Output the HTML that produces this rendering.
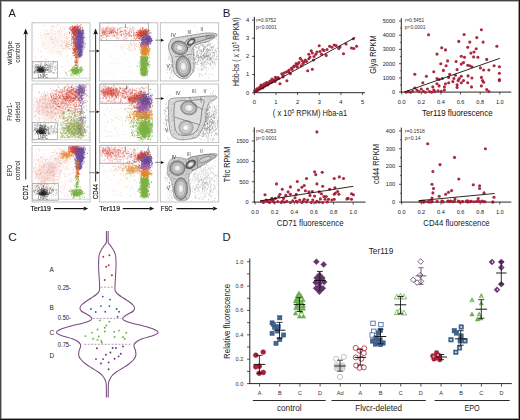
<!DOCTYPE html>
<html><head><meta charset="utf-8"><style>
html,body{margin:0;padding:0;background:#fff;}
svg{display:block;}
text{font-family:"Liberation Sans",sans-serif;}
</style></head><body>
<svg width="520" height="420" viewBox="0 0 520 420" font-family="Liberation Sans, sans-serif">
<rect width="520" height="420" fill="#fff"/>
<text x="222.80" y="16.80" font-size="11.5" text-anchor="start" fill="#1a1a1a" >B</text>
<line x1="254.40" y1="16.90" x2="254.40" y2="93.10" stroke="#111" stroke-width="0.9"/>
<line x1="252.00" y1="92.70" x2="254.40" y2="92.70" stroke="#111" stroke-width="0.7"/>
<text x="249.20" y="94.60" font-size="5.8" text-anchor="end" fill="#222" >0</text>
<line x1="252.00" y1="74.55" x2="254.40" y2="74.55" stroke="#111" stroke-width="0.7"/>
<text x="249.20" y="76.45" font-size="5.8" text-anchor="end" fill="#222" >1</text>
<line x1="252.00" y1="56.40" x2="254.40" y2="56.40" stroke="#111" stroke-width="0.7"/>
<text x="249.20" y="58.30" font-size="5.8" text-anchor="end" fill="#222" >2</text>
<line x1="252.00" y1="38.25" x2="254.40" y2="38.25" stroke="#111" stroke-width="0.7"/>
<text x="249.20" y="40.15" font-size="5.8" text-anchor="end" fill="#222" >3</text>
<line x1="252.00" y1="20.10" x2="254.40" y2="20.10" stroke="#111" stroke-width="0.7"/>
<text x="249.20" y="22.00" font-size="5.8" text-anchor="end" fill="#222" >4</text>
<line x1="254.00" y1="92.70" x2="365.00" y2="92.70" stroke="#111" stroke-width="0.9"/>
<line x1="254.30" y1="92.70" x2="254.30" y2="95.10" stroke="#111" stroke-width="0.7"/>
<text x="254.30" y="103.60" font-size="5.8" text-anchor="middle" fill="#222" >0</text>
<line x1="275.95" y1="92.70" x2="275.95" y2="95.10" stroke="#111" stroke-width="0.7"/>
<text x="275.95" y="103.60" font-size="5.8" text-anchor="middle" fill="#222" >1</text>
<line x1="297.60" y1="92.70" x2="297.60" y2="95.10" stroke="#111" stroke-width="0.7"/>
<text x="297.60" y="103.60" font-size="5.8" text-anchor="middle" fill="#222" >2</text>
<line x1="319.25" y1="92.70" x2="319.25" y2="95.10" stroke="#111" stroke-width="0.7"/>
<text x="319.25" y="103.60" font-size="5.8" text-anchor="middle" fill="#222" >3</text>
<line x1="340.90" y1="92.70" x2="340.90" y2="95.10" stroke="#111" stroke-width="0.7"/>
<text x="340.90" y="103.60" font-size="5.8" text-anchor="middle" fill="#222" >4</text>
<line x1="362.55" y1="92.70" x2="362.55" y2="95.10" stroke="#111" stroke-width="0.7"/>
<text x="362.55" y="103.60" font-size="5.8" text-anchor="middle" fill="#222" >5</text>
<text x="256.10" y="22.30" font-size="5.0" text-anchor="start" fill="#333" textLength="20" lengthAdjust="spacingAndGlyphs">r=0.9752</text>
<text x="256.10" y="29.20" font-size="5.0" text-anchor="start" fill="#333" textLength="20.7" lengthAdjust="spacingAndGlyphs">p&lt;0.0001</text>
<text transform="translate(239.4,51.8) rotate(-90)" font-size="8.6" text-anchor="middle" fill="#222" textLength="68.5" lengthAdjust="spacingAndGlyphs">Hbb-bs ( x 10<tspan font-size="5.5" dy="-3">5</tspan><tspan dy="3"> RPKM)</tspan></text>
<text x="310" y="116.2" font-size="8.6" text-anchor="middle" fill="#222" textLength="74.4" lengthAdjust="spacingAndGlyphs">( x 10<tspan font-size="5.5" dy="-3">5</tspan><tspan dy="3"> RPKM) Hba-a1</tspan></text>
<g fill="#a51d36" fill-opacity="0.95"><circle cx="353.4" cy="38.8" r="1.55"/><circle cx="356.6" cy="46.2" r="1.55"/><circle cx="351.5" cy="48.0" r="1.55"/><circle cx="353.8" cy="48.5" r="1.55"/><circle cx="343.5" cy="53.8" r="1.55"/><circle cx="338.8" cy="48.5" r="1.55"/><circle cx="334.2" cy="45.0" r="1.55"/><circle cx="329.6" cy="46.2" r="1.55"/><circle cx="332.0" cy="47.3" r="1.55"/><circle cx="319.2" cy="45.7" r="1.55"/><circle cx="322.7" cy="49.6" r="1.55"/><circle cx="321.5" cy="54.2" r="1.55"/><circle cx="326.2" cy="55.4" r="1.55"/><circle cx="311.2" cy="50.8" r="1.55"/><circle cx="312.3" cy="53.0" r="1.55"/><circle cx="308.8" cy="54.2" r="1.55"/><circle cx="315.8" cy="54.2" r="1.55"/><circle cx="313.5" cy="60.0" r="1.55"/><circle cx="308.8" cy="58.8" r="1.55"/><circle cx="305.4" cy="60.0" r="1.55"/><circle cx="300.3" cy="58.4" r="1.55"/><circle cx="307.7" cy="70.8" r="1.55"/><circle cx="312.3" cy="69.2" r="1.55"/><circle cx="301.2" cy="65.8" r="1.55"/><circle cx="296.2" cy="63.5" r="1.55"/><circle cx="297.3" cy="67.0" r="1.55"/><circle cx="293.8" cy="67.0" r="1.55"/><circle cx="291.5" cy="68.0" r="1.55"/><circle cx="288.0" cy="71.5" r="1.55"/><circle cx="290.4" cy="73.8" r="1.55"/><circle cx="286.9" cy="80.8" r="1.55"/><circle cx="280.0" cy="83.8" r="1.55"/><circle cx="281.8" cy="73.8" r="1.55"/><circle cx="275.4" cy="77.3" r="1.55"/><circle cx="273.0" cy="80.8" r="1.55"/><circle cx="270.8" cy="82.0" r="1.55"/><circle cx="268.5" cy="83.0" r="1.55"/><circle cx="266.2" cy="84.2" r="1.55"/><circle cx="263.8" cy="85.4" r="1.55"/><circle cx="261.5" cy="86.5" r="1.55"/><circle cx="259.2" cy="87.7" r="1.55"/><circle cx="257.0" cy="88.8" r="1.55"/><circle cx="254.6" cy="90.7" r="1.55"/><circle cx="304.0" cy="62.0" r="1.55"/><circle cx="302.0" cy="60.5" r="1.55"/><circle cx="298.0" cy="64.0" r="1.55"/><circle cx="294.0" cy="66.0" r="1.55"/><circle cx="284.0" cy="73.0" r="1.55"/><circle cx="286.0" cy="72.0" r="1.55"/><circle cx="278.0" cy="77.5" r="1.55"/><circle cx="276.0" cy="79.5" r="1.55"/><circle cx="272.0" cy="79.0" r="1.55"/><circle cx="270.0" cy="81.0" r="1.55"/><circle cx="267.0" cy="82.5" r="1.55"/><circle cx="264.0" cy="84.0" r="1.55"/><circle cx="262.0" cy="86.0" r="1.55"/><circle cx="260.0" cy="87.0" r="1.55"/><circle cx="258.0" cy="89.0" r="1.55"/><circle cx="256.0" cy="90.0" r="1.55"/><circle cx="255.5" cy="91.5" r="1.55"/><circle cx="257.5" cy="90.5" r="1.55"/><circle cx="260.0" cy="89.0" r="1.55"/><circle cx="262.5" cy="88.0" r="1.55"/><circle cx="265.0" cy="86.0" r="1.55"/><circle cx="267.5" cy="85.0" r="1.55"/><circle cx="269.5" cy="83.0" r="1.55"/><circle cx="271.5" cy="82.5" r="1.55"/><circle cx="274.0" cy="80.0" r="1.55"/><circle cx="277.0" cy="79.0" r="1.55"/><circle cx="279.0" cy="78.5" r="1.55"/><circle cx="283.0" cy="75.5" r="1.55"/><circle cx="289.0" cy="70.0" r="1.55"/><circle cx="292.0" cy="69.5" r="1.55"/><circle cx="296.0" cy="65.5" r="1.55"/><circle cx="299.0" cy="62.5" r="1.55"/><circle cx="303.0" cy="63.5" r="1.55"/><circle cx="306.5" cy="61.5" r="1.55"/><circle cx="310.0" cy="57.0" r="1.55"/><circle cx="314.0" cy="56.5" r="1.55"/><circle cx="317.0" cy="52.0" r="1.55"/><circle cx="320.0" cy="51.5" r="1.55"/><circle cx="324.0" cy="50.5" r="1.55"/><circle cx="327.0" cy="49.5" r="1.55"/><circle cx="336.0" cy="45.5" r="1.55"/><circle cx="340.0" cy="47.0" r="1.55"/><circle cx="346.0" cy="44.0" r="1.55"/><circle cx="266.0" cy="83.0" r="1.55"/><circle cx="268.0" cy="84.5" r="1.55"/><circle cx="263.0" cy="87.5" r="1.55"/><circle cx="261.0" cy="85.0" r="1.55"/><circle cx="272.5" cy="81.0" r="1.55"/><circle cx="275.0" cy="81.5" r="1.55"/><circle cx="277.0" cy="78.0" r="1.55"/><circle cx="283.0" cy="77.0" r="1.55"/><circle cx="289.0" cy="72.0" r="1.55"/></g>
<line x1="254.40" y1="92.40" x2="355.30" y2="37.40" stroke="#111" stroke-width="0.9"/>
<line x1="401.30" y1="18.20" x2="401.30" y2="92.50" stroke="#111" stroke-width="0.9"/>
<line x1="398.90" y1="92.10" x2="401.30" y2="92.10" stroke="#111" stroke-width="0.7"/>
<text x="395.20" y="94.00" font-size="5.6" text-anchor="end" fill="#222" >0</text>
<line x1="398.90" y1="77.88" x2="401.30" y2="77.88" stroke="#111" stroke-width="0.7"/>
<text x="395.20" y="79.78" font-size="5.6" text-anchor="end" fill="#222" >1000</text>
<line x1="398.90" y1="63.66" x2="401.30" y2="63.66" stroke="#111" stroke-width="0.7"/>
<text x="395.20" y="65.56" font-size="5.6" text-anchor="end" fill="#222" >2000</text>
<line x1="398.90" y1="49.44" x2="401.30" y2="49.44" stroke="#111" stroke-width="0.7"/>
<text x="395.20" y="51.34" font-size="5.6" text-anchor="end" fill="#222" >3000</text>
<line x1="398.90" y1="35.22" x2="401.30" y2="35.22" stroke="#111" stroke-width="0.7"/>
<text x="395.20" y="37.12" font-size="5.6" text-anchor="end" fill="#222" >4000</text>
<line x1="398.90" y1="21.00" x2="401.30" y2="21.00" stroke="#111" stroke-width="0.7"/>
<text x="395.20" y="22.90" font-size="5.6" text-anchor="end" fill="#222" >5000</text>
<line x1="399.90" y1="84.99" x2="401.30" y2="84.99" stroke="#111" stroke-width="0.6"/>
<line x1="399.90" y1="70.77" x2="401.30" y2="70.77" stroke="#111" stroke-width="0.6"/>
<line x1="399.90" y1="56.55" x2="401.30" y2="56.55" stroke="#111" stroke-width="0.6"/>
<line x1="399.90" y1="42.33" x2="401.30" y2="42.33" stroke="#111" stroke-width="0.6"/>
<line x1="399.90" y1="28.11" x2="401.30" y2="28.11" stroke="#111" stroke-width="0.6"/>
<line x1="400.90" y1="92.10" x2="511.30" y2="92.10" stroke="#111" stroke-width="0.9"/>
<line x1="401.70" y1="92.10" x2="401.70" y2="94.50" stroke="#111" stroke-width="0.7"/>
<text x="401.70" y="103.90" font-size="5.6" text-anchor="middle" fill="#222" >0.0</text>
<line x1="421.32" y1="92.10" x2="421.32" y2="94.50" stroke="#111" stroke-width="0.7"/>
<text x="421.32" y="103.90" font-size="5.6" text-anchor="middle" fill="#222" >0.2</text>
<line x1="440.94" y1="92.10" x2="440.94" y2="94.50" stroke="#111" stroke-width="0.7"/>
<text x="440.94" y="103.90" font-size="5.6" text-anchor="middle" fill="#222" >0.4</text>
<line x1="460.56" y1="92.10" x2="460.56" y2="94.50" stroke="#111" stroke-width="0.7"/>
<text x="460.56" y="103.90" font-size="5.6" text-anchor="middle" fill="#222" >0.6</text>
<line x1="480.18" y1="92.10" x2="480.18" y2="94.50" stroke="#111" stroke-width="0.7"/>
<text x="480.18" y="103.90" font-size="5.6" text-anchor="middle" fill="#222" >0.8</text>
<line x1="499.80" y1="92.10" x2="499.80" y2="94.50" stroke="#111" stroke-width="0.7"/>
<text x="499.80" y="103.90" font-size="5.6" text-anchor="middle" fill="#222" >1.0</text>
<text x="404.80" y="22.30" font-size="5.0" text-anchor="start" fill="#333" textLength="19.5" lengthAdjust="spacingAndGlyphs">r=0.5451</text>
<text x="404.80" y="29.20" font-size="5.0" text-anchor="start" fill="#333" textLength="20.7" lengthAdjust="spacingAndGlyphs">p&lt;0.0001</text>
<text transform="translate(376.4,54.6) rotate(-90)" font-size="8.3" text-anchor="middle" fill="#222" textLength="38.5" lengthAdjust="spacingAndGlyphs">Glya RPKM</text>
<text x="457.30" y="115.90" font-size="8.4" text-anchor="middle" fill="#111" textLength="70.6" lengthAdjust="spacingAndGlyphs">Ter119 fluorescence</text>
<g fill="#a51d36" fill-opacity="0.95"><circle cx="428.6" cy="34.7" r="1.55"/><circle cx="481.4" cy="29.8" r="1.55"/><circle cx="464.1" cy="34.5" r="1.55"/><circle cx="476.8" cy="37.6" r="1.55"/><circle cx="458.8" cy="41.4" r="1.55"/><circle cx="469.8" cy="42.1" r="1.55"/><circle cx="483.1" cy="42.1" r="1.55"/><circle cx="441.7" cy="47.8" r="1.55"/><circle cx="445.5" cy="49.9" r="1.55"/><circle cx="467.7" cy="47.2" r="1.55"/><circle cx="496.9" cy="46.3" r="1.55"/><circle cx="476.2" cy="48.8" r="1.55"/><circle cx="437.0" cy="54.1" r="1.55"/><circle cx="470.9" cy="53.1" r="1.55"/><circle cx="474.0" cy="52.0" r="1.55"/><circle cx="461.3" cy="56.3" r="1.55"/><circle cx="464.5" cy="57.3" r="1.55"/><circle cx="473.6" cy="56.9" r="1.55"/><circle cx="477.9" cy="57.3" r="1.55"/><circle cx="486.7" cy="59.4" r="1.55"/><circle cx="447.6" cy="60.9" r="1.55"/><circle cx="456.1" cy="61.5" r="1.55"/><circle cx="463.5" cy="62.6" r="1.55"/><circle cx="461.3" cy="64.1" r="1.55"/><circle cx="440.8" cy="63.7" r="1.55"/><circle cx="446.1" cy="65.8" r="1.55"/><circle cx="467.7" cy="65.3" r="1.55"/><circle cx="469.8" cy="65.8" r="1.55"/><circle cx="471.9" cy="66.8" r="1.55"/><circle cx="494.1" cy="65.8" r="1.55"/><circle cx="499.4" cy="66.8" r="1.55"/><circle cx="480.4" cy="67.9" r="1.55"/><circle cx="483.6" cy="70.0" r="1.55"/><circle cx="488.9" cy="70.0" r="1.55"/><circle cx="433.8" cy="71.7" r="1.55"/><circle cx="414.8" cy="74.2" r="1.55"/><circle cx="443.4" cy="70.4" r="1.55"/><circle cx="457.1" cy="69.6" r="1.55"/><circle cx="499.4" cy="73.2" r="1.55"/><circle cx="426.4" cy="76.3" r="1.55"/><circle cx="449.7" cy="74.2" r="1.55"/><circle cx="455.4" cy="75.3" r="1.55"/><circle cx="468.1" cy="75.9" r="1.55"/><circle cx="481.4" cy="77.4" r="1.55"/><circle cx="448.7" cy="77.4" r="1.55"/><circle cx="437.0" cy="78.5" r="1.55"/><circle cx="439.1" cy="79.5" r="1.55"/><circle cx="442.3" cy="78.5" r="1.55"/><circle cx="453.9" cy="78.5" r="1.55"/><circle cx="461.3" cy="76.3" r="1.55"/><circle cx="471.9" cy="78.0" r="1.55"/><circle cx="499.4" cy="79.5" r="1.55"/><circle cx="499.4" cy="80.6" r="1.55"/><circle cx="422.8" cy="82.7" r="1.55"/><circle cx="437.0" cy="83.8" r="1.55"/><circle cx="445.5" cy="83.8" r="1.55"/><circle cx="452.9" cy="81.6" r="1.55"/><circle cx="458.2" cy="80.6" r="1.55"/><circle cx="463.5" cy="80.6" r="1.55"/><circle cx="461.3" cy="82.7" r="1.55"/><circle cx="467.7" cy="82.7" r="1.55"/><circle cx="482.5" cy="80.6" r="1.55"/><circle cx="483.6" cy="82.3" r="1.55"/><circle cx="448.7" cy="82.7" r="1.55"/><circle cx="439.1" cy="85.9" r="1.55"/><circle cx="444.4" cy="86.9" r="1.55"/><circle cx="457.1" cy="87.4" r="1.55"/><circle cx="471.5" cy="86.9" r="1.55"/><circle cx="481.4" cy="85.9" r="1.55"/><circle cx="414.8" cy="88.0" r="1.55"/><circle cx="432.8" cy="86.9" r="1.55"/><circle cx="427.5" cy="89.0" r="1.55"/><circle cx="421.2" cy="89.0" r="1.55"/><circle cx="416.9" cy="90.1" r="1.55"/><circle cx="412.7" cy="91.2" r="1.55"/><circle cx="408.5" cy="91.6" r="1.55"/><circle cx="419.0" cy="91.6" r="1.55"/><circle cx="423.3" cy="91.2" r="1.55"/><circle cx="429.6" cy="91.6" r="1.55"/><circle cx="433.8" cy="90.1" r="1.55"/><circle cx="438.1" cy="90.7" r="1.55"/><circle cx="444.4" cy="90.1" r="1.55"/><circle cx="486.7" cy="89.5" r="1.55"/><circle cx="488.9" cy="91.6" r="1.55"/><circle cx="410.6" cy="92.2" r="1.55"/><circle cx="431.7" cy="92.2" r="1.55"/><circle cx="425.4" cy="92.2" r="1.55"/><circle cx="406.3" cy="92.2" r="1.55"/><circle cx="434.9" cy="91.6" r="1.55"/><circle cx="441.3" cy="91.2" r="1.55"/><circle cx="457.1" cy="84.8" r="1.55"/><circle cx="459.2" cy="78.5" r="1.55"/></g>
<line x1="404.00" y1="92.10" x2="499.80" y2="58.30" stroke="#111" stroke-width="0.9"/>
<line x1="254.30" y1="127.40" x2="254.30" y2="202.50" stroke="#111" stroke-width="0.9"/>
<line x1="251.90" y1="202.10" x2="254.30" y2="202.10" stroke="#111" stroke-width="0.7"/>
<text x="248.60" y="204.00" font-size="5.6" text-anchor="end" fill="#222" >0</text>
<line x1="251.90" y1="181.75" x2="254.30" y2="181.75" stroke="#111" stroke-width="0.7"/>
<text x="248.60" y="183.65" font-size="5.6" text-anchor="end" fill="#222" >500</text>
<line x1="251.90" y1="161.40" x2="254.30" y2="161.40" stroke="#111" stroke-width="0.7"/>
<text x="248.60" y="163.30" font-size="5.6" text-anchor="end" fill="#222" >1000</text>
<line x1="251.90" y1="141.05" x2="254.30" y2="141.05" stroke="#111" stroke-width="0.7"/>
<text x="248.60" y="142.95" font-size="5.6" text-anchor="end" fill="#222" >1500</text>
<line x1="252.90" y1="191.92" x2="254.30" y2="191.92" stroke="#111" stroke-width="0.6"/>
<line x1="252.90" y1="171.57" x2="254.30" y2="171.57" stroke="#111" stroke-width="0.6"/>
<line x1="252.90" y1="151.22" x2="254.30" y2="151.22" stroke="#111" stroke-width="0.6"/>
<line x1="252.90" y1="130.88" x2="254.30" y2="130.88" stroke="#111" stroke-width="0.6"/>
<line x1="253.90" y1="202.10" x2="365.60" y2="202.10" stroke="#111" stroke-width="0.9"/>
<line x1="255.10" y1="202.10" x2="255.10" y2="204.50" stroke="#111" stroke-width="0.7"/>
<text x="255.10" y="213.80" font-size="5.6" text-anchor="middle" fill="#222" >0.0</text>
<line x1="274.72" y1="202.10" x2="274.72" y2="204.50" stroke="#111" stroke-width="0.7"/>
<text x="274.72" y="213.80" font-size="5.6" text-anchor="middle" fill="#222" >0.2</text>
<line x1="294.34" y1="202.10" x2="294.34" y2="204.50" stroke="#111" stroke-width="0.7"/>
<text x="294.34" y="213.80" font-size="5.6" text-anchor="middle" fill="#222" >0.4</text>
<line x1="313.96" y1="202.10" x2="313.96" y2="204.50" stroke="#111" stroke-width="0.7"/>
<text x="313.96" y="213.80" font-size="5.6" text-anchor="middle" fill="#222" >0.6</text>
<line x1="333.58" y1="202.10" x2="333.58" y2="204.50" stroke="#111" stroke-width="0.7"/>
<text x="333.58" y="213.80" font-size="5.6" text-anchor="middle" fill="#222" >0.8</text>
<line x1="353.20" y1="202.10" x2="353.20" y2="204.50" stroke="#111" stroke-width="0.7"/>
<text x="353.20" y="213.80" font-size="5.6" text-anchor="middle" fill="#222" >1.0</text>
<text x="256.10" y="133.10" font-size="5.0" text-anchor="start" fill="#333" textLength="20" lengthAdjust="spacingAndGlyphs">r=0.4053</text>
<text x="256.10" y="139.60" font-size="5.0" text-anchor="start" fill="#333" textLength="20.7" lengthAdjust="spacingAndGlyphs">p&lt;0.0001</text>
<text transform="translate(229.8,164.5) rotate(-90)" font-size="8.3" text-anchor="middle" fill="#222" textLength="35.3" lengthAdjust="spacingAndGlyphs">Tfrc RPKM</text>
<text x="310.20" y="226.00" font-size="8.4" text-anchor="middle" fill="#222" textLength="66.7" lengthAdjust="spacingAndGlyphs">CD71 fluorescence</text>
<g fill="#a51d36" fill-opacity="0.95"><circle cx="316.9" cy="131.9" r="1.55"/><circle cx="314.6" cy="171.8" r="1.55"/><circle cx="315.8" cy="174.6" r="1.55"/><circle cx="322.2" cy="172.3" r="1.55"/><circle cx="306.5" cy="178.5" r="1.55"/><circle cx="297.3" cy="181.5" r="1.55"/><circle cx="276.5" cy="183.9" r="1.55"/><circle cx="339.3" cy="176.9" r="1.55"/><circle cx="343.5" cy="178.5" r="1.55"/><circle cx="334.2" cy="178.5" r="1.55"/><circle cx="316.9" cy="183.9" r="1.55"/><circle cx="322.7" cy="186.2" r="1.55"/><circle cx="304.2" cy="185.5" r="1.55"/><circle cx="301.9" cy="187.3" r="1.55"/><circle cx="290.4" cy="186.9" r="1.55"/><circle cx="282.3" cy="189.2" r="1.55"/><circle cx="265.0" cy="194.7" r="1.55"/><circle cx="334.9" cy="187.8" r="1.55"/><circle cx="337.7" cy="191.5" r="1.55"/><circle cx="335.4" cy="193.1" r="1.55"/><circle cx="334.2" cy="194.2" r="1.55"/><circle cx="351.5" cy="193.8" r="1.55"/><circle cx="353.4" cy="194.7" r="1.55"/><circle cx="298.5" cy="190.1" r="1.55"/><circle cx="305.4" cy="190.8" r="1.55"/><circle cx="308.9" cy="191.9" r="1.55"/><circle cx="312.3" cy="191.5" r="1.55"/><circle cx="319.2" cy="191.9" r="1.55"/><circle cx="321.5" cy="193.8" r="1.55"/><circle cx="323.9" cy="196.5" r="1.55"/><circle cx="326.2" cy="196.5" r="1.55"/><circle cx="320.4" cy="198.9" r="1.55"/><circle cx="288.1" cy="191.9" r="1.55"/><circle cx="290.4" cy="194.2" r="1.55"/><circle cx="285.8" cy="195.4" r="1.55"/><circle cx="280.0" cy="194.2" r="1.55"/><circle cx="278.8" cy="196.5" r="1.55"/><circle cx="283.5" cy="198.4" r="1.55"/><circle cx="275.4" cy="198.4" r="1.55"/><circle cx="273.1" cy="200.0" r="1.55"/><circle cx="270.8" cy="200.0" r="1.55"/><circle cx="267.3" cy="201.2" r="1.55"/><circle cx="263.8" cy="201.6" r="1.55"/><circle cx="261.5" cy="201.2" r="1.55"/><circle cx="268.5" cy="201.6" r="1.55"/><circle cx="277.7" cy="201.6" r="1.55"/><circle cx="286.9" cy="201.2" r="1.55"/><circle cx="292.7" cy="200.7" r="1.55"/><circle cx="299.6" cy="200.0" r="1.55"/><circle cx="304.2" cy="199.3" r="1.55"/><circle cx="307.7" cy="200.0" r="1.55"/><circle cx="312.8" cy="200.0" r="1.55"/><circle cx="316.9" cy="201.2" r="1.55"/><circle cx="325.0" cy="199.3" r="1.55"/><circle cx="331.9" cy="200.0" r="1.55"/><circle cx="334.2" cy="199.3" r="1.55"/><circle cx="348.1" cy="198.4" r="1.55"/><circle cx="351.5" cy="199.3" r="1.55"/><circle cx="295.0" cy="197.7" r="1.55"/><circle cx="314.6" cy="196.1" r="1.55"/><circle cx="329.6" cy="189.2" r="1.55"/><circle cx="310.0" cy="195.4" r="1.55"/><circle cx="273.1" cy="201.6" r="1.55"/><circle cx="282.3" cy="201.2" r="1.55"/><circle cx="296.2" cy="201.2" r="1.55"/><circle cx="303.1" cy="201.2" r="1.55"/><circle cx="328.5" cy="199.3" r="1.55"/><circle cx="338.9" cy="194.2" r="1.55"/><circle cx="346.9" cy="198.9" r="1.55"/><circle cx="271.9" cy="198.4" r="1.55"/><circle cx="266.2" cy="200.0" r="1.55"/><circle cx="296.2" cy="194.2" r="1.55"/><circle cx="274.2" cy="202.3" r="1.55"/><circle cx="281.2" cy="202.5" r="1.55"/><circle cx="284.6" cy="202.1" r="1.55"/><circle cx="290.4" cy="202.5" r="1.55"/><circle cx="297.3" cy="202.1" r="1.55"/><circle cx="301.9" cy="202.5" r="1.55"/><circle cx="306.5" cy="201.9" r="1.55"/><circle cx="311.2" cy="202.5" r="1.55"/><circle cx="315.8" cy="202.3" r="1.55"/><circle cx="319.2" cy="202.1" r="1.55"/><circle cx="322.7" cy="202.5" r="1.55"/><circle cx="327.3" cy="201.9" r="1.55"/><circle cx="263.4" cy="202.5" r="1.55"/><circle cx="269.6" cy="202.5" r="1.55"/></g>
<line x1="260.40" y1="200.80" x2="353.30" y2="186.30" stroke="#111" stroke-width="0.9"/>
<line x1="401.30" y1="127.60" x2="401.30" y2="202.50" stroke="#111" stroke-width="0.9"/>
<line x1="398.90" y1="202.10" x2="401.30" y2="202.10" stroke="#111" stroke-width="0.7"/>
<text x="395.20" y="204.00" font-size="5.6" text-anchor="end" fill="#222" >0</text>
<line x1="398.90" y1="184.30" x2="401.30" y2="184.30" stroke="#111" stroke-width="0.7"/>
<text x="395.20" y="186.20" font-size="5.6" text-anchor="end" fill="#222" >100</text>
<line x1="398.90" y1="166.50" x2="401.30" y2="166.50" stroke="#111" stroke-width="0.7"/>
<text x="395.20" y="168.40" font-size="5.6" text-anchor="end" fill="#222" >200</text>
<line x1="398.90" y1="148.70" x2="401.30" y2="148.70" stroke="#111" stroke-width="0.7"/>
<text x="395.20" y="150.60" font-size="5.6" text-anchor="end" fill="#222" >300</text>
<line x1="398.90" y1="130.90" x2="401.30" y2="130.90" stroke="#111" stroke-width="0.7"/>
<text x="395.20" y="132.80" font-size="5.6" text-anchor="end" fill="#222" >400</text>
<line x1="399.90" y1="193.20" x2="401.30" y2="193.20" stroke="#111" stroke-width="0.6"/>
<line x1="399.90" y1="175.40" x2="401.30" y2="175.40" stroke="#111" stroke-width="0.6"/>
<line x1="399.90" y1="157.60" x2="401.30" y2="157.60" stroke="#111" stroke-width="0.6"/>
<line x1="399.90" y1="139.80" x2="401.30" y2="139.80" stroke="#111" stroke-width="0.6"/>
<line x1="400.90" y1="202.10" x2="511.30" y2="202.10" stroke="#111" stroke-width="0.9"/>
<line x1="401.70" y1="202.10" x2="401.70" y2="204.50" stroke="#111" stroke-width="0.7"/>
<text x="401.70" y="213.80" font-size="5.6" text-anchor="middle" fill="#222" >0.0</text>
<line x1="421.32" y1="202.10" x2="421.32" y2="204.50" stroke="#111" stroke-width="0.7"/>
<text x="421.32" y="213.80" font-size="5.6" text-anchor="middle" fill="#222" >0.2</text>
<line x1="440.94" y1="202.10" x2="440.94" y2="204.50" stroke="#111" stroke-width="0.7"/>
<text x="440.94" y="213.80" font-size="5.6" text-anchor="middle" fill="#222" >0.4</text>
<line x1="460.56" y1="202.10" x2="460.56" y2="204.50" stroke="#111" stroke-width="0.7"/>
<text x="460.56" y="213.80" font-size="5.6" text-anchor="middle" fill="#222" >0.6</text>
<line x1="480.18" y1="202.10" x2="480.18" y2="204.50" stroke="#111" stroke-width="0.7"/>
<text x="480.18" y="213.80" font-size="5.6" text-anchor="middle" fill="#222" >0.8</text>
<line x1="499.80" y1="202.10" x2="499.80" y2="204.50" stroke="#111" stroke-width="0.7"/>
<text x="499.80" y="213.80" font-size="5.6" text-anchor="middle" fill="#222" >1.0</text>
<text x="404.80" y="133.10" font-size="5.0" text-anchor="start" fill="#333" textLength="20" lengthAdjust="spacingAndGlyphs">r=0.1518</text>
<text x="404.80" y="139.60" font-size="5.0" text-anchor="start" fill="#333" textLength="15.8" lengthAdjust="spacingAndGlyphs">p&lt;0.14</text>
<text transform="translate(378.6,164) rotate(-90)" font-size="8.3" text-anchor="middle" fill="#222" textLength="40" lengthAdjust="spacingAndGlyphs">cd44 RPKM</text>
<text x="456.50" y="226.00" font-size="8.4" text-anchor="middle" fill="#222" textLength="66.3" lengthAdjust="spacingAndGlyphs">CD44 fluorescence</text>
<g fill="#a51d36" fill-opacity="0.95"><circle cx="427.7" cy="143.8" r="1.55"/><circle cx="485.4" cy="148.7" r="1.55"/><circle cx="454.5" cy="157.4" r="1.55"/><circle cx="440.0" cy="164.6" r="1.55"/><circle cx="432.9" cy="171.5" r="1.55"/><circle cx="458.8" cy="179.0" r="1.55"/><circle cx="432.0" cy="184.2" r="1.55"/><circle cx="473.3" cy="184.8" r="1.55"/><circle cx="479.6" cy="185.7" r="1.55"/><circle cx="479.6" cy="188.5" r="1.55"/><circle cx="433.5" cy="188.5" r="1.55"/><circle cx="432.9" cy="192.9" r="1.55"/><circle cx="439.2" cy="196.3" r="1.55"/><circle cx="445.6" cy="194.3" r="1.55"/><circle cx="448.5" cy="192.3" r="1.55"/><circle cx="451.6" cy="190.6" r="1.55"/><circle cx="484.0" cy="192.9" r="1.55"/><circle cx="478.2" cy="198.6" r="1.55"/><circle cx="494.0" cy="197.2" r="1.55"/><circle cx="432.0" cy="198.0" r="1.55"/><circle cx="455.0" cy="199.0" r="1.55"/><circle cx="443.1" cy="201.9" r="1.55"/><circle cx="468.0" cy="202.0" r="1.55"/><circle cx="459.2" cy="201.7" r="1.55"/><circle cx="422.9" cy="201.5" r="1.55"/><circle cx="421.3" cy="201.6" r="1.55"/><circle cx="423.8" cy="202.0" r="1.55"/><circle cx="450.8" cy="201.1" r="1.55"/><circle cx="427.9" cy="201.8" r="1.55"/><circle cx="466.2" cy="201.0" r="1.55"/><circle cx="462.4" cy="201.6" r="1.55"/><circle cx="492.7" cy="202.0" r="1.55"/><circle cx="483.7" cy="201.8" r="1.55"/><circle cx="429.5" cy="202.0" r="1.55"/><circle cx="441.9" cy="201.1" r="1.55"/><circle cx="432.2" cy="201.4" r="1.55"/><circle cx="467.1" cy="201.7" r="1.55"/><circle cx="460.1" cy="202.0" r="1.55"/><circle cx="423.0" cy="201.9" r="1.55"/><circle cx="470.2" cy="201.6" r="1.55"/><circle cx="442.4" cy="201.4" r="1.55"/><circle cx="452.9" cy="201.7" r="1.55"/><circle cx="478.9" cy="201.3" r="1.55"/><circle cx="437.1" cy="201.4" r="1.55"/><circle cx="458.4" cy="201.0" r="1.55"/><circle cx="473.9" cy="201.8" r="1.55"/><circle cx="493.0" cy="202.0" r="1.55"/><circle cx="450.3" cy="201.2" r="1.55"/><circle cx="430.1" cy="201.5" r="1.55"/><circle cx="421.5" cy="201.3" r="1.55"/><circle cx="476.6" cy="201.4" r="1.55"/><circle cx="485.0" cy="201.7" r="1.55"/><circle cx="471.3" cy="201.4" r="1.55"/><circle cx="462.6" cy="201.6" r="1.55"/><circle cx="482.3" cy="201.0" r="1.55"/><circle cx="454.5" cy="201.3" r="1.55"/><circle cx="423.1" cy="201.3" r="1.55"/><circle cx="467.7" cy="200.9" r="1.55"/><circle cx="481.0" cy="201.8" r="1.55"/><circle cx="447.8" cy="201.3" r="1.55"/><circle cx="420.2" cy="201.5" r="1.55"/><circle cx="431.3" cy="202.0" r="1.55"/><circle cx="423.0" cy="201.2" r="1.55"/><circle cx="428.3" cy="201.8" r="1.55"/><circle cx="448.2" cy="201.1" r="1.55"/><circle cx="424.6" cy="201.6" r="1.55"/></g>
<line x1="418.50" y1="200.70" x2="494.60" y2="193.50" stroke="#111" stroke-width="0.9"/>
<text x="8.20" y="240.80" font-size="11.8" text-anchor="start" fill="#1a1a1a" >C</text>
<path d="M106.40,231.00 C106.40,231.83 106.42,234.08 106.40,236.00 C106.38,237.92 106.73,240.83 106.30,242.50 C105.87,244.17 104.73,244.58 103.80,246.00 C102.87,247.42 101.50,249.33 100.70,251.00 C99.90,252.67 99.35,254.17 99.00,256.00 C98.65,257.83 98.65,259.67 98.60,262.00 C98.55,264.33 98.58,267.00 98.70,270.00 C98.82,273.00 99.15,277.17 99.30,280.00 C99.45,282.83 99.60,285.17 99.60,287.00 C99.60,288.83 99.85,289.75 99.30,291.00 C98.75,292.25 97.63,293.33 96.30,294.50 C94.97,295.67 93.05,296.83 91.30,298.00 C89.55,299.17 87.42,300.33 85.80,301.50 C84.18,302.67 82.57,303.92 81.60,305.00 C80.63,306.08 80.05,307.00 80.00,308.00 C79.95,309.00 80.25,310.00 81.30,311.00 C82.35,312.00 84.80,313.08 86.30,314.00 C87.80,314.92 89.35,315.75 90.30,316.50 C91.25,317.25 92.00,317.83 92.00,318.50 C92.00,319.17 91.75,319.75 90.30,320.50 C88.85,321.25 86.47,322.08 83.30,323.00 C80.13,323.92 74.97,325.00 71.30,326.00 C67.63,327.00 63.77,327.93 61.30,329.00 C58.83,330.07 56.50,331.32 56.50,332.40 C56.50,333.48 58.67,334.45 61.30,335.50 C63.93,336.55 69.55,337.70 72.30,338.70 C75.05,339.70 76.43,340.53 77.80,341.50 C79.17,342.47 80.08,343.50 80.50,344.50 C80.92,345.50 80.55,346.42 80.30,347.50 C80.05,348.58 79.23,349.58 79.00,351.00 C78.77,352.42 78.52,354.50 78.90,356.00 C79.28,357.50 80.15,358.67 81.30,360.00 C82.45,361.33 84.05,362.67 85.80,364.00 C87.55,365.33 89.72,366.67 91.80,368.00 C93.88,369.33 96.47,370.67 98.30,372.00 C100.13,373.33 101.67,374.67 102.80,376.00 C103.93,377.33 104.53,378.67 105.10,380.00 C105.67,381.33 105.98,381.08 106.20,384.00 C106.42,386.92 106.37,395.25 106.40,397.50" fill="none" stroke="#7b4a82" stroke-width="1.05"/>
<path d="M108.20,231.00 C108.20,231.83 108.18,234.08 108.20,236.00 C108.22,237.92 107.87,240.83 108.30,242.50 C108.73,244.17 109.87,244.58 110.80,246.00 C111.73,247.42 113.10,249.33 113.90,251.00 C114.70,252.67 115.25,254.17 115.60,256.00 C115.95,257.83 115.95,259.67 116.00,262.00 C116.05,264.33 116.02,267.00 115.90,270.00 C115.78,273.00 115.45,277.17 115.30,280.00 C115.15,282.83 115.00,285.17 115.00,287.00 C115.00,288.83 114.75,289.75 115.30,291.00 C115.85,292.25 116.97,293.33 118.30,294.50 C119.63,295.67 121.55,296.83 123.30,298.00 C125.05,299.17 127.18,300.33 128.80,301.50 C130.42,302.67 132.03,303.92 133.00,305.00 C133.97,306.08 134.55,307.00 134.60,308.00 C134.65,309.00 134.35,310.00 133.30,311.00 C132.25,312.00 129.80,313.08 128.30,314.00 C126.80,314.92 125.25,315.75 124.30,316.50 C123.35,317.25 122.60,317.83 122.60,318.50 C122.60,319.17 122.85,319.75 124.30,320.50 C125.75,321.25 128.13,322.08 131.30,323.00 C134.47,323.92 139.63,325.00 143.30,326.00 C146.97,327.00 150.83,327.93 153.30,329.00 C155.77,330.07 158.10,331.32 158.10,332.40 C158.10,333.48 155.93,334.45 153.30,335.50 C150.67,336.55 145.05,337.70 142.30,338.70 C139.55,339.70 138.17,340.53 136.80,341.50 C135.43,342.47 134.52,343.50 134.10,344.50 C133.68,345.50 134.05,346.42 134.30,347.50 C134.55,348.58 135.37,349.58 135.60,351.00 C135.83,352.42 136.08,354.50 135.70,356.00 C135.32,357.50 134.45,358.67 133.30,360.00 C132.15,361.33 130.55,362.67 128.80,364.00 C127.05,365.33 124.88,366.67 122.80,368.00 C120.72,369.33 118.13,370.67 116.30,372.00 C114.47,373.33 112.93,374.67 111.80,376.00 C110.67,377.33 110.07,378.67 109.50,380.00 C108.93,381.33 108.62,381.08 108.40,384.00 C108.18,386.92 108.23,395.25 108.20,397.50" fill="none" stroke="#7b4a82" stroke-width="1.05"/>
<line x1="100.6" y1="287.2" x2="114" y2="287.2" stroke="#9b7fa0" stroke-width="0.75" stroke-dasharray="2,1.4"/>
<line x1="93" y1="318.4" x2="121.2" y2="318.4" stroke="#9b7fa0" stroke-width="0.75" stroke-dasharray="2,1.4"/>
<line x1="84.3" y1="344.3" x2="130.7" y2="344.3" stroke="#9b7fa0" stroke-width="0.75" stroke-dasharray="2,1.4"/>
<text x="51.70" y="271.60" font-size="6.4" text-anchor="middle" fill="#222" >A</text>
<text x="51.70" y="309.60" font-size="6.4" text-anchor="middle" fill="#222" >B</text>
<text x="51.70" y="335.30" font-size="6.4" text-anchor="middle" fill="#222" >C</text>
<text x="51.70" y="358.10" font-size="6.4" text-anchor="middle" fill="#222" >D</text>
<text x="57.80" y="289.70" font-size="6.6" text-anchor="start" fill="#222" textLength="13.2" lengthAdjust="spacingAndGlyphs">0.25-</text>
<text x="57.80" y="320.10" font-size="6.6" text-anchor="start" fill="#222" textLength="13.2" lengthAdjust="spacingAndGlyphs">0.50-</text>
<text x="57.80" y="346.70" font-size="6.6" text-anchor="start" fill="#222" textLength="13.2" lengthAdjust="spacingAndGlyphs">0.75-</text>
<g fill="#c0283a"><circle cx="103.3" cy="256.8" r="0.95"/><circle cx="109.4" cy="255.2" r="0.95"/><circle cx="106.2" cy="266.7" r="0.95"/><circle cx="108.7" cy="265.3" r="0.95"/><circle cx="111.9" cy="275.2" r="0.95"/><circle cx="104.7" cy="280.0" r="0.95"/></g>
<g fill="#3a5fa0"><circle cx="102.8" cy="296.6" r="0.95"/><circle cx="110.0" cy="299.6" r="0.95"/><circle cx="100.9" cy="306.1" r="0.95"/><circle cx="109.4" cy="306.1" r="0.95"/><circle cx="91.0" cy="309.0" r="0.95"/><circle cx="95.7" cy="312.0" r="0.95"/><circle cx="105.2" cy="311.8" r="0.95"/><circle cx="116.7" cy="309.0" r="0.95"/><circle cx="119.1" cy="311.8" r="0.95"/><circle cx="117.6" cy="316.8" r="0.95"/></g>
<g fill="#6cb33e"><circle cx="99.8" cy="320.4" r="0.95"/><circle cx="109.3" cy="321.7" r="0.95"/><circle cx="106.4" cy="325.5" r="0.95"/><circle cx="97.5" cy="329.5" r="0.95"/><circle cx="104.8" cy="327.7" r="0.95"/><circle cx="104.8" cy="331.5" r="0.95"/><circle cx="92.0" cy="332.6" r="0.95"/><circle cx="114.1" cy="331.7" r="0.95"/><circle cx="119.0" cy="330.6" r="0.95"/><circle cx="126.3" cy="332.8" r="0.95"/><circle cx="85.4" cy="336.1" r="0.95"/><circle cx="98.7" cy="336.5" r="0.95"/><circle cx="114.6" cy="337.0" r="0.95"/><circle cx="123.0" cy="337.0" r="0.95"/><circle cx="124.7" cy="338.7" r="0.95"/><circle cx="93.1" cy="338.7" r="0.95"/><circle cx="97.5" cy="339.9" r="0.95"/><circle cx="101.3" cy="341.0" r="0.95"/><circle cx="102.0" cy="342.7" r="0.95"/></g>
<g fill="#6a3378"><circle cx="96.9" cy="348.3" r="0.95"/><circle cx="112.6" cy="348.0" r="0.95"/><circle cx="115.9" cy="348.0" r="0.95"/><circle cx="123.0" cy="346.5" r="0.95"/><circle cx="110.4" cy="352.5" r="0.95"/><circle cx="106.0" cy="354.7" r="0.95"/><circle cx="120.8" cy="353.8" r="0.95"/><circle cx="118.6" cy="356.4" r="0.95"/><circle cx="114.6" cy="358.7" r="0.95"/><circle cx="96.0" cy="359.1" r="0.95"/><circle cx="103.1" cy="359.1" r="0.95"/><circle cx="108.6" cy="362.4" r="0.95"/><circle cx="100.9" cy="363.5" r="0.95"/><circle cx="108.6" cy="369.3" r="0.95"/></g>
<text x="222.60" y="240.80" font-size="11.2" text-anchor="start" fill="#1a1a1a" >D</text>
<line x1="249.80" y1="258.50" x2="249.80" y2="384.00" stroke="#111" stroke-width="0.9"/>
<line x1="247.00" y1="383.60" x2="249.80" y2="383.60" stroke="#111" stroke-width="0.7"/>
<text x="243.30" y="385.50" font-size="5.6" text-anchor="end" fill="#333" >0.0</text>
<line x1="247.00" y1="371.41" x2="249.80" y2="371.41" stroke="#111" stroke-width="0.7"/>
<line x1="247.00" y1="359.22" x2="249.80" y2="359.22" stroke="#111" stroke-width="0.7"/>
<text x="243.30" y="361.12" font-size="5.6" text-anchor="end" fill="#333" >0.2</text>
<line x1="247.00" y1="347.03" x2="249.80" y2="347.03" stroke="#111" stroke-width="0.7"/>
<line x1="247.00" y1="334.84" x2="249.80" y2="334.84" stroke="#111" stroke-width="0.7"/>
<text x="243.30" y="336.74" font-size="5.6" text-anchor="end" fill="#333" >0.4</text>
<line x1="247.00" y1="322.65" x2="249.80" y2="322.65" stroke="#111" stroke-width="0.7"/>
<line x1="247.00" y1="310.46" x2="249.80" y2="310.46" stroke="#111" stroke-width="0.7"/>
<text x="243.30" y="312.36" font-size="5.6" text-anchor="end" fill="#333" >0.6</text>
<line x1="247.00" y1="298.27" x2="249.80" y2="298.27" stroke="#111" stroke-width="0.7"/>
<line x1="247.00" y1="286.08" x2="249.80" y2="286.08" stroke="#111" stroke-width="0.7"/>
<text x="243.30" y="287.98" font-size="5.6" text-anchor="end" fill="#333" >0.8</text>
<line x1="247.00" y1="273.89" x2="249.80" y2="273.89" stroke="#111" stroke-width="0.7"/>
<line x1="247.00" y1="261.70" x2="249.80" y2="261.70" stroke="#111" stroke-width="0.7"/>
<text x="243.30" y="263.60" font-size="5.6" text-anchor="end" fill="#333" >1.0</text>
<line x1="249.40" y1="383.60" x2="511.80" y2="383.60" stroke="#111" stroke-width="0.9"/>
<line x1="259.60" y1="383.60" x2="259.60" y2="386.60" stroke="#111" stroke-width="0.7"/>
<text x="259.60" y="395.30" font-size="5.6" text-anchor="middle" fill="#333" >A</text>
<line x1="279.76" y1="383.60" x2="279.76" y2="386.60" stroke="#111" stroke-width="0.7"/>
<text x="279.76" y="395.30" font-size="5.6" text-anchor="middle" fill="#333" >B</text>
<line x1="299.92" y1="383.60" x2="299.92" y2="386.60" stroke="#111" stroke-width="0.7"/>
<text x="299.92" y="395.30" font-size="5.6" text-anchor="middle" fill="#333" >C</text>
<line x1="320.08" y1="383.60" x2="320.08" y2="386.60" stroke="#111" stroke-width="0.7"/>
<text x="320.08" y="395.30" font-size="5.6" text-anchor="middle" fill="#333" >D</text>
<line x1="340.24" y1="383.60" x2="340.24" y2="386.60" stroke="#111" stroke-width="0.7"/>
<text x="340.24" y="395.30" font-size="5.6" text-anchor="middle" fill="#333" >Ad</text>
<line x1="360.40" y1="383.60" x2="360.40" y2="386.60" stroke="#111" stroke-width="0.7"/>
<text x="360.40" y="395.30" font-size="5.6" text-anchor="middle" fill="#333" >A</text>
<line x1="380.56" y1="383.60" x2="380.56" y2="386.60" stroke="#111" stroke-width="0.7"/>
<text x="380.56" y="395.30" font-size="5.6" text-anchor="middle" fill="#333" >B</text>
<line x1="400.72" y1="383.60" x2="400.72" y2="386.60" stroke="#111" stroke-width="0.7"/>
<text x="400.72" y="395.30" font-size="5.6" text-anchor="middle" fill="#333" >C</text>
<line x1="420.88" y1="383.60" x2="420.88" y2="386.60" stroke="#111" stroke-width="0.7"/>
<text x="420.88" y="395.30" font-size="5.6" text-anchor="middle" fill="#333" >D</text>
<line x1="441.04" y1="383.60" x2="441.04" y2="386.60" stroke="#111" stroke-width="0.7"/>
<text x="441.04" y="395.30" font-size="5.6" text-anchor="middle" fill="#333" >A</text>
<line x1="461.20" y1="383.60" x2="461.20" y2="386.60" stroke="#111" stroke-width="0.7"/>
<text x="461.20" y="395.30" font-size="5.6" text-anchor="middle" fill="#333" >B</text>
<line x1="481.36" y1="383.60" x2="481.36" y2="386.60" stroke="#111" stroke-width="0.7"/>
<text x="481.36" y="395.30" font-size="5.6" text-anchor="middle" fill="#333" >C</text>
<line x1="501.52" y1="383.60" x2="501.52" y2="386.60" stroke="#111" stroke-width="0.7"/>
<text x="501.52" y="395.30" font-size="5.6" text-anchor="middle" fill="#333" >D</text>
<line x1="252.90" y1="400.50" x2="325.70" y2="400.50" stroke="#111" stroke-width="0.9"/>
<text x="289.30" y="410.90" font-size="8.3" text-anchor="middle" fill="#222" textLength="24.8" lengthAdjust="spacingAndGlyphs">control</text>
<line x1="331.50" y1="400.50" x2="425.80" y2="400.50" stroke="#111" stroke-width="0.9"/>
<text x="378.65" y="410.90" font-size="8.3" text-anchor="middle" fill="#222" textLength="46.6" lengthAdjust="spacingAndGlyphs">Flvcr-deleted</text>
<line x1="434.60" y1="400.50" x2="509.60" y2="400.50" stroke="#111" stroke-width="0.9"/>
<text x="472.10" y="410.90" font-size="8.3" text-anchor="middle" fill="#222" textLength="15.4" lengthAdjust="spacingAndGlyphs">EPO</text>
<text x="381.00" y="253.60" font-size="8.3" text-anchor="middle" fill="#222" textLength="24.5" lengthAdjust="spacingAndGlyphs">Ter119</text>
<text transform="translate(229.6,321.4) rotate(-90)" font-size="8.2" text-anchor="middle" fill="#222" textLength="75" lengthAdjust="spacingAndGlyphs">Relative fluorescence</text>
<g fill="#b01f3a" stroke="#8d1a2e" stroke-width="0.5"><circle cx="255.8" cy="355.2" r="2.4"/><circle cx="263.2" cy="352.1" r="2.4"/><circle cx="255.7" cy="366.8" r="2.4"/><circle cx="259.3" cy="366.3" r="2.4"/><circle cx="259.2" cy="373.3" r="2.4"/><circle cx="263.3" cy="372.5" r="2.4"/></g>
<line x1="259.40" y1="355.40" x2="259.40" y2="373.20" stroke="#111" stroke-width="0.85"/>
<line x1="256.40" y1="355.40" x2="262.40" y2="355.40" stroke="#111" stroke-width="0.85"/>
<line x1="256.40" y1="373.20" x2="262.40" y2="373.20" stroke="#111" stroke-width="0.85"/>
<line x1="253.60" y1="364.40" x2="265.20" y2="364.40" stroke="#111" stroke-width="0.95"/>
<g fill="#3f6592" stroke="#2f4f78" stroke-width="0.5"><rect x="277.7" y="315.7" width="4.2" height="4.2"/><rect x="270.0" y="320.8" width="4.2" height="4.2"/><rect x="272.4" y="325.0" width="4.2" height="4.2"/><rect x="276.2" y="324.6" width="4.2" height="4.2"/><rect x="270.0" y="331.2" width="4.2" height="4.2"/><rect x="281.5" y="332.9" width="4.2" height="4.2"/><rect x="277.7" y="337.4" width="4.2" height="4.2"/><rect x="273.9" y="341.2" width="4.2" height="4.2"/><rect x="271.4" y="322.4" width="4.2" height="4.2"/><rect x="275.4" y="328.9" width="4.2" height="4.2"/></g>
<line x1="279.50" y1="322.40" x2="279.50" y2="338.30" stroke="#111" stroke-width="0.85"/>
<line x1="276.50" y1="322.40" x2="282.50" y2="322.40" stroke="#111" stroke-width="0.85"/>
<line x1="276.50" y1="338.30" x2="282.50" y2="338.30" stroke="#111" stroke-width="0.85"/>
<line x1="273.70" y1="330.20" x2="285.30" y2="330.20" stroke="#111" stroke-width="0.95"/>
<g fill="#6db24a" stroke="#5a9a3c" stroke-width="0.4" stroke-linejoin="round"><path d="M299.0,291.1L301.2,295.2L296.8,295.2Z"/><path d="M297.3,293.7L299.5,297.8L295.1,297.8Z"/><path d="M300.8,293.3L303.0,297.4L298.6,297.4Z"/><path d="M296.4,296.8L298.6,300.9L294.2,300.9Z"/><path d="M299.0,297.2L301.2,301.3L296.8,301.3Z"/><path d="M303.0,297.7L305.2,301.8L300.8,301.8Z"/><path d="M295.5,299.0L297.7,303.1L293.3,303.1Z"/><path d="M298.2,300.3L300.4,304.4L296.0,304.4Z"/><path d="M301.7,300.3L303.9,304.4L299.5,304.4Z"/><path d="M296.8,303.4L299.0,307.5L294.6,307.5Z"/><path d="M299.9,303.9L302.1,308.0L297.7,308.0Z"/><path d="M303.4,303.4L305.6,307.5L301.2,307.5Z"/><path d="M295.9,305.7L298.1,309.8L293.7,309.8Z"/><path d="M299.5,306.1L301.7,310.2L297.3,310.2Z"/><path d="M303.4,306.1L305.6,310.2L301.2,310.2Z"/><path d="M295.5,310.9L297.7,315.0L293.3,315.0Z"/><path d="M299.5,314.0L301.7,318.1L297.3,318.1Z"/><path d="M303.4,314.0L305.6,318.1L301.2,318.1Z"/><path d="M301.2,309.2L303.4,313.3L299.0,313.3Z"/></g>
<line x1="299.50" y1="297.80" x2="299.50" y2="311.50" stroke="#111" stroke-width="0.85"/>
<line x1="296.50" y1="297.80" x2="302.50" y2="297.80" stroke="#111" stroke-width="0.85"/>
<line x1="296.50" y1="311.50" x2="302.50" y2="311.50" stroke="#111" stroke-width="0.85"/>
<line x1="293.70" y1="304.60" x2="305.30" y2="304.60" stroke="#111" stroke-width="0.95"/>
<g fill="#66356f" stroke="#5a2d63" stroke-width="0.4" stroke-linejoin="round"><path d="M316.4,258.7L319.4,261.7L316.4,264.7L313.4,261.7Z"/><path d="M323.7,261.5L326.7,264.5L323.7,267.5L320.7,264.5Z"/><path d="M319.4,272.0L322.4,275.0L319.4,278.0L316.4,275.0Z"/><path d="M316.6,274.9L319.6,277.9L316.6,280.9L313.6,277.9Z"/><path d="M322.3,274.9L325.3,277.9L322.3,280.9L319.3,277.9Z"/><path d="M315.6,279.6L318.6,282.6L315.6,285.6L312.6,282.6Z"/><path d="M324.2,279.1L327.2,282.1L324.2,285.1L321.2,282.1Z"/><path d="M319.4,280.6L322.4,283.6L319.4,286.6L316.4,283.6Z"/><path d="M316.1,285.3L319.1,288.3L316.1,291.3L313.1,288.3Z"/><path d="M322.8,285.3L325.8,288.3L322.8,291.3L319.8,288.3Z"/><path d="M319.4,288.7L322.4,291.7L319.4,294.7L316.4,291.7Z"/><path d="M319.4,283.4L322.4,286.4L319.4,289.4L316.4,286.4Z"/><path d="M319.6,277.0L322.6,280.0L319.6,283.0L316.6,280.0Z"/></g>
<line x1="319.90" y1="271.40" x2="319.90" y2="290.20" stroke="#111" stroke-width="0.85"/>
<line x1="316.90" y1="271.40" x2="322.90" y2="271.40" stroke="#111" stroke-width="0.85"/>
<line x1="316.90" y1="290.20" x2="322.90" y2="290.20" stroke="#111" stroke-width="0.85"/>
<line x1="314.10" y1="280.50" x2="325.70" y2="280.50" stroke="#111" stroke-width="0.95"/>
<g fill="#ffffff" stroke="#a8a8a8" stroke-width="0.7"><circle cx="336.2" cy="358.8" r="2.6"/><circle cx="343.8" cy="356.9" r="2.6"/><circle cx="336.7" cy="365.5" r="2.6"/><circle cx="342.4" cy="365.5" r="2.6"/><circle cx="336.7" cy="368.3" r="2.6"/><circle cx="342.4" cy="368.3" r="2.6"/><circle cx="339.5" cy="366.9" r="2.6"/><circle cx="340.0" cy="376.9" r="2.6"/></g>
<rect x="335" y="363.5" width="10" height="6" fill="#c8c8c8" opacity="0.8"/>
<line x1="340.00" y1="360.20" x2="340.00" y2="371.20" stroke="#222" stroke-width="0.85"/>
<line x1="337.10" y1="360.20" x2="342.90" y2="360.20" stroke="#222" stroke-width="0.85"/>
<line x1="337.10" y1="371.20" x2="342.90" y2="371.20" stroke="#222" stroke-width="0.85"/>
<line x1="334.30" y1="366.00" x2="345.70" y2="366.00" stroke="#222" stroke-width="0.95"/>
<g fill="none" stroke="#b01f3a" stroke-width="0.8"><circle cx="355.7" cy="347.9" r="2.5"/><circle cx="364.3" cy="348.3" r="2.5"/><circle cx="359.5" cy="350.7" r="2.5"/><circle cx="363.8" cy="353.1" r="2.5"/><circle cx="355.7" cy="357.4" r="2.5"/><circle cx="361.4" cy="358.8" r="2.5"/><circle cx="356.2" cy="365.5" r="2.5"/><circle cx="359.5" cy="367.9" r="2.5"/><circle cx="363.8" cy="367.4" r="2.5"/></g>
<line x1="360.30" y1="349.30" x2="360.30" y2="365.00" stroke="#111" stroke-width="0.85"/>
<line x1="357.30" y1="349.30" x2="363.30" y2="349.30" stroke="#111" stroke-width="0.85"/>
<line x1="357.30" y1="365.00" x2="363.30" y2="365.00" stroke="#111" stroke-width="0.85"/>
<line x1="354.50" y1="357.40" x2="366.10" y2="357.40" stroke="#111" stroke-width="0.95"/>
<g fill="#ffffff" stroke="#3f6592" stroke-width="0.8"><rect x="370.8" y="321.1" width="4.4" height="4.4"/><rect x="378.7" y="322.4" width="4.4" height="4.4"/><rect x="371.6" y="329.1" width="4.4" height="4.4"/><rect x="370.0" y="332.8" width="4.4" height="4.4"/></g>
<g fill="#3f6592" stroke="#2f4f78" stroke-width="0.5"><rect x="378.3" y="328.2" width="4.4" height="4.4"/><rect x="376.3" y="330.8" width="4.4" height="4.4"/><rect x="373.8" y="335.8" width="4.4" height="4.4"/><rect x="377.8" y="337.8" width="4.4" height="4.4"/><rect x="370.3" y="338.8" width="4.4" height="4.4"/><rect x="373.3" y="341.8" width="4.4" height="4.4"/><rect x="378.3" y="342.3" width="4.4" height="4.4"/><rect x="375.8" y="339.8" width="4.4" height="4.4"/><rect x="380.8" y="340.8" width="4.4" height="4.4"/></g>
<line x1="380.50" y1="329.20" x2="380.50" y2="343.80" stroke="#111" stroke-width="0.85"/>
<line x1="377.50" y1="329.20" x2="383.50" y2="329.20" stroke="#111" stroke-width="0.85"/>
<line x1="377.50" y1="343.80" x2="383.50" y2="343.80" stroke="#111" stroke-width="0.85"/>
<line x1="374.70" y1="336.50" x2="386.30" y2="336.50" stroke="#111" stroke-width="0.95"/>
<g fill="#ffffff" stroke="#6db24a" stroke-width="0.8" stroke-linejoin="round"><path d="M397.0,294.0L399.7,299.0L394.3,299.0Z"/><path d="M403.9,294.0L406.6,299.0L401.2,299.0Z"/><path d="M400.5,293.4L403.2,298.4L397.8,298.4Z"/><path d="M397.0,309.6L399.7,314.6L394.3,314.6Z"/><path d="M400.0,308.1L402.7,313.1L397.3,313.1Z"/><path d="M403.9,310.0L406.6,315.0L401.2,315.0Z"/></g>
<line x1="400.50" y1="296.50" x2="400.50" y2="313.80" stroke="#111" stroke-width="0.85"/>
<line x1="397.50" y1="296.50" x2="403.50" y2="296.50" stroke="#111" stroke-width="0.85"/>
<line x1="397.50" y1="313.80" x2="403.50" y2="313.80" stroke="#111" stroke-width="0.85"/>
<line x1="394.70" y1="304.80" x2="406.30" y2="304.80" stroke="#111" stroke-width="0.95"/>
<g fill="#ffffff" stroke="#66356f" stroke-width="0.8" stroke-linejoin="round"><path d="M420.7,258.7L423.5,261.5L420.7,264.3L417.9,261.5Z"/><path d="M413.2,277.0L416.0,279.8L413.2,282.6L410.4,279.8Z"/><path d="M417.1,279.8L419.9,282.6L417.1,285.4L414.3,282.6Z"/><path d="M421.0,278.5L423.8,281.3L421.0,284.1L418.2,281.3Z"/><path d="M420.2,272.3L423.0,275.1L420.2,277.9L417.4,275.1Z"/></g>
<line x1="421.00" y1="267.70" x2="421.00" y2="284.40" stroke="#555" stroke-width="0.85"/>
<line x1="418.40" y1="267.70" x2="423.60" y2="267.70" stroke="#555" stroke-width="0.85"/>
<line x1="418.40" y1="284.40" x2="423.60" y2="284.40" stroke="#555" stroke-width="0.85"/>
<line x1="415.60" y1="275.90" x2="426.40" y2="275.90" stroke="#555" stroke-width="0.95"/>
<g fill="#b01f3a" stroke="#8d1a2e" stroke-width="0.5"><circle cx="432.8" cy="355.9" r="2.3"/><circle cx="436.6" cy="352.7" r="2.3"/><circle cx="438.7" cy="355.4" r="2.3"/><circle cx="436.0" cy="358.0" r="2.3"/><circle cx="439.8" cy="359.7" r="2.3"/><circle cx="434.0" cy="359.0" r="2.3"/><circle cx="437.0" cy="356.0" r="2.3"/></g>
<g fill="#e8b0b8" stroke="none" stroke-width="0"><circle cx="433.5" cy="356.5" r="1.0"/><circle cx="438.0" cy="355.0" r="1.0"/></g>
<line x1="441.50" y1="354.50" x2="441.50" y2="359.70" stroke="#111" stroke-width="0.85"/>
<line x1="438.90" y1="354.50" x2="444.10" y2="354.50" stroke="#111" stroke-width="0.85"/>
<line x1="438.90" y1="359.70" x2="444.10" y2="359.70" stroke="#111" stroke-width="0.85"/>
<line x1="436.00" y1="357.00" x2="447.00" y2="357.00" stroke="#111" stroke-width="0.95"/>
<g fill="#3f6592" stroke="#2f4f78" stroke-width="0.5"><rect x="459.0" y="324.8" width="4.4" height="4.4"/><rect x="452.1" y="328.5" width="4.4" height="4.4"/><rect x="454.3" y="330.8" width="4.4" height="4.4"/><rect x="448.8" y="337.6" width="4.4" height="4.4"/><rect x="458.0" y="338.7" width="4.4" height="4.4"/><rect x="462.8" y="338.7" width="4.4" height="4.4"/><rect x="457.4" y="345.7" width="4.4" height="4.4"/><rect x="453.7" y="350.0" width="4.4" height="4.4"/><rect x="458.8" y="333.8" width="4.4" height="4.4"/></g>
<g fill="#e9eef5" stroke="none" stroke-width="0"><rect x="460.4" y="326.2" width="1.6" height="1.6"/><rect x="450.2" y="339.0" width="1.6" height="1.6"/><rect x="464.2" y="340.1" width="1.6" height="1.6"/><rect x="455.1" y="351.4" width="1.6" height="1.6"/><rect x="458.8" y="347.1" width="1.6" height="1.6"/></g>
<line x1="460.70" y1="330.70" x2="460.70" y2="345.20" stroke="#111" stroke-width="0.85"/>
<line x1="457.70" y1="330.70" x2="463.70" y2="330.70" stroke="#111" stroke-width="0.85"/>
<line x1="457.70" y1="345.20" x2="463.70" y2="345.20" stroke="#111" stroke-width="0.85"/>
<line x1="454.90" y1="338.80" x2="466.50" y2="338.80" stroke="#111" stroke-width="0.95"/>
<g fill="#6db24a" stroke="#5a9a3c" stroke-width="0.4" stroke-linejoin="round"><path d="M481.3,293.5L483.5,297.6L479.1,297.6Z"/><path d="M472.0,297.7L474.2,301.8L469.8,301.8Z"/><path d="M481.3,301.0L483.5,305.1L479.1,305.1Z"/><path d="M472.0,311.9L474.2,316.0L469.8,316.0Z"/><path d="M479.2,311.9L481.4,316.0L477.0,316.0Z"/><path d="M477.5,316.9L479.7,321.0L475.3,321.0Z"/><path d="M480.8,316.0L483.0,320.1L478.6,320.1Z"/></g>
<g fill="#ffffff" stroke="none" stroke-width="0" stroke-linejoin="round"><path d="M481.3,295.8L482.1,297.2L480.5,297.2Z"/><path d="M472.0,300.0L472.8,301.4L471.2,301.4Z"/><path d="M481.3,303.3L482.1,304.7L480.5,304.7Z"/><path d="M479.2,314.2L480.0,315.6L478.4,315.6Z"/></g>
<line x1="481.30" y1="299.70" x2="481.30" y2="318.30" stroke="#111" stroke-width="0.85"/>
<line x1="478.30" y1="299.70" x2="484.30" y2="299.70" stroke="#111" stroke-width="0.85"/>
<line x1="478.30" y1="318.30" x2="484.30" y2="318.30" stroke="#111" stroke-width="0.85"/>
<line x1="475.50" y1="309.20" x2="487.10" y2="309.20" stroke="#111" stroke-width="0.95"/>
<g fill="#66356f" stroke="#5a2d63" stroke-width="0.4" stroke-linejoin="round"><path d="M492.0,259.0L495.0,262.0L492.0,265.0L489.0,262.0Z"/><path d="M501.3,259.0L504.3,262.0L501.3,265.0L498.3,262.0Z"/><path d="M501.3,264.5L504.3,267.5L501.3,270.5L498.3,267.5Z"/><path d="M501.3,281.2L504.3,284.2L501.3,287.2L498.3,284.2Z"/><path d="M497.0,286.7L500.0,289.7L497.0,292.7L494.0,289.7Z"/></g>
<g fill="#ffffff" stroke="none" stroke-width="0" stroke-linejoin="round"><path d="M492.4,261.1L493.3,262.0L492.4,262.9L491.5,262.0Z"/><path d="M501.7,261.1L502.6,262.0L501.7,262.9L500.8,262.0Z"/><path d="M501.7,266.6L502.6,267.5L501.7,268.4L500.8,267.5Z"/><path d="M501.7,283.3L502.6,284.2L501.7,285.1L500.8,284.2Z"/><path d="M497.4,288.8L498.3,289.7L497.4,290.6L496.5,289.7Z"/></g>
<line x1="501.30" y1="261.70" x2="501.30" y2="284.20" stroke="#111" stroke-width="0.85"/>
<line x1="498.70" y1="261.70" x2="503.90" y2="261.70" stroke="#111" stroke-width="0.85"/>
<line x1="498.70" y1="284.20" x2="503.90" y2="284.20" stroke="#111" stroke-width="0.85"/>
<line x1="496.10" y1="273.00" x2="506.50" y2="273.00" stroke="#111" stroke-width="0.95"/>
<filter id="fb" x="-5%" y="-5%" width="110%" height="110%"><feGaussianBlur stdDeviation="0.28"/></filter>
<filter id="fu" x="-30%" y="-30%" width="160%" height="160%"><feGaussianBlur stdDeviation="1.1"/></filter>
<g filter="url(#fu)"><ellipse cx="55" cy="42" rx="14" ry="12" transform="rotate(0,55,42)" fill="#e07a68" fill-opacity="0.07"/><ellipse cx="75.0" cy="30.5" rx="3.6" ry="3.8" transform="rotate(0,75.0,30.5)" fill="#d4473a" fill-opacity="0.85"/><path d="M75.5,31 L79,29 L83.5,33 L83.6,45 L81.5,55 L77.5,57 L75,48Z" fill="#6a4c9e" fill-opacity="0.8"/><ellipse cx="75.6" cy="70.6" rx="3.0" ry="2.4" transform="rotate(0,75.6,70.6)" fill="#7cb146" fill-opacity="0.9"/><ellipse cx="40.8" cy="70.0" rx="3.2" ry="2.0" transform="rotate(0,40.8,70.0)" fill="#2a2a2a" fill-opacity="0.75"/><ellipse cx="50" cy="106" rx="15" ry="11" transform="rotate(0,50,106)" fill="#e07a68" fill-opacity="0.16"/><ellipse cx="71" cy="95" rx="9" ry="6" transform="rotate(-15,71,95)" fill="#d4473a" fill-opacity="0.3"/><ellipse cx="80" cy="90.5" rx="2.8" ry="4" transform="rotate(0,80,90.5)" fill="#6a4c9e" fill-opacity="0.4"/><ellipse cx="74" cy="128" rx="8" ry="7" transform="rotate(0,74,128)" fill="#9aa860" fill-opacity="0.35"/><ellipse cx="41.5" cy="131.6" rx="3.2" ry="2.0" transform="rotate(0,41.5,131.6)" fill="#2a2a2a" fill-opacity="0.75"/><ellipse cx="47" cy="172" rx="12" ry="9" transform="rotate(-30,47,172)" fill="#e07a68" fill-opacity="0.16"/><ellipse cx="58" cy="162" rx="14" ry="7" transform="rotate(-40,58,162)" fill="#e07a68" fill-opacity="0.1"/><ellipse cx="65.6" cy="154.6" rx="3.4" ry="2.2" transform="rotate(0,65.6,154.6)" fill="#e0892e" fill-opacity="0.45"/><ellipse cx="74.6" cy="150" rx="3.6" ry="3" transform="rotate(0,74.6,150)" fill="#d4473a" fill-opacity="0.9"/><path d="M74.5,147 L84.5,147 L83.5,156 L80.5,166 L78.5,170 L76.5,160Z" fill="#6a4c9e" fill-opacity="0.85"/><ellipse cx="76.4" cy="193" rx="3.4" ry="2.6" transform="rotate(0,76.4,193)" fill="#7cb146" fill-opacity="0.95"/><ellipse cx="43" cy="193.39999999999998" rx="3.2" ry="2.0" transform="rotate(0,43,193.39999999999998)" fill="#2a2a2a" fill-opacity="0.75"/><ellipse cx="142.5" cy="33.8" rx="4.2" ry="2.6" transform="rotate(-20,142.5,33.8)" fill="#d4473a" fill-opacity="0.95"/><ellipse cx="146.2" cy="40.3" rx="3.4" ry="3.0" transform="rotate(0,146.2,40.3)" fill="#6a4c9e" fill-opacity="0.95"/><ellipse cx="144" cy="44.8" rx="2.6" ry="2.0" transform="rotate(0,144,44.8)" fill="#a05aa6" fill-opacity="0.9"/><ellipse cx="144.5" cy="51" rx="2.6" ry="3.6" transform="rotate(0,144.5,51)" fill="#e0892e" fill-opacity="0.95"/><path d="M141.2,56 L147.0,56 L146.8,68 L146.0,75.5 L141.5,76 L140.8,68Z" fill="#7cb146" fill-opacity="0.95"/><ellipse cx="110" cy="92.5" rx="8" ry="3.2" transform="rotate(0,110,92.5)" fill="#d4473a" fill-opacity="0.45"/><ellipse cx="136" cy="98.5" rx="8" ry="2.8" transform="rotate(-15,136,98.5)" fill="#d4473a" fill-opacity="0.55"/><ellipse cx="145.0" cy="102" rx="4.4" ry="5.0" transform="rotate(0,145.0,102)" fill="#6a4c9e" fill-opacity="0.85"/><ellipse cx="141.5" cy="108.5" rx="4" ry="3" transform="rotate(0,141.5,108.5)" fill="#a05aa6" fill-opacity="0.6"/><ellipse cx="141" cy="114.5" rx="7" ry="4" transform="rotate(0,141,114.5)" fill="#e0892e" fill-opacity="0.6"/><ellipse cx="144.2" cy="129" rx="5.0" ry="7.5" transform="rotate(0,144.2,129)" fill="#7cb146" fill-opacity="0.85"/><ellipse cx="142" cy="156" rx="4.6" ry="2.8" transform="rotate(-20,142,156)" fill="#d4473a" fill-opacity="0.9"/><ellipse cx="133" cy="170" rx="5" ry="3.2" transform="rotate(0,133,170)" fill="#e0892e" fill-opacity="0.35"/><ellipse cx="146.2" cy="161.2" rx="4.0" ry="4.0" transform="rotate(0,146.2,161.2)" fill="#6a4c9e" fill-opacity="0.95"/><ellipse cx="144.5" cy="167.5" rx="3" ry="2.2" transform="rotate(0,144.5,167.5)" fill="#a05aa6" fill-opacity="0.9"/><ellipse cx="144.5" cy="173.5" rx="3" ry="2.6" transform="rotate(0,144.5,173.5)" fill="#e0892e" fill-opacity="0.95"/><path d="M141.2,178 L147.4,178 L147.4,190 L146.6,197.5 L141.8,198 L141,190Z" fill="#7cb146" fill-opacity="0.95"/></g>
<g filter="url(#fb)">
<path transform="scale(.1)" d="M506 535h7M402 511h7M365 663h7M600 271h7M713 742h7M536 280h7M502 680h7M508 392h7M719 758h7M658 611h7M453 367h7M704 682h7M330 357h7M685 490h7M712 453h7M376 376h7M641 341h7M404 623h7M709 660h7M449 701h7M663 577h7M369 755h7M413 382h7M425 557h7M704 497h7M401 329h7M427 347h7M674 558h7M345 741h7M423 609h7M430 670h7M563 400h7M398 617h7M548 685h7M688 354h7M336 387h7M504 281h7M712 585h7M600 548h7M337 714h7M338 574h7M518 623h7M617 709h7M639 717h7M467 599h7M493 653h7M667 542h7M574 445h7M361 576h7M717 699h7M617 546h7M518 367h7M570 719h7M430 256h7M447 596h7M502 705h7M458 590h7M673 446h7M557 411h7M383 503h7M656 683h7M607 735h7M438 336h7M413 461h7M670 271h7M606 541h7M451 654h7M337 319h7M507 263h7M597 352h7M515 341h7M334 491h7M436 426h7M602 515h7M381 481h7M698 486h7M612 667h7M664 428h7M520 264h7M646 283h7M642 338h7M531 619h7M699 501h7M700 294h7M416 519h7M579 517h7M708 517h7M486 659h7M599 284h7M703 721h7M648 709h7M405 565h7M691 316h7M634 262h7M371 623h7M537 473h7M410 572h7M579 520h7M662 562h7M664 369h7M619 663h7M453 721h7M676 318h7M431 299h7M638 314h7M337 352h7M527 637h7M526 600h7M402 354h7M510 640h7M457 488h7M618 457h7M530 258h7M678 659h7M575 256h7M727 285h7M528 264h7M589 299h7M525 417h7M664 364h7M539 313h7M517 294h7M492 348h7M709 360h7M534 263h7M551 379h7M478 338h7M456 302h7M635 417h7M669 339h7M460 346h7M531 397h7M515 296h7M550 453h7M664 444h7M432 442h7M796 350h7M755 418h7M646 352h7M370 339h7M545 342h7M509 313h7M588 379h7M513 373h7M599 287h7M802 358h7M573 316h7M535 397h7M473 314h7M582 528h7M740 298h7M568 423h7M459 333h7M574 245h7M621 374h7M626 282h7M587 319h7M612 306h7M528 427h7M502 385h7M485 333h7M647 385h7M558 269h7M550 382h7M766 290h7M605 312h7M581 417h7M509 396h7M619 433h7M640 294h7M648 451h7M687 370h7M468 339h7M591 339h7M690 403h7M672 438h7M608 460h7M516 394h7M712 342h7M660 329h7M607 421h7M652 379h7M589 323h7M672 385h7M593 455h7M527 336h7M609 405h7M537 430h7M622 297h7" stroke="#e07a68" stroke-width="7" stroke-opacity="0.5" fill="none"/>
<path transform="scale(.1)" d="M638 408h8M676 458h8M699 445h8M666 502h8M719 474h8M642 422h8M675 415h8M683 464h8M691 448h8M691 485h8M659 458h8M688 446h8M654 458h8M661 446h8M751 465h8M673 383h8M672 467h8M652 432h8M614 459h8M655 464h8M704 434h8M695 449h8M665 430h8M649 485h8M691 414h8M632 482h8M638 481h8M675 472h8M683 480h8M681 422h8M663 449h8M661 409h8M669 447h8M678 465h8M626 489h8M666 413h8M692 427h8M674 384h8M674 436h8M659 471h8M715 476h8M655 456h8M665 435h8M660 474h8M664 389h8" stroke="#e8a070" stroke-width="8" stroke-opacity="0.6" fill="none"/>
<path transform="scale(.1)" d="M792 290h10M725 281h10M742 350h10M769 289h10M756 301h10M765 303h10M742 289h10M712 306h10M715 295h10M773 301h10M734 340h10M737 271h10M797 295h10M743 318h10M759 309h10M783 327h10M772 322h10M754 278h10M756 299h10M749 334h10M757 282h10M777 267h10M725 295h10M740 273h10M773 267h10M768 322h10M741 290h10M697 276h10M764 303h10M732 287h10M821 276h10M741 343h10M763 305h10M747 310h10M734 320h10M765 261h10M745 328h10M739 277h10M768 298h10M737 306h10M737 300h10M737 319h10M759 308h10M767 292h10M759 282h10M781 316h10M805 247h10M758 311h10M775 298h10M745 287h10M733 297h10M724 268h10M737 320h10M769 293h10M749 288h10M749 275h10M734 326h10M781 307h10M688 291h10M731 341h10M690 331h10M755 329h10M746 291h10M744 341h10M772 298h10M760 326h10M739 292h10M773 278h10M716 304h10M736 317h10M723 286h10M743 304h10M730 286h10M764 299h10M748 284h10M731 306h10M795 288h10M759 278h10M760 305h10M778 277h10M780 319h10M757 278h10M752 348h10M777 272h10M783 271h10M762 315h10M708 270h10M819 336h10M760 338h10M780 278h10M763 339h10M738 323h10M756 316h10M740 280h10M726 319h10M753 336h10M739 353h10M738 351h10M737 281h10M732 314h10M690 327h10M729 315h10M772 263h10M771 317h10M738 286h10M801 270h10M786 310h10M726 309h10M733 276h10M820 293h10M776 304h10M776 316h10M719 325h10M766 376h10M749 295h10M769 335h10M719 277h10M745 264h10M771 323h10M802 288h10M774 308h10M719 298h10M774 327h10M728 303h10M753 287h10M756 331h10M757 296h10M759 294h10M720 323h10M794 258h10M777 341h10M762 307h10M729 364h10M776 312h10M768 314h10M736 329h10M782 295h10M731 324h10M779 316h10M752 316h10M777 306h10M695 271h10M727 329h10M738 331h10M707 301h10M758 281h10M767 286h10M741 340h10M814 340h10M730 345h10M791 319h10M785 315h10M694 287h10M748 304h10M749 296h10M734 279h10M760 313h10M726 360h10M757 329h10M702 295h10M710 306h10M784 329h10M767 333h10M757 326h10M724 325h10M763 286h10M724 291h10M773 302h10M732 297h10M795 323h10M717 319h10M774 291h10M731 306h10M750 294h10M732 349h10M789 313h10M720 292h10M792 293h10M760 333h10M740 297h10M753 273h10M798 273h10M737 351h10M747 286h10M731 301h10M745 323h10M770 325h10M747 324h10M761 295h10M719 260h10M808 324h10M753 331h10M721 333h10M779 295h10M728 296h10M756 299h10M789 301h10M740 304h10M783 300h10M765 320h10M729 337h10M816 280h10M788 261h10M780 309h10M717 285h10M760 301h10M762 307h10M769 273h10M752 261h10M769 242h10M763 284h10M727 301h10M755 354h10M757 317h10M749 332h10M753 340h10M748 334h10M748 354h10M744 269h10M756 373h10M729 419h10M746 353h10M732 499h10M741 434h10M744 440h10M713 410h10M768 542h10M736 402h10M749 491h10M749 547h10M734 409h10M746 546h10M739 337h10M731 331h10M740 394h10M752 446h10M739 338h10M741 394h10M774 438h10M755 359h10M726 390h10M736 511h10M747 465h10M736 556h10M739 416h10M740 332h10M741 497h10M733 370h10M760 364h10M748 324h10M740 382h10M754 468h10M763 397h10M748 400h10M748 540h10M725 527h10M732 389h10M721 376h10M726 462h10M712 387h10M755 453h10M741 440h10M776 388h10M729 376h10M746 519h10M757 536h10M754 438h10M739 521h10M776 538h10M740 485h10M765 513h10M744 443h10M738 402h10M753 544h10M749 480h10M711 345h10M747 395h10M754 365h10M730 471h10M747 528h10M767 528h10M749 438h10M745 412h10M742 359h10M746 511h10M731 507h10M756 486h10M745 386h10M760 366h10M762 545h10M713 398h10M759 390h10M767 504h10M747 400h10M731 328h10M756 434h10M747 378h10M740 332h10M755 545h10M749 493h10M714 433h10M756 334h10M749 337h10M765 351h10M756 417h10M748 331h10M737 434h10M714 432h10M733 526h10M742 528h10M754 441h10M764 428h10M754 469h10M742 506h10M771 430h10M737 429h10M754 417h10M766 392h10M730 495h10M748 425h10M754 504h10M730 451h10M748 491h10M772 325h10M743 518h10M755 461h10M745 491h10M760 449h10M723 397h10M738 495h10M747 456h10M751 446h10M756 513h10M730 421h10M727 430h10M743 405h10M750 392h10M729 325h10M750 363h10M768 384h10M744 517h10M759 487h10M716 372h10M744 519h10M729 531h10M752 375h10M748 331h10M750 331h10M744 488h10M728 488h10M735 390h10M730 382h10M743 462h10M753 442h10M725 503h10M755 469h10M760 439h10M756 420h10M731 432h10M766 445h10M754 511h10M739 453h10M727 533h10M750 520h10M707 454h10M751 462h10M747 432h10M741 324h10M721 371h10M753 369h10M742 551h10M745 397h10M714 363h10M767 471h10M762 454h10M724 380h10M741 553h10M751 378h10M719 484h10M740 336h10M758 522h10M760 470h10M763 335h10" stroke="#d4473a" stroke-width="10" stroke-opacity="0.8" fill="none"/>
<path transform="scale(.1)" d="M778 361h10M785 542h10M777 443h10M787 534h10M800 335h10M763 500h10M819 343h10M788 565h10M801 324h10M771 555h10M791 540h10M803 522h10M794 308h10M781 550h10M770 482h10M775 539h10M791 394h10M812 351h10M763 300h10M789 565h10M782 458h10M828 380h10M792 363h10M779 556h10M783 385h10M815 328h10M787 489h10M765 524h10M789 496h10M771 546h10M788 396h10M773 477h10M781 315h10M798 523h10M790 556h10M788 487h10M781 429h10M776 529h10M793 566h10M788 301h10M800 464h10M789 473h10M783 484h10M800 547h10M775 525h10M812 551h10M792 558h10M792 413h10M832 426h10M784 337h10M809 525h10M758 456h10M799 354h10M827 462h10M770 370h10M787 411h10M783 551h10M786 546h10M805 465h10M797 535h10M766 384h10M787 365h10M792 327h10M824 374h10M762 522h10M812 441h10M801 451h10M791 449h10M784 419h10M797 456h10M785 513h10M792 323h10M778 355h10M783 346h10M810 475h10M797 466h10M772 485h10M797 358h10M819 468h10M823 401h10M741 350h10M793 569h10M819 305h10M811 513h10M815 473h10M800 452h10M822 416h10M792 562h10M791 438h10M773 397h10M780 492h10M771 568h10M793 324h10M785 564h10M804 547h10M797 450h10M798 515h10M794 462h10M769 533h10M807 313h10M812 378h10M792 343h10M794 463h10M793 564h10M799 448h10M779 492h10M814 458h10M795 452h10M790 567h10M782 374h10M772 527h10M792 305h10M788 475h10M810 365h10M792 433h10M772 485h10M808 504h10M804 570h10M736 419h10M784 474h10M791 446h10M821 340h10M842 471h10M824 422h10M792 527h10M788 512h10M774 377h10M793 521h10M783 432h10M772 548h10M794 406h10M774 437h10M769 369h10M794 409h10M767 416h10M809 328h10M806 557h10M790 342h10M822 399h10M786 507h10M796 318h10M820 351h10M798 425h10M813 473h10M789 567h10M771 367h10M777 367h10M802 386h10M798 421h10M796 303h10M842 375h10M800 376h10M799 381h10M811 527h10M794 402h10M803 481h10M798 554h10M790 558h10M752 481h10M780 425h10M792 356h10M806 532h10M793 449h10M771 425h10M804 395h10M771 332h10M772 409h10M803 479h10M795 529h10M803 348h10M778 402h10M802 390h10M804 493h10M795 491h10M818 412h10M792 320h10M802 467h10M776 384h10M799 366h10M780 331h10M826 307h10M799 343h10M785 522h10M790 405h10M788 446h10M789 498h10M802 463h10M799 379h10M816 377h10M789 301h10M783 560h10M818 539h10M804 411h10M815 356h10M767 427h10M790 498h10M798 407h10M771 503h10M796 451h10M830 440h10M776 550h10M793 411h10M821 310h10M782 349h10M796 438h10M781 350h10M784 480h10M803 503h10M783 497h10M795 502h10M793 501h10M786 347h10M773 469h10M774 527h10M763 303h10M751 310h10M797 343h10M827 372h10M763 321h10M814 547h10M766 451h10M776 474h10M786 524h10M820 427h10M778 458h10M788 537h10M788 462h10M794 496h10M777 504h10M768 419h10M783 512h10M823 317h10M784 522h10M773 355h10M814 308h10M808 448h10M803 382h10M798 459h10M803 461h10M801 547h10M785 326h10M766 516h10M783 330h10M781 474h10M779 307h10M785 513h10M771 553h10M814 512h10M787 453h10M785 322h10M783 505h10M781 549h10M815 359h10M805 353h10M770 422h10M818 337h10M802 458h10M790 379h10M759 468h10M770 360h10M779 559h10M771 472h10M789 339h10M807 307h10M815 520h10M784 531h10M812 363h10M788 364h10M788 457h10M787 366h10M787 363h10M799 517h10M793 396h10M794 500h10M797 331h10M814 520h10M809 497h10M791 487h10M806 549h10M781 435h10M800 384h10M820 301h10M808 356h10M801 484h10M772 562h10M807 467h10M850 440h10M788 536h10M783 418h10M788 363h10M800 432h10M789 540h10M776 544h10M796 454h10M786 485h10M794 565h10M824 322h10M784 452h10M779 478h10M784 320h10M767 473h10M791 549h10M808 334h10M796 529h10M821 464h10M803 559h10M802 337h10M789 451h10M778 539h10M782 440h10M790 315h10M824 332h10M776 467h10M801 521h10M807 428h10M802 411h10M801 379h10M793 311h10M799 526h10M831 336h10M803 351h10M793 395h10M785 335h10M804 386h10M789 347h10M802 419h10M792 360h10M737 489h10M758 559h10M790 472h10M748 428h10M767 365h10M797 310h10M751 476h10M798 443h10M777 379h10M781 456h10M775 500h10M779 410h10M773 321h10M806 347h10M791 539h10M767 493h10M779 520h10M783 541h10M811 418h10M768 518h10M767 423h10M792 539h10M808 353h10M754 501h10M788 530h10M825 325h10M785 543h10M794 401h10M785 445h10M803 416h10M766 343h10M783 465h10M790 315h10M759 385h10M809 390h10M805 393h10M802 498h10M819 386h10M831 310h10M804 373h10M804 356h10M810 510h10M767 458h10M747 403h10M795 470h10M809 471h10M775 400h10M815 349h10M775 397h10M796 375h10M801 469h10M802 332h10M792 481h10M784 500h10M772 305h10M783 440h10M792 333h10M808 393h10M741 333h10M782 337h10M812 552h10M763 541h10M793 513h10M772 453h10M827 494h10M806 361h10M831 302h10M779 303h10M822 378h10M803 501h10M785 525h10M786 491h10M777 520h10M783 343h10M792 525h10M771 554h10M772 447h10M798 548h10M787 363h10M756 309h10M764 539h10M782 556h10M805 318h10M777 528h10M761 397h10M791 507h10M800 427h10" stroke="#6a4c9e" stroke-width="10" stroke-opacity="0.75" fill="none"/>
<path transform="scale(.1)" d="M767 611h10M771 537h10M776 518h10M775 526h10M759 507h10M757 590h10M762 553h10M765 556h10M759 626h10M741 654h10M769 503h10M748 576h10M748 610h10M762 503h10M754 626h10M767 587h10M765 615h10M725 558h10M762 510h10M788 507h10M781 571h10M764 558h10M767 556h10M752 526h10M773 574h10M762 625h10M760 535h10M779 602h10M748 653h10M773 538h10M764 522h10M764 531h10M747 611h10M752 642h10M768 535h10M774 657h10M777 579h10M751 543h10M769 563h10M760 600h10M764 553h10M765 622h10M777 557h10M763 516h10M764 590h10M781 573h10M768 634h10M767 575h10M758 518h10M770 572h10M764 521h10M767 507h10M763 517h10M751 603h10M768 532h10M771 598h10M762 629h10M766 542h10M762 539h10M777 649h10M756 549h10M784 577h10M769 643h10M757 619h10M746 576h10M772 559h10M782 587h10" stroke="#e0892e" stroke-width="10" stroke-opacity="0.7" fill="none"/>
<path transform="scale(.1)" d="M771 627h10M759 559h10M759 596h10M760 607h10M750 650h10M753 627h10M750 647h10M760 612h10M753 581h10M755 631h10M750 572h10M755 566h10M739 610h10M760 656h10M757 618h10M758 647h10M759 655h10M744 624h10M753 618h10M761 578h10M750 561h10M774 608h10M753 574h10M756 563h10M755 624h10M753 581h10M759 575h10" stroke="#d4473a" stroke-width="10" stroke-opacity="0.6" fill="none"/>
<path transform="scale(.1)" d="M776 673h10M785 738h10M797 688h10M804 686h10M762 695h10M729 733h10M722 721h10M793 705h10M745 718h10M755 680h10M809 673h10M720 707h10M754 692h10M817 701h10M786 686h10M728 694h10M759 702h10M802 703h10M760 690h10M735 688h10M759 679h10M815 699h10M770 666h10M805 668h10M737 728h10M737 718h10M776 695h10M787 704h10M816 681h10M721 692h10M773 672h10M757 687h10M734 702h10M778 715h10M769 693h10M761 704h10M773 723h10M788 760h10M784 712h10M747 710h10M774 700h10M750 711h10M762 695h10M778 714h10M806 684h10M722 711h10M757 692h10M769 707h10M755 718h10M720 723h10M753 685h10M740 697h10M720 692h10M713 700h10M750 739h10M772 721h10M768 728h10M734 682h10M736 702h10M787 707h10M794 704h10M739 745h10M727 667h10M741 723h10M764 699h10M769 729h10M760 693h10M745 709h10M768 698h10M773 698h10M767 707h10M778 706h10M726 711h10M763 728h10M760 733h10M799 725h10M798 724h10M757 720h10M800 714h10M767 673h10M712 709h10M719 676h10M810 704h10M754 726h10M779 698h10M796 678h10M698 702h10M760 706h10M747 723h10M787 738h10M724 696h10M734 712h10M793 701h10M745 706h10M742 714h10M760 726h10M754 697h10M772 706h10M761 720h10M723 704h10M728 701h10M760 692h10M771 697h10M738 723h10M753 729h10M780 722h10M770 691h10M755 742h10M774 726h10M759 683h10M747 731h10M769 673h10M751 734h10M747 708h10M734 702h10M811 716h10M778 713h10M769 754h10M765 704h10M755 716h10M775 697h10M757 686h10M814 704h10M723 690h10M754 720h10M740 677h10M754 716h10M726 725h10M770 717h10M758 694h10M806 704h10M757 707h10M741 686h10M727 719h10M799 709h10M746 742h10M761 716h10M773 705h10M773 717h10M798 698h10M825 698h10M729 710h10M709 694h10M776 702h10M729 761h10M778 717h10M746 695h10M740 733h10M751 673h10M731 696h10M723 710h10M757 695h10M759 716h10M738 705h10M772 701h10M719 743h10M768 719h10M753 715h10M713 705h10M705 746h10M753 718h10M755 706h10M806 688h10M781 708h10M735 732h10M743 711h10M771 699h10M739 664h10M777 734h10M768 701h10M704 700h10M715 709h10M752 676h10M757 693h10M793 701h10M757 732h10M768 669h10M794 703h10M726 701h10M760 710h10M810 673h10M764 695h10M744 697h10M760 705h10M764 677h10M731 731h10M740 708h10M736 715h10M766 715h10M754 711h10M761 717h10M764 701h10M760 674h10M770 689h10M735 715h10M762 748h10M724 717h10M787 723h10M765 706h10M787 695h10M729 700h10M684 713h10M654 731h10M704 758h10M713 732h10M656 729h10M666 752h10" stroke="#7cb146" stroke-width="10" stroke-opacity="0.85" fill="none"/>
<path transform="scale(.1)" d="M416 725h8M348 694h8M396 701h8M403 695h8M385 652h8M424 731h8M426 696h8M377 703h8M442 730h8M383 694h8M407 705h8M400 662h8M413 713h8M408 723h8M374 706h8M376 673h8M437 682h8M457 708h8M389 704h8M471 675h8M412 705h8M396 689h8M403 700h8M445 721h8M345 688h8M379 701h8M385 672h8M383 697h8M412 703h8M426 730h8M485 701h8M377 707h8M383 692h8M429 707h8M418 722h8M417 717h8M383 705h8M417 669h8M342 727h8M455 695h8M439 678h8M384 689h8M403 660h8M402 665h8M357 678h8M422 681h8M431 703h8M415 713h8M359 691h8M470 699h8M420 696h8M415 687h8M373 670h8M409 680h8M403 722h8M368 710h8M470 697h8M430 705h8M342 718h8M435 715h8M416 673h8M367 666h8M450 658h8M335 729h8M367 677h8M412 705h8M386 696h8M368 696h8M414 695h8M381 678h8M386 662h8M395 675h8M391 667h8M406 688h8M504 667h8M403 694h8M359 706h8M420 677h8M433 696h8M382 683h8M459 684h8M433 674h8M364 676h8M435 696h8M388 693h8M392 681h8M344 717h8M385 729h8M370 726h8M499 719h8M391 689h8M448 702h8M406 684h8M408 689h8M402 709h8M389 703h8M406 679h8M409 700h8M373 675h8M381 679h8M424 674h8M430 715h8M431 728h8M406 665h8M440 650h8M427 702h8M425 684h8M404 691h8M415 681h8M336 663h8M482 691h8M450 640h8M355 663h8M412 633h8M420 714h8M405 692h8M392 691h8M423 666h8M359 709h8M422 713h8M409 701h8M404 700h8M413 702h8M382 680h8M414 699h8M424 701h8M406 696h8M395 704h8M401 705h8M397 711h8M400 703h8M412 697h8M406 707h8M391 708h8M443 703h8M402 708h8M423 710h8M407 692h8M420 677h8M386 682h8M398 701h8M398 696h8M374 708h8M416 710h8M407 694h8M413 688h8M404 725h8M423 711h8M425 709h8M400 718h8M427 689h8M384 705h8M399 679h8M387 694h8M440 699h8M371 708h8M424 695h8M393 720h8M424 689h8M401 688h8M420 706h8M396 715h8M403 699h8M402 695h8M422 705h8M391 720h8M416 707h8M404 701h8M389 698h8M395 715h8M386 722h8M427 696h8M390 683h8M422 713h8M438 707h8M380 712h8M398 703h8M371 689h8M427 711h8M386 707h8M427 716h8M385 710h8M417 708h8M398 704h8M407 693h8M393 696h8M418 720h8M428 708h8M378 703h8M406 693h8M405 713h8M382 701h8" stroke="#1e1e1e" stroke-width="8" stroke-opacity="0.65" fill="none"/>
<path transform="scale(.1)" d="M338 706h7M364 723h7M448 679h7M460 724h7M493 673h7M538 621h7M379 661h7M526 674h7M518 727h7M369 645h7M353 647h7M486 701h7M433 660h7M451 710h7M507 693h7M445 624h7M345 728h7M531 729h7M536 731h7M403 695h7M477 726h7M352 729h7M419 714h7M528 654h7M436 712h7M354 713h7M464 700h7M548 693h7M399 632h7M471 662h7M489 650h7M480 622h7M352 643h7M377 662h7M410 654h7M520 663h7M551 703h7M410 688h7M496 718h7M464 630h7M556 674h7M400 654h7M470 697h7M518 691h7M443 634h7M543 672h7M335 628h7M445 688h7M361 646h7M357 708h7M462 646h7M515 663h7M380 648h7M431 708h7M387 678h7M511 649h7M553 630h7M429 683h7M364 726h7M385 624h7M353 679h7M485 634h7M563 686h7M404 683h7M491 724h7M493 697h7M559 654h7M558 731h7M369 726h7M504 636h7M362 692h7M504 717h7M410 680h7M501 648h7M449 677h7M484 723h7M460 643h7M503 638h7M372 694h7M378 695h7M379 724h7M480 676h7M474 656h7M353 670h7M349 676h7M385 683h7M413 709h7M425 700h7M472 705h7M464 696h7M453 703h7M437 691h7M427 662h7M510 714h7M468 648h7M363 665h7M436 725h7M497 691h7M428 700h7M499 671h7M430 709h7M533 726h7M374 713h7M522 637h7M546 698h7M451 660h7M544 726h7M517 686h7M531 620h7M440 678h7M495 658h7M477 700h7M521 670h7M351 706h7M505 703h7M443 674h7M401 712h7M440 662h7M510 710h7M459 684h7M449 696h7M397 700h7M404 646h7M443 721h7M468 646h7M391 705h7M392 686h7M454 683h7M457 696h7M484 715h7M376 667h7M406 678h7M502 686h7M535 623h7M462 676h7M365 654h7M436 701h7M406 646h7M397 697h7M524 638h7M444 720h7M483 659h7M436 679h7M395 718h7M432 679h7M476 679h7M497 665h7M424 700h7M379 688h7M446 715h7M410 683h7M336 670h7M459 710h7M401 714h7M451 724h7M460 658h7M455 625h7M487 645h7M417 650h7M501 677h7M511 710h7M478 706h7M480 681h7M394 719h7M498 655h7M475 651h7M391 695h7M370 706h7M545 672h7M373 682h7M454 698h7M553 663h7M454 649h7M484 657h7M426 672h7M358 650h7M356 711h7M484 670h7M435 682h7M412 679h7M407 713h7M443 651h7M492 673h7M521 730h7" stroke="#333" stroke-width="7" stroke-opacity="0.5" fill="none"/>
<path transform="scale(.1)" d="M711 1084h7M468 956h7M693 1036h7M771 861h7M463 1040h7M784 900h7M527 1182h7M616 946h7M573 1052h7M764 1081h7M372 1016h7M341 1022h7M766 942h7M602 1125h7M802 1168h7M388 1209h7M768 996h7M332 1041h7M529 900h7M533 1211h7M417 1041h7M724 1298h7M575 1037h7M602 1336h7M536 963h7M391 1051h7M457 982h7M527 956h7M702 1106h7M438 928h7M410 1059h7M616 1165h7M538 1151h7M611 1345h7M761 1129h7M450 947h7M805 910h7M466 1151h7M659 970h7M666 929h7M725 1009h7M347 1068h7M426 982h7M368 1109h7M584 976h7M409 992h7M580 1137h7M579 989h7M520 1026h7M552 1040h7M454 1147h7M648 1058h7M668 1055h7M394 1198h7M729 1136h7M825 1290h7M640 969h7M787 874h7M804 1151h7M765 1332h7M590 1155h7M731 1261h7M798 939h7M602 904h7M604 917h7M805 1304h7M449 1198h7M636 1263h7M671 1068h7M801 1263h7M590 1165h7M609 1272h7M719 909h7M828 1352h7M538 969h7M733 1185h7M489 1036h7M499 1148h7M702 1042h7M678 1013h7M383 1140h7M443 1200h7M602 1312h7M769 1282h7M489 1032h7M762 1211h7M771 1095h7M765 1148h7M699 1019h7M534 1059h7M808 1314h7M662 1032h7M796 962h7M400 1007h7M770 1302h7M803 1207h7M623 1152h7M595 1103h7M766 924h7M741 1104h7M650 1278h7M597 1252h7M807 1094h7M748 959h7M681 1164h7M331 1000h7M461 1059h7M488 1185h7M372 1168h7M656 875h7M707 932h7M389 1185h7M518 1165h7M787 1331h7M816 1362h7M654 1354h7M671 886h7M726 1039h7M803 1312h7M703 995h7M638 1281h7M469 1068h7M746 1171h7M553 1142h7M676 996h7M476 1187h7M453 969h7M651 1145h7M386 1174h7M662 985h7M599 1344h7M453 1060h7M768 1047h7M634 1319h7M803 1119h7M354 1140h7M673 1218h7M498 1051h7M735 1165h7M473 1067h7M552 1206h7M370 1093h7M818 988h7M376 1132h7M622 1127h7M654 1181h7M779 1165h7M420 1142h7M655 921h7M711 1322h7M346 1163h7M428 1105h7M813 1240h7M766 1161h7M358 1114h7M816 1296h7M800 859h7M702 1010h7M423 1110h7M758 1231h7M783 1065h7M505 941h7M513 906h7M590 1138h7M687 888h7M723 1189h7M509 1131h7M803 1349h7M533 1019h7M803 980h7M632 1166h7M779 1200h7M693 1326h7M694 968h7M746 1006h7M708 1335h7M727 1275h7M730 1103h7M810 1054h7M712 1261h7M577 1218h7M748 911h7M494 1155h7M658 965h7M428 1027h7M798 860h7M586 1221h7M396 1183h7M809 1064h7M517 1118h7M731 984h7M628 990h7M498 1045h7M596 1168h7M560 1051h7M576 1132h7M479 1141h7M715 1260h7M534 1163h7M714 1034h7M465 1195h7M771 1206h7M745 1358h7M631 1050h7M671 1219h7M586 901h7M701 892h7M627 1351h7M500 935h7M771 866h7M681 1026h7M392 1085h7M806 1299h7M381 1038h7M710 1195h7M617 1328h7M602 1023h7M608 1166h7M587 1152h7M696 1034h7M527 1135h7M561 1206h7M533 1127h7M415 1064h7M680 866h7M736 991h7M763 1358h7M764 1102h7M628 1251h7M625 911h7M825 1282h7M735 1235h7M687 865h7M565 1023h7M359 1012h7M704 952h7M534 1164h7M475 956h7M572 1060h7M816 878h7M710 979h7M807 1261h7M779 1069h7M628 1029h7M477 987h7M814 930h7M450 983h7M617 1133h7M468 1062h7M663 1321h7M406 1098h7M647 1250h7M437 1053h7M726 895h7M630 1325h7M717 1074h7M554 945h7M520 1179h7M747 1100h7M426 1162h7M566 1017h7M574 933h7M492 1187h7M813 863h7M455 936h7M702 963h7M707 1090h7M818 1212h7M775 1196h7M420 1080h7M373 1172h7M513 925h7M668 972h7M746 889h7M693 1128h7M794 1299h7M581 1123h7M738 950h7M545 1083h7M641 1074h7M628 1319h7M456 1020h7M733 1074h7M777 1077h7M392 1136h7M387 1051h7M528 1033h7M582 1181h7M416 970h7M622 1063h7M688 927h7M512 1213h7M350 1160h7M612 1086h7M645 979h7M630 1274h7M468 1119h7M776 1182h7M754 1049h7M686 1360h7M727 935h7M519 973h7M755 1225h7M695 1246h7M759 1294h7M765 1152h7M666 1178h7M420 1002h7M729 1034h7M474 1034h7M741 1047h7M668 1248h7M385 1112h7M616 969h7M709 1199h7M711 1009h7M511 1184h7M482 1207h7M825 1154h7M569 1205h7M559 1089h7M507 1127h7M479 938h7M758 1342h7M764 983h7M513 991h7M495 977h7M555 1152h7M757 1160h7M680 906h7M636 1120h7M600 1190h7M361 996h7M379 1132h7M386 1158h7M518 909h7M626 915h7M783 1177h7M671 1352h7M408 958h7M440 1131h7M461 1084h7M475 1147h7M719 1177h7M782 1261h7M799 1199h7M774 1164h7M623 1295h7M814 1289h7M454 954h7M720 1203h7M732 1005h7M741 1026h7M741 1350h7M620 1261h7M707 1236h7M452 1174h7M432 994h7M707 1287h7M754 1166h7M676 1065h7M802 1234h7M694 902h7M491 1031h7M356 1117h7M624 940h7M637 946h7M594 977h7M763 1268h7M744 1260h7M543 1181h7M806 878h7M640 1133h7M580 1200h7M699 1350h7M561 931h7M436 1130h7M792 953h7M577 1048h7M744 1077h7M748 1366h7M780 1069h7M367 1020h7M612 909h7M548 1203h7M552 1142h7M822 1132h7M765 1127h7M683 1260h7M346 1118h7M680 970h7M594 1288h7M387 1190h7M468 1144h7M622 1082h7M667 1057h7M610 1239h7M561 1162h7M607 1288h7M673 1299h7M403 966h7M811 1025h7M412 1063h7M445 1095h7M653 1086h7M612 1049h7M680 1067h7M607 946h7M717 1262h7M575 981h7M749 1137h7M648 1208h7M390 1079h7M750 1086h7M674 1373h7M378 1024h7M618 997h7M766 993h7M525 1096h7M580 917h7M588 1061h7M651 967h7M489 1001h7M690 1144h7M516 1029h7M801 1057h7M482 974h7M631 966h7M805 1197h7M364 1019h7M615 886h7M678 987h7M733 1288h7M702 1053h7M775 975h7M626 1294h7M676 919h7M780 995h7M350 1182h7M821 984h7M716 1280h7M664 1277h7M749 980h7M615 977h7M385 1066h7M345 1175h7M620 1042h7M468 1204h7M761 1064h7M811 1046h7M675 1169h7M696 1003h7M785 1182h7M584 990h7M674 1173h7M798 1303h7M802 1188h7M685 1187h7M535 904h7M732 1243h7M684 1225h7M627 1342h7M735 1270h7M584 1204h7M516 1060h7M692 1378h7M434 1216h7M606 934h7M794 1376h7M661 1328h7M810 1005h7M345 973h7M826 909h7M618 1376h7M749 1052h7M551 1194h7M718 1351h7M726 1263h7M360 1194h7M620 1034h7M365 1088h7M585 1111h7M830 1174h7M796 1354h7M362 989h7M451 1070h7M799 1227h7M672 1035h7M701 923h7M775 1120h7M819 944h7M419 994h7M715 1328h7M812 943h7M698 1310h7M600 956h7M331 1061h7M715 1023h7M762 1240h7M427 1074h7M595 1082h7M701 890h7M570 1094h7M411 1183h7M448 1198h7M697 1023h7M737 873h7M653 1236h7M801 1316h7M705 973h7M685 1167h7M528 1065h7M527 1085h7M674 1241h7M658 970h7M639 1234h7M533 976h7M664 1219h7M428 1120h7M658 1209h7M466 1160h7M693 1066h7M798 915h7M428 971h7M338 1123h7M818 884h7M441 1216h7M456 1125h7M802 1135h7M701 900h7M508 1207h7M622 1114h7M588 1066h7M496 1182h7M393 1115h7M397 1190h7M774 871h7M670 884h7M717 1011h7M510 984h7M398 998h7M666 947h7M345 984h7M660 1061h7M817 876h7M698 1225h7M730 1212h7M649 1337h7M530 948h7M690 1133h7M406 1010h7M728 1211h7M711 987h7M750 1111h7M603 1130h7M597 975h7M622 1277h7M443 947h7M431 950h7M820 1300h7M567 1135h7M467 1023h7M631 990h7M454 1153h7M481 1169h7M617 1168h7M558 930h7M381 1214h7M629 1354h7M719 870h7M714 1173h7M638 1117h7M804 1187h7M626 1077h7M450 964h7M669 884h7M351 1153h7M823 1174h7M580 1036h7M826 973h7M373 1127h7M777 1044h7M682 983h7M767 1011h7M536 928h7M678 1245h7M503 1199h7M649 1127h7M437 1065h7M509 1005h7M337 1117h7M825 1182h7M527 1193h7M389 1118h7M608 1215h7M436 1183h7M713 876h7M778 1249h7M471 1044h7M506 1082h7M606 1071h7M750 1145h7M749 1105h7M332 1161h7M335 1045h7M590 1154h7M638 1299h7M798 1101h7M532 979h7M826 1180h7M436 946h7M582 1072h7M635 1074h7M796 1034h7M822 869h7M715 1336h7M509 1184h7M756 1112h7M489 1082h7M391 997h7M715 959h7M508 1198h7M587 1095h7M813 1223h7M777 887h7M735 883h7M778 1118h7M674 1100h7M479 1042h7M445 1029h7M557 1013h7M777 1048h7M392 1004h7M697 1001h7M529 1019h7M732 914h7M737 1221h7M706 1190h7M430 1182h7M530 1044h7M812 911h7M401 1154h7M396 1020h7M716 937h7M727 1332h7M649 1264h7M666 930h7M656 1072h7M417 968h7M566 928h7M392 1136h7M472 1078h7M700 908h7M609 1026h7M614 1094h7M539 1022h7M743 1288h7M486 1017h7M741 985h7M706 999h7M800 1098h7M602 1159h7M709 1330h7M714 1344h7M722 1366h7" stroke="#e07a68" stroke-width="7" stroke-opacity="0.5" fill="none"/>
<path transform="scale(.1)" d="M535 1120h7M430 1129h7M690 900h7M400 1065h7M410 1070h7M558 1052h7M558 1149h7M425 1096h7M449 1002h7M412 943h7M352 1151h7M508 1006h7M597 1045h7M524 1079h7M477 1100h7M431 1092h7M431 1033h7M468 925h7M386 1148h7M625 1090h7M601 1177h7M480 1007h7M491 1127h7M377 1082h7M532 1008h7M492 1081h7M516 1039h7M655 990h7M475 1047h7M449 1030h7M424 1023h7M452 1114h7M433 1029h7M599 1105h7M575 1166h7M381 929h7M555 1077h7M445 1030h7M519 1183h7M493 994h7M488 1049h7M439 1032h7M526 1032h7M374 988h7M418 1074h7M391 1009h7M580 1096h7M580 1025h7M504 1026h7M437 1087h7M635 1130h7M595 1133h7M586 1063h7M833 1104h7M510 1114h7M468 930h7M420 969h7M536 1106h7M512 1125h7M525 1108h7M444 964h7M446 1075h7M410 1131h7M461 995h7M382 1110h7M340 1158h7M477 1016h7M532 1033h7M451 955h7M516 1011h7M639 888h7M489 1069h7M489 979h7M651 1096h7M420 1091h7M454 1075h7M479 1072h7M602 1157h7M571 1044h7M508 1031h7M677 1110h7M511 1123h7M549 1260h7M564 1068h7M535 930h7M394 1033h7M673 1140h7M444 1091h7M614 1061h7M539 1109h7M621 1123h7M472 1138h7M403 1010h7M439 1052h7M672 1061h7M665 1065h7M403 1279h7M424 1071h7M446 1042h7M438 929h7M477 1078h7M600 1021h7M495 1049h7M567 1045h7M553 1127h7M459 1203h7M344 1015h7M497 1130h7M657 963h7M502 1094h7M583 1185h7M499 1078h7M393 988h7M508 961h7M430 1002h7M414 936h7M688 1087h7M442 1076h7M567 1183h7M574 1017h7M527 1056h7M526 1173h7M600 1221h7M524 1074h7M375 1065h7M440 1000h7M551 992h7M538 1080h7M586 1092h7M723 1022h7M330 1226h7M562 1047h7M536 1010h7M503 1130h7M574 1020h7M545 965h7M642 1095h7M486 981h7M513 1134h7M545 1095h7M429 1114h7M479 1185h7M479 1004h7M692 1096h7M736 932h7M674 1147h7M652 1088h7M423 1035h7M669 978h7M391 1066h7M595 1176h7M514 1027h7M416 1179h7M596 1165h7M533 977h7M503 936h7M521 1035h7M576 1000h7M613 1113h7M440 915h7M545 1009h7M627 1118h7M504 1002h7M385 930h7M625 1111h7M660 1113h7M502 1101h7M525 1057h7M631 962h7M448 1112h7M527 992h7M467 1015h7M517 924h7M442 977h7M556 951h7M453 1058h7M636 1107h7M484 1131h7M487 1016h7M549 1092h7M614 1122h7M607 1067h7M613 1005h7M471 943h7M571 969h7M600 1035h7M574 1009h7M503 1070h7M589 1097h7M502 1096h7M641 1174h7M471 1157h7M513 997h7M462 1108h7M609 1180h7M577 1134h7M534 1145h7M388 1109h7M451 1072h7M596 1007h7M531 1080h7M559 1179h7M467 1040h7M467 1166h7M540 963h7M560 964h7M520 1139h7M376 1040h7M469 1036h7M667 1130h7M724 1041h7M534 1198h7M563 1083h7M519 1104h7M529 985h7M542 1127h7M345 1092h7M374 1207h7M719 1003h7M659 1093h7M358 1103h7M605 893h7M478 993h7M576 1116h7M434 979h7M522 1032h7M411 1103h7M541 953h7" stroke="#e07a68" stroke-width="7" stroke-opacity="0.5" fill="none"/>
<path transform="scale(.1)" d="M868 1012h10M681 1047h10M761 970h10M498 942h10M655 937h10M695 929h10M668 1051h10M758 1065h10M756 913h10M777 1062h10M740 989h10M686 987h10M721 1012h10M642 997h10M618 926h10M677 945h10M765 940h10M695 920h10M665 954h10M801 872h10M629 1032h10M743 997h10M653 997h10M609 924h10M755 966h10M809 970h10M673 930h10M737 1043h10M727 976h10M780 1029h10M840 878h10M770 962h10M678 1027h10M738 1029h10M815 885h10M756 928h10M807 965h10M791 943h10M688 1037h10M744 961h10M696 976h10M799 962h10M786 998h10M758 971h10M719 894h10M600 986h10M740 981h10M730 896h10M725 905h10M673 846h10M746 956h10M662 949h10M755 1029h10M523 988h10M753 924h10M804 954h10M650 983h10M763 879h10M670 922h10M711 907h10M739 1003h10M689 974h10M868 955h10M661 960h10M593 969h10M711 930h10M580 955h10M846 1029h10M702 1022h10M657 938h10M705 963h10M524 946h10M730 902h10M690 906h10M617 950h10M746 922h10M819 848h10M706 868h10M556 944h10M716 987h10M616 897h10M635 982h10M711 900h10M739 916h10M631 968h10M737 945h10M691 919h10M695 920h10M732 949h10M848 1001h10M788 931h10M521 1007h10M824 849h10M861 962h10M717 1018h10M726 878h10M687 961h10M703 876h10M721 942h10M678 910h10M741 1067h10M731 976h10M782 981h10M715 876h10M850 870h10M626 1013h10M565 909h10M820 989h10M762 920h10M783 977h10M687 1052h10M719 853h10M749 912h10M855 937h10M709 984h10M630 962h10M559 990h10M584 1037h10M771 915h10M815 888h10M568 909h10M644 968h10M831 898h10M691 1008h10M756 968h10M817 995h10M731 887h10M582 944h10M835 918h10M673 970h10M839 874h10M796 872h10M529 985h10M686 879h10M660 967h10M756 959h10M619 1008h10M548 992h10M684 941h10M716 993h10M642 873h10M717 982h10M595 926h10M710 866h10M773 970h10M709 875h10M604 1019h10M514 964h10M770 969h10M688 1019h10M679 972h10M745 885h10M630 989h10M635 906h10M618 960h10M840 883h10M636 871h10M689 919h10M633 968h10M792 1014h10M638 899h10M732 1015h10M593 1078h10M511 960h10M585 926h10M795 977h10M813 886h10M784 980h10M713 905h10M783 931h10M646 995h10M809 861h10M604 985h10M647 947h10M625 982h10M653 974h10M754 892h10M667 902h10M522 995h10M729 991h10M753 1031h10M675 971h10M677 958h10M742 957h10M761 895h10M644 893h10M616 935h10M676 920h10M635 1004h10M727 1086h10M794 947h10M664 860h10M809 901h10M667 969h10M695 970h10M634 989h10M763 1030h10M808 962h10M664 939h10M719 938h10M727 1050h10M656 1018h10M682 1011h10M729 1006h10M671 886h10M755 1009h10M716 985h10M746 924h10M744 925h10M775 947h10M732 1004h10M543 1031h10M759 907h10M714 920h10M629 978h10M610 1033h10M737 920h10M747 979h10M708 933h10M762 924h10M809 923h10M704 977h10M817 952h10M599 956h10M721 928h10M700 1078h10M695 959h10M836 904h10M600 978h10M709 895h10M731 894h10M647 989h10M655 1000h10M757 894h10M557 920h10M562 983h10M765 1003h10M686 1001h10M789 976h10M863 846h10M777 942h10M495 1060h10M628 1120h10M672 905h10M646 1006h10M666 968h10M679 974h10M743 927h10M684 949h10M754 973h10M669 1005h10M637 886h10M713 941h10M755 964h10M778 926h10M784 984h10M693 1004h10M651 871h10M708 860h10M619 903h10M565 1046h10M572 859h10M790 851h10M719 939h10M792 1007h10M748 868h10M660 906h10M699 917h10M752 971h10M767 935h10M817 1003h10M588 927h10M596 915h10M710 1026h10M725 945h10M606 1029h10M701 923h10M671 980h10M584 919h10M689 960h10M682 875h10M811 922h10M667 897h10M751 982h10M718 1008h10M671 985h10M887 961h10M664 979h10M581 946h10M734 982h10M658 937h10M638 915h10M618 949h10M838 909h10M593 927h10M701 1052h10M697 967h10M575 1006h10M704 911h10M594 972h10M751 947h10M772 1092h10M593 959h10M676 944h10M711 936h10M790 951h10M791 1052h10M686 1171h10M704 989h10M541 1013h10M626 915h10M661 982h10M752 983h10M658 1082h10M624 1086h10M686 1092h10M614 998h10M626 964h10M549 1040h10M553 1131h10M731 982h10M503 957h10M580 1036h10M554 949h10M532 1059h10M536 1008h10M565 1093h10M632 1063h10M569 995h10M679 971h10M504 882h10M576 1066h10M392 922h10M668 1039h10M748 993h10M739 950h10M663 1014h10M502 1005h10M810 950h10M507 1114h10M591 1070h10M671 1000h10M560 899h10M448 997h10M632 1022h10M747 1065h10M538 984h10M688 925h10M587 1064h10M614 960h10M512 967h10M588 984h10M507 1168h10M510 975h10M641 987h10M506 1010h10M727 1014h10M649 1091h10M555 1015h10M547 969h10M472 1112h10M693 1016h10M546 945h10M530 956h10M694 1006h10M516 934h10M839 911h10M668 1050h10M797 968h10M670 1071h10M546 934h10M645 983h10M688 1077h10M652 1036h10M700 992h10M536 907h10M680 1098h10M661 987h10M622 1035h10M676 986h10M640 1049h10M627 1121h10M592 1062h10M657 1040h10M634 1133h10M588 969h10M549 983h10M606 1107h10M549 911h10M623 1072h10M614 1021h10M547 1017h10M745 941h10M642 1019h10M477 1121h10M621 1028h10M465 1082h10M532 1030h10M459 1063h10M656 1028h10M583 1068h10M586 1008h10M553 1080h10M676 1096h10M647 1050h10M767 1009h10M620 999h10M599 899h10M705 1005h10M641 1034h10M605 1043h10M652 1000h10M523 1060h10M651 1007h10M781 1001h10M666 989h10M450 954h10M562 948h10M575 982h10M665 969h10M583 876h10M558 977h10M536 1012h10M705 1046h10M600 1063h10M572 1064h10M761 1046h10M727 889h10M653 984h10M547 1027h10M812 1027h10M589 972h10M565 1033h10M564 965h10M538 995h10M596 966h10M572 1061h10M569 962h10M675 961h10M509 1075h10M547 1083h10M611 919h10M646 1032h10M713 973h10M746 1099h10M553 1038h10M549 986h10M495 1038h10" stroke="#d4473a" stroke-width="10" stroke-opacity="0.55" fill="none"/>
<path transform="scale(.1)" d="M803 899h10M844 890h10M794 876h10M828 868h10M852 937h10M808 922h10M781 916h10M820 910h10M812 922h10M803 970h10M836 912h10M787 925h10M797 965h10M838 921h10M825 935h10M821 901h10M815 943h10M757 864h10M826 875h10M793 876h10M818 882h10M785 940h10M788 871h10M817 928h10M815 958h10M774 898h10M761 911h10M815 863h10M813 975h10M778 868h10M834 852h10M817 932h10M756 918h10M830 918h10M801 921h10M776 940h10M851 942h10M763 915h10M757 932h10M798 920h10M775 904h10M793 858h10M802 910h10M828 907h10M788 878h10M805 1007h10M793 918h10M771 871h10M809 930h10M790 929h10M820 896h10M826 922h10M802 863h10M824 877h10M818 908h10M799 902h10M830 920h10M833 872h10M798 856h10M786 926h10M783 867h10M785 942h10M779 930h10M816 902h10M830 882h10M815 935h10M809 889h10M781 896h10M835 884h10M783 876h10M831 889h10M809 886h10M788 897h10M797 872h10M781 886h10M819 908h10M794 890h10M802 901h10M822 882h10M794 852h10M839 856h10M806 873h10M801 893h10M786 888h10M791 856h10M780 904h10M776 952h10M807 875h10M790 933h10M831 950h10M788 871h10M780 927h10M809 914h10M797 852h10M804 863h10M792 902h10M817 927h10M860 869h10M806 925h10M835 851h10M826 894h10M840 936h10M791 847h10M760 960h10M823 897h10M784 898h10M839 892h10M814 916h10M754 914h10M801 887h10M810 947h10M791 921h10M822 861h10M757 909h10M781 921h10M781 858h10M800 957h10M812 909h10M798 913h10M824 931h10M789 888h10M823 911h10M838 949h10M797 888h10M785 914h10M797 962h10M821 845h10M808 847h10M823 862h10M770 895h10M802 892h10M791 945h10M849 870h10M821 895h10M797 925h10M783 933h10M819 957h10M800 891h10M810 885h10M785 930h10M798 901h10M799 936h10M791 907h10M777 901h10M790 851h10M840 904h10M817 990h10M821 922h10M849 900h10M835 924h10M823 881h10M829 933h10M827 928h10M783 920h10M849 854h10M834 928h10M814 957h10M794 909h10M773 927h10M784 899h10M836 914h10M785 898h10M797 878h10M789 942h10M862 904h10M787 952h10M813 1303h10M778 1010h10M812 1110h10M844 1213h10M810 1162h10M799 1130h10M810 1119h10M802 1126h10M789 1311h10M814 1001h10M826 1021h10M797 1319h10M795 1115h10M813 1227h10M809 1181h10M808 1220h10M815 1230h10M822 1203h10M845 1173h10M824 1188h10M806 1012h10M832 1021h10M841 1181h10M799 1307h10M820 1041h10M787 1293h10M820 1228h10M778 957h10M838 1289h10M826 979h10M854 1026h10M801 1006h10M802 1349h10M790 983h10M824 1014h10M816 1186h10M780 997h10M772 1263h10M806 975h10M798 1055h10M767 1337h10M799 1012h10M772 1247h10M812 994h10M806 1032h10M817 992h10M816 1207h10M786 1328h10M768 1345h10M814 1055h10M796 1313h10M816 1258h10M809 1185h10M830 1066h10M842 1308h10M769 988h10M815 962h10M805 1203h10M779 992h10M792 1285h10M823 1044h10M790 1116h10M845 977h10M800 1182h10M797 1213h10M779 956h10M767 1269h10M795 1331h10M808 954h10M829 1132h10M758 1165h10M805 1336h10M820 1243h10M837 1307h10M795 1088h10M782 1269h10M806 985h10M823 1300h10M814 1136h10M807 1293h10M842 1242h10M833 1322h10M783 990h10M832 1353h10M866 1306h10M848 1158h10M771 1120h10M800 1131h10M792 1302h10M805 1323h10M782 1264h10M853 1176h10M851 1320h10M801 1235h10M773 1348h10M812 1171h10M839 1009h10M784 1282h10M799 1024h10M791 1043h10M802 1349h10M781 1316h10M825 985h10M822 1248h10M790 1288h10M798 1035h10M811 973h10M797 1272h10M836 1079h10M806 1259h10M797 1121h10M809 1076h10M791 1057h10M808 982h10M839 1314h10M816 1077h10M820 1359h10M778 1342h10M861 1101h10M782 1290h10M773 1225h10M807 1284h10M757 970h10M789 1285h10M786 1002h10M805 1288h10M796 987h10M832 1234h10M798 1332h10M797 1197h10M827 1033h10M828 1175h10M793 1263h10M803 1331h10M828 1228h10M803 982h10M819 1102h10M813 1340h10M809 974h10M813 1132h10M811 996h10M848 1187h10M822 1222h10M817 1314h10M827 1176h10M815 951h10M840 1123h10M834 1029h10M823 1348h10M789 1135h10M826 1274h10M763 1185h10M804 1248h10M771 1120h10M798 1205h10M822 1202h10M815 956h10M808 1058h10M812 1292h10M792 1007h10M808 1194h10M801 1288h10M797 1256h10M818 1261h10M789 1205h10M837 1290h10M796 991h10M829 1165h10M795 1024h10M793 1181h10M837 1299h10M801 1141h10M815 1275h10M803 1341h10M811 1089h10M785 1330h10M789 1088h10M824 1112h10M846 1318h10M811 1117h10M833 953h10M780 1289h10M841 1175h10M807 1065h10M857 1057h10M791 1295h10M824 1033h10M783 1252h10M807 1110h10M809 1116h10M815 1280h10M793 987h10M800 1175h10M777 1228h10M822 1216h10M792 1294h10" stroke="#6a4c9e" stroke-width="10" stroke-opacity="0.5" fill="none"/>
<path transform="scale(.1)" d="M762 1330h10M715 1249h10M812 1229h10M795 1303h10M805 1260h10M716 1332h10M792 1327h10M761 1311h10M823 1337h10M670 1268h10M781 1292h10M733 1308h10M810 1293h10M654 1306h10M644 1336h10M840 1361h10M678 1268h10M829 1281h10M738 1285h10M850 1219h10M771 1331h10M763 1236h10M725 1274h10M744 1288h10M760 1302h10M750 1294h10M726 1325h10M783 1218h10M709 1205h10M741 1227h10M785 1354h10M737 1332h10M772 1287h10M701 1345h10M652 1323h10M752 1332h10M665 1208h10M726 1210h10M768 1283h10M816 1231h10M765 1286h10M766 1294h10M707 1188h10M844 1290h10M771 1204h10M760 1256h10M795 1199h10M789 1318h10M702 1361h10M689 1334h10M679 1233h10M782 1295h10M789 1353h10M652 1287h10M739 1234h10M822 1301h10M863 1271h10M748 1265h10M772 1269h10M782 1232h10M704 1361h10M742 1380h10M774 1258h10M776 1344h10M738 1282h10M597 1302h10M855 1204h10M716 1250h10M840 1299h10M794 1240h10M739 1208h10M678 1306h10M786 1256h10M841 1259h10M772 1198h10M742 1358h10M811 1339h10M799 1288h10M841 1294h10M746 1341h10M811 1263h10M727 1273h10M797 1240h10M611 1339h10M741 1328h10M812 1319h10M709 1282h10M783 1325h10M726 1241h10M703 1290h10M777 1262h10M689 1292h10M747 1258h10M652 1280h10M802 1386h10M661 1258h10M793 1254h10M641 1298h10M845 1324h10M677 1312h10M850 1320h10M675 1380h10M849 1334h10M550 1191h10M808 1300h10M777 1298h10M718 1370h10M681 1196h10M730 1309h10M798 1272h10M666 1312h10M768 1310h10M662 1357h10M737 1269h10M833 1283h10M801 1298h10M642 1311h10M686 1330h10M847 1228h10M681 1275h10M608 1332h10M713 1233h10M662 1254h10M848 1331h10M698 1300h10M804 1345h10M781 1215h10M740 1324h10M837 1211h10M764 1244h10M762 1317h10M833 1252h10M718 1260h10M613 1182h10M713 1288h10M711 1279h10M743 1268h10M884 1374h10M756 1315h10M685 1297h10M703 1244h10M810 1290h10M849 1295h10M713 1266h10M705 1315h10M740 1208h10M766 1282h10M744 1243h10M783 1211h10M643 1322h10M657 1141h10M809 1347h10M618 1361h10M693 1262h10M835 1360h10M773 1309h10M711 1325h10M812 1198h10M648 1286h10M671 1318h10M844 1298h10M717 1372h10M756 1288h10M795 1269h10M822 1251h10M782 1256h10M826 1343h10M815 1352h10M819 1310h10M683 1296h10M875 1271h10M709 1312h10M824 1323h10M771 1325h10M757 1226h10M654 1288h10M736 1349h10M726 1336h10M829 1334h10M694 1296h10M729 1290h10M626 1239h10M633 1220h10M696 1320h10M795 1281h10M645 1206h10M693 1232h10M801 1321h10M815 1360h10M752 1323h10M715 1243h10M750 1291h10M766 1278h10M760 1259h10M749 1258h10M695 1370h10M795 1332h10M783 1230h10M781 1335h10M655 1259h10M638 1334h10M727 1313h10M792 1232h10M742 1241h10M670 1301h10M676 1314h10M713 1307h10M799 1328h10M800 1256h10M847 1228h10M664 1319h10M789 1306h10M685 1262h10M795 1305h10M696 1333h10M800 1295h10M764 1332h10M738 1338h10M829 1322h10M680 1303h10M791 1256h10M689 1260h10M886 1336h10M788 1182h10M681 1271h10M748 1304h10M817 1363h10M718 1266h10M802 1353h10M742 1315h10M733 1324h10M682 1284h10M751 1331h10M747 1207h10M787 1318h10M732 1193h10M794 1302h10M858 1324h10M710 1312h10M611 1251h10M873 1265h10M702 1288h10M739 1283h10M695 1297h10M785 1203h10M803 1273h10M757 1219h10M790 1242h10M685 1332h10M794 1245h10M689 1250h10M752 1269h10M837 1304h10M654 1377h10M743 1297h10M696 1278h10M813 1219h10M679 1286h10M785 1242h10M773 1257h10M835 1316h10M778 1290h10M846 1302h10M633 1303h10M713 1345h10M762 1316h10M678 1305h10M802 1306h10M807 1317h10M710 1309h10M805 1274h10M593 1170h10M737 1290h10M783 1275h10M694 1376h10M651 1283h10M750 1312h10M676 1315h10M784 1205h10M776 1325h10M754 1287h10M641 1275h10M859 1356h10M719 1341h10M794 1367h10M726 1341h10M577 1318h10M744 1253h10M582 1249h10M764 1231h10M761 1370h10M789 1241h10M726 1283h10M611 1285h10M723 1266h10M749 1301h10M718 1308h10M806 1245h10M777 1366h10M751 1154h10M736 1198h10M775 1379h10M678 1222h10M826 1296h10M810 1337h10M731 1242h10M799 1324h10M734 1260h10M686 1298h10M767 1303h10M767 1221h10M732 1358h10M647 1305h10M844 1262h10M811 1112h10M655 1256h10M683 1374h10M728 1243h10M719 1310h10M807 1304h10M778 1340h10M744 1128h10M734 1172h10M801 1333h10M747 1211h10M754 1374h10M753 1298h10M683 1264h10M673 1279h10M695 1207h10M787 1304h10M790 1354h10M792 1331h10M681 1344h10M755 1306h10M685 1263h10M775 1282h10M726 1304h10M717 1210h10M716 1292h10M770 1293h10M818 1351h10M731 1295h10M827 1273h10M805 1358h10M813 1245h10M701 1106h10M825 1129h10M823 1207h10M810 1374h10M744 1314h10M769 1376h10M702 1228h10M691 1281h10M770 1225h10M641 1113h10M615 1142h10M716 1227h10M751 1362h10M737 1190h10M742 1162h10M739 1325h10M808 1088h10M647 1176h10M649 1235h10M772 1141h10M633 1194h10M722 1340h10M718 1143h10M783 1321h10M770 1333h10M756 1190h10M727 1348h10M688 1129h10M746 1235h10M665 1287h10M809 1180h10M603 1240h10M732 1271h10M714 1270h10M727 1245h10M813 1129h10M802 1175h10M717 1326h10M753 1266h10M684 1372h10M643 1247h10M693 1109h10M667 1326h10M619 1342h10M745 1176h10M719 1140h10M773 1365h10M681 1276h10M742 1150h10M604 1377h10M732 1339h10M618 1374h10M752 1094h10M753 1305h10M814 1124h10M620 1228h10M699 1298h10M730 1132h10M643 1285h10M802 1127h10M668 1192h10M622 1354h10M717 1156h10M814 1166h10M640 1129h10M664 1375h10M692 1323h10M701 1226h10M679 1108h10M763 1277h10M800 1151h10M701 1239h10M760 1228h10M707 1176h10M667 1291h10M707 1218h10M807 1331h10M760 1201h10M780 1124h10M629 1288h10M803 1240h10M808 1226h10M722 1322h10M620 1132h10M716 1332h10M639 1286h10M630 1358h10M602 1233h10M805 1257h10M814 1342h10M693 1288h10M726 1178h10M645 1120h10M696 1177h10M775 1160h10M711 1196h10M801 1272h10M601 1321h10M731 1268h10M704 1356h10M653 1215h10M638 1369h10M632 1273h10M676 1110h10M655 1181h10M744 1131h10M647 1186h10M787 1178h10M798 1281h10M692 1278h10M797 1181h10M600 1373h10M625 1221h10M647 1233h10M707 1104h10M614 1142h10M807 1331h10M740 1125h10M706 1106h10M724 1360h10M741 1294h10M660 1335h10M738 1253h10M697 1325h10M616 1371h10M692 1287h10M826 1145h10M601 1363h10M619 1258h10M663 1299h10M682 1307h10M806 1343h10M780 1181h10M641 1164h10M697 1181h10M699 1133h10M796 1114h10M742 1121h10M821 1253h10M633 1172h10M777 1279h10M635 1149h10M720 1265h10M794 1147h10M822 1377h10M644 1335h10M662 1237h10M800 1250h10M660 1272h10M614 1276h10M830 1120h10M815 1300h10M704 1345h10M600 1324h10M680 1111h10M630 1324h10M723 1122h10M620 1147h10M767 1236h10M641 1188h10M709 1117h10M620 1335h10M625 1151h10M715 1128h10M604 1252h10M626 1180h10M734 1251h10M799 1109h10M677 1276h10M648 1335h10M685 1166h10M691 1301h10M732 1342h10M741 1292h10M692 1305h10M710 1237h10M705 1170h10M606 1357h10M689 1234h10M780 1373h10M752 1345h10M816 1315h10M782 1372h10M622 1189h10M791 1248h10M640 1377h10M678 1191h10M762 1192h10M601 1326h10M630 1129h10M770 1245h10M829 1324h10M753 1097h10M615 1295h10M629 1170h10M776 1095h10M619 1369h10M670 1352h10M804 1175h10M743 1134h10M805 1355h10M664 1177h10M641 1214h10M690 1158h10M736 1209h10M742 1159h10M829 1356h10M739 1244h10M745 1159h10M786 1276h10M789 1377h10M625 1280h10M746 1113h10M797 1195h10M826 1237h10M750 1149h10M680 1342h10M650 1331h10M663 1205h10M709 1325h10M638 1371h10M646 1336h10M660 1243h10M717 1260h10M781 1244h10M684 1371h10M662 1275h10M796 1236h10M706 1246h10M744 1144h10M634 1363h10M760 1269h10M708 1170h10M795 1155h10M705 1368h10M674 1204h10M776 1283h10M715 1320h10M789 1188h10M700 1249h10M760 1254h10M736 1283h10M669 1108h10M727 1234h10M699 1110h10M787 1297h10M759 1352h10M786 1261h10M658 1119h10" stroke="#7cb146" stroke-width="10" stroke-opacity="0.55" fill="none"/>
<path transform="scale(.1)" d="M779 1216h10M796 1335h10M773 1119h10M632 1282h10M760 1057h10M714 1129h10M626 1306h10M791 1285h10M715 1086h10M676 1303h10M685 1110h10M684 1322h10M795 1028h10M678 1105h10M784 1116h10M649 1286h10M794 1153h10M828 1194h10M786 1182h10M740 1088h10M750 1102h10M753 1063h10M821 1326h10M733 1360h10M768 1186h10M633 1187h10M763 1268h10M680 1162h10M683 1102h10M803 1269h10M743 1091h10M732 1344h10M822 1260h10M798 1380h10M674 1261h10M650 1077h10M712 1197h10M756 1330h10M824 1213h10M747 1072h10M807 1058h10M796 1378h10M667 1357h10M801 1209h10M673 1282h10M717 1143h10M827 1263h10M793 1144h10M675 1280h10M694 1231h10M689 1268h10M677 1210h10M669 1195h10M807 1195h10M757 1234h10M790 1251h10M785 1059h10M809 1095h10M627 1320h10M671 1366h10M740 1153h10M779 1309h10M776 1147h10M657 1341h10M721 1114h10M660 1205h10M757 1062h10M754 1226h10M821 1200h10M731 1343h10M816 1085h10M792 1355h10M741 1057h10M742 1378h10M688 1142h10M767 1253h10M737 1121h10M744 1357h10M667 1236h10M670 1098h10M829 1199h10M630 1183h10M807 1329h10M758 1215h10M727 1059h10M788 1292h10M626 1171h10M674 1312h10M705 1162h10M771 1280h10M674 1190h10M625 1300h10M673 1259h10M784 1367h10M755 1081h10M737 1125h10M701 1261h10M633 1130h10M769 1102h10M745 1199h10M726 1105h10M824 1337h10M753 1106h10M814 1058h10M759 1083h10M807 1093h10M783 1319h10M735 1189h10M689 1107h10M739 1333h10M671 1232h10M732 1211h10M708 1165h10M621 1147h10M701 1207h10M633 1225h10M742 1264h10M706 1075h10M681 1366h10M634 1139h10M730 1052h10M677 1261h10" stroke="#d4473a" stroke-width="10" stroke-opacity="0.4" fill="none"/>
<path transform="scale(.1)" d="M373 1306h8M393 1311h8M414 1321h8M392 1291h8M443 1324h8M475 1277h8M402 1258h8M423 1279h8M430 1320h8M349 1337h8M407 1338h8M435 1335h8M391 1306h8M415 1306h8M409 1278h8M367 1322h8M371 1309h8M445 1248h8M385 1307h8M467 1301h8M397 1333h8M371 1264h8M416 1328h8M484 1323h8M364 1311h8M415 1324h8M411 1311h8M456 1296h8M343 1295h8M391 1312h8M388 1285h8M405 1292h8M412 1303h8M413 1315h8M436 1343h8M425 1320h8M378 1320h8M441 1291h8M453 1320h8M443 1331h8M458 1311h8M430 1269h8M411 1251h8M391 1321h8M469 1329h8M423 1285h8M398 1316h8M423 1306h8M441 1276h8M438 1306h8M479 1315h8M415 1291h8M403 1272h8M402 1312h8M430 1343h8M406 1310h8M365 1289h8M421 1316h8M431 1297h8M405 1338h8M367 1314h8M374 1306h8M434 1291h8M450 1339h8M446 1287h8M423 1291h8M361 1315h8M389 1337h8M403 1278h8M351 1304h8M415 1314h8M410 1301h8M413 1282h8M347 1283h8M397 1273h8M388 1288h8M419 1281h8M395 1283h8M388 1327h8M402 1294h8M410 1294h8M372 1307h8M401 1258h8M429 1312h8M397 1278h8M484 1338h8M408 1288h8M413 1262h8M394 1260h8M376 1310h8M417 1315h8M422 1328h8M362 1319h8M447 1257h8M389 1317h8M378 1299h8M373 1343h8M400 1297h8M426 1302h8M452 1330h8M443 1318h8M457 1320h8M403 1342h8M398 1319h8M443 1308h8M359 1324h8M388 1334h8M422 1264h8M432 1291h8M420 1309h8M452 1292h8M452 1273h8M386 1318h8M416 1255h8M436 1326h8M411 1318h8M354 1284h8M414 1337h8M484 1333h8M377 1322h8M411 1333h8M365 1293h8M449 1314h8M405 1331h8M428 1334h8M427 1327h8M382 1314h8M410 1314h8M389 1305h8M449 1297h8M414 1337h8M449 1336h8M423 1328h8M412 1311h8M373 1322h8M408 1320h8M402 1287h8M415 1330h8M397 1333h8M413 1317h8M387 1324h8M402 1311h8M429 1329h8M423 1323h8M410 1313h8M423 1329h8M439 1312h8M451 1336h8M411 1322h8M399 1328h8M393 1315h8M398 1309h8M411 1329h8M437 1327h8M405 1316h8M402 1291h8M420 1320h8M430 1325h8M390 1319h8M420 1332h8M408 1318h8M413 1333h8M368 1321h8M406 1332h8M428 1327h8M404 1322h8M434 1298h8M436 1314h8M389 1298h8M431 1319h8M398 1316h8M421 1312h8M429 1305h8M450 1334h8M372 1335h8M440 1303h8M421 1339h8M423 1327h8M387 1301h8M408 1307h8M398 1305h8M385 1328h8M460 1302h8M421 1329h8M394 1326h8M421 1324h8M435 1328h8M398 1305h8M363 1322h8M412 1306h8M373 1333h8M398 1317h8M446 1337h8M401 1336h8M427 1327h8M399 1303h8M380 1314h8M408 1306h8M433 1308h8M405 1330h8M401 1332h8M425 1338h8M417 1332h8M404 1329h8M408 1318h8M425 1337h8M396 1297h8M439 1282h8" stroke="#1e1e1e" stroke-width="8" stroke-opacity="0.65" fill="none"/>
<path transform="scale(.1)" d="M447 1257h7M337 1272h7M455 1293h7M473 1293h7M519 1340h7M440 1315h7M499 1289h7M406 1273h7M545 1323h7M541 1315h7M358 1270h7M536 1322h7M399 1314h7M515 1291h7M554 1233h7M482 1343h7M338 1258h7M338 1292h7M393 1301h7M417 1294h7M400 1253h7M357 1270h7M526 1306h7M488 1338h7M449 1268h7M488 1335h7M388 1278h7M388 1326h7M373 1320h7M462 1341h7M405 1252h7M494 1280h7M445 1290h7M558 1292h7M514 1255h7M394 1275h7M403 1229h7M357 1344h7M551 1312h7M508 1266h7M393 1258h7M435 1264h7M497 1255h7M375 1248h7M388 1340h7M445 1269h7M418 1275h7M527 1317h7M407 1317h7M490 1289h7M407 1282h7M538 1298h7M558 1328h7M441 1251h7M367 1288h7M331 1309h7M404 1230h7M357 1243h7M418 1330h7M523 1284h7M544 1274h7M449 1296h7M457 1242h7M380 1340h7M551 1337h7M547 1282h7M426 1313h7M545 1267h7M348 1249h7M479 1308h7M387 1254h7M466 1341h7M510 1267h7M479 1266h7M437 1307h7M391 1300h7M484 1327h7M529 1322h7M542 1251h7M467 1259h7M498 1344h7M435 1319h7M442 1271h7M389 1305h7M452 1294h7M377 1249h7M429 1251h7M562 1324h7M401 1296h7M565 1315h7M432 1285h7M379 1294h7M369 1317h7M443 1273h7M339 1237h7M358 1256h7M506 1320h7M399 1242h7M367 1298h7M406 1273h7M477 1288h7M565 1314h7M369 1236h7M477 1281h7M430 1245h7M427 1276h7M543 1303h7M479 1306h7M423 1326h7M447 1274h7M332 1319h7M528 1341h7M470 1276h7M463 1287h7M438 1268h7M341 1248h7M498 1303h7M353 1305h7M509 1264h7M387 1306h7M404 1288h7M408 1295h7M427 1257h7M508 1266h7M424 1298h7M419 1294h7M366 1280h7M386 1309h7M446 1284h7M417 1278h7M438 1320h7M444 1292h7M488 1277h7M356 1301h7M378 1235h7M506 1326h7M465 1295h7M408 1287h7M447 1285h7M450 1263h7M376 1243h7M456 1295h7M435 1337h7M561 1294h7M428 1294h7M483 1291h7M452 1234h7M504 1280h7M346 1293h7M526 1321h7M430 1303h7M541 1286h7M422 1259h7M409 1252h7M367 1307h7M386 1248h7M478 1297h7M411 1290h7M341 1302h7M431 1283h7M425 1315h7M531 1287h7M400 1310h7M425 1255h7M406 1262h7M425 1281h7M495 1333h7M459 1297h7M397 1305h7M557 1246h7M473 1306h7M426 1301h7M378 1297h7M439 1300h7M414 1318h7M455 1261h7M451 1260h7M456 1291h7M404 1323h7M446 1292h7M445 1251h7M528 1297h7M448 1332h7M482 1303h7M425 1268h7M540 1263h7M386 1296h7M441 1323h7M360 1312h7M351 1329h7M423 1284h7M507 1301h7M393 1280h7M537 1319h7M464 1264h7M479 1280h7M463 1290h7M458 1330h7M372 1260h7M388 1274h7M408 1264h7M435 1265h7M507 1319h7M413 1298h7M483 1292h7M428 1300h7M481 1234h7M487 1326h7M465 1306h7M449 1288h7M464 1301h7M356 1254h7M515 1274h7" stroke="#333" stroke-width="7" stroke-opacity="0.5" fill="none"/>
<path transform="scale(.1)" d="M737 1516h7M483 1902h7M580 1563h7M518 1908h7M561 1527h7M707 1786h7M555 1676h7M418 1813h7M704 1882h7M467 1941h7M530 1950h7M459 1926h7M467 1657h7M637 1517h7M714 1814h7M694 1749h7M349 1727h7M534 1675h7M715 1952h7M394 1702h7M450 1601h7M380 1712h7M639 1508h7M716 1513h7M506 1570h7M461 1632h7M535 1800h7M524 1900h7M538 1888h7M624 1880h7M673 1668h7M363 1491h7M587 1659h7M496 1498h7M383 1601h7M572 1806h7M379 1906h7M597 1484h7M527 1522h7M432 1965h7M527 1525h7M365 1594h7M574 1483h7M419 1960h7M461 1499h7M536 1851h7M402 1601h7M622 1580h7M609 1581h7M367 1822h7M474 1844h7M372 1734h7M398 1486h7M350 1637h7M477 1771h7M641 1759h7M656 1768h7M604 1918h7M718 1930h7M555 1950h7M626 1520h7M594 1706h7M445 1661h7M406 1569h7M727 1705h7M656 1744h7M353 1714h7M490 1617h7M544 1806h7M704 1819h7M536 1556h7M390 1898h7M389 1651h7M457 1806h7M654 1604h7M544 1651h7M433 1639h7M688 1896h7M719 1488h7M652 1766h7M588 1628h7M626 1533h7M542 1585h7M502 1566h7M708 1793h7M436 1831h7M610 1921h7M580 1762h7M508 1639h7M695 1698h7M669 1521h7M673 1614h7M501 1898h7M545 1501h7M475 1618h7M495 1667h7M614 1513h7M644 1891h7M445 1703h7M599 1492h7M523 1947h7M704 1817h7M481 1937h7M578 1582h7M704 1496h7M605 1488h7M697 1677h7M651 1575h7M481 1702h7M606 1704h7M606 1867h7M632 1495h7M403 1611h7M452 1745h7M714 1892h7M406 1693h7M727 1693h7M590 1519h7M401 1577h7M504 1863h7M599 1733h7M738 1549h7M647 1966h7M672 1888h7M387 1772h7M394 1871h7M736 1694h7M704 1514h7M497 1698h7M474 1586h7M584 1791h7M425 1844h7M568 1954h7M733 1611h7M382 1836h7M624 1575h7M613 1610h7M625 1841h7M630 1738h7M505 1812h7M537 1827h7M697 1518h7M363 1572h7M533 1636h7M447 1500h7M526 1966h7M613 1707h7M666 1808h7M506 1576h7M384 1601h7M568 1897h7M695 1914h7M598 1502h7M638 1689h7M423 1602h7M596 1739h7M352 1519h7M433 1641h7M677 1962h7M685 1688h7M575 1767h7M714 1896h7M530 1819h7M634 1899h7M341 1715h7M556 1541h7M360 1548h7M623 1534h7M666 1500h7M726 1851h7M619 1868h7M685 1814h7M729 1730h7M491 1928h7M645 1873h7M598 1581h7M729 1799h7M545 1840h7M641 1868h7M433 1593h7M624 1504h7M426 1672h7M515 1712h7M451 1867h7M718 1731h7M368 1876h7M442 1810h7M696 1897h7M553 1609h7M529 1554h7M469 1780h7M732 1626h7M590 1823h7M513 1719h7M439 1782h7M376 1887h7M388 1497h7M407 1578h7M364 1740h7M703 1864h7M445 1878h7M685 1964h7M675 1960h7M682 1646h7M410 1822h7M350 1779h7M637 1931h7M569 1564h7M554 1530h7M463 1952h7M460 1731h7M548 1508h7M650 1499h7M409 1876h7M700 1739h7M671 1583h7M655 1521h7M674 1945h7M394 1789h7M433 1506h7M385 1605h7M638 1627h7M439 1919h7M461 1906h7M668 1567h7M456 1562h7M580 1866h7M392 1685h7M658 1930h7M570 1620h7M448 1589h7M618 1937h7M420 1573h7M603 1778h7M714 1564h7M642 1621h7M385 1491h7M602 1913h7M730 1905h7M652 1760h7M484 1604h7M690 1913h7M467 1878h7M469 1964h7M565 1634h7M391 1511h7M516 1748h7M372 1988h7M600 1580h7M490 1626h7M655 1842h7M486 1803h7M348 1899h7M429 1767h7M600 1635h7M453 1792h7M538 1684h7M466 1868h7M580 1761h7M491 1817h7M413 1827h7M454 1632h7M373 1751h7M448 1805h7M514 1792h7M381 1676h7M413 1564h7M591 1733h7M470 1722h7M548 1842h7M476 1798h7M529 1525h7M417 1899h7M403 1722h7M489 1675h7M414 1699h7M406 1844h7M641 1611h7M459 1597h7M338 1669h7M356 1750h7M419 1574h7M399 1846h7M422 1818h7M392 1854h7M407 1864h7M432 1780h7M355 1688h7M435 1814h7M524 1697h7M544 1826h7M542 1766h7M436 1727h7M410 1618h7M445 1925h7M458 1588h7M513 1841h7M423 1609h7M472 1723h7M384 1593h7M437 1735h7M507 1807h7M412 1812h7M434 1535h7M519 1671h7M589 1764h7M344 1597h7M540 1666h7M537 1786h7M488 1680h7M397 1787h7M545 1646h7M557 1856h7M482 1696h7M427 1675h7M328 1726h7M430 1800h7M550 1811h7M399 1736h7M504 1530h7M340 1833h7M471 1845h7M538 1746h7M574 1727h7M447 1823h7M403 1746h7M372 1747h7M559 1594h7M519 1778h7M454 1891h7M425 1917h7M361 1648h7M359 1746h7M389 1748h7M344 1642h7M468 1722h7M420 1617h7M368 1768h7M504 1758h7M425 1587h7M496 1718h7M474 1869h7M338 1879h7M458 1804h7M447 1871h7M395 1886h7M444 1595h7M441 1823h7M446 1648h7M475 1730h7M549 1584h7M494 1924h7M440 1705h7M407 1731h7M502 1659h7M392 1663h7M369 1619h7M509 1754h7M363 1747h7M351 1792h7M578 1789h7M527 1735h7M541 1749h7M478 1709h7M584 1744h7M338 1691h7M437 1845h7M595 1723h7M648 1820h7M427 1676h7M603 1713h7M522 1898h7M701 1800h7M494 1628h7M495 1744h7M407 1842h7M396 1626h7M444 1826h7M479 1862h7M387 1736h7M341 1920h7M534 1674h7M392 1619h7M534 1836h7M538 1742h7M394 1885h7M480 1945h7M439 1647h7M378 1887h7M363 1770h7M329 1810h7M428 1849h7M529 1767h7M366 1925h7M455 1851h7M463 1779h7M413 1781h7M333 1697h7M705 1731h7M561 1793h7M339 1675h7M361 1723h7M581 1806h7M510 1664h7M462 1743h7M459 1718h7M490 1786h7M380 1785h7M419 1712h7M441 1765h7M449 1646h7M427 1656h7M437 1836h7M461 1787h7M609 1737h7M500 1747h7M472 1635h7M446 1549h7M530 1730h7M418 1881h7M520 1734h7M579 1783h7M440 1735h7M476 1780h7M655 1666h7M571 1623h7M469 1754h7M338 1684h7M395 1663h7M423 1678h7M372 1801h7M413 1822h7M357 1854h7M475 1778h7M360 1745h7M478 1723h7M436 1673h7M370 1702h7M365 1845h7M437 1790h7M481 1657h7M549 1850h7M517 1800h7M378 1833h7M528 1787h7M439 1829h7M517 1561h7M640 1738h7M425 1815h7M481 1643h7M455 1609h7M515 1811h7M593 1658h7M349 1889h7M528 1783h7M434 1792h7M375 1828h7M597 1707h7M371 1882h7M406 1665h7M354 1924h7M355 1670h7M357 1691h7M587 1622h7M480 1853h7M338 1603h7M557 1768h7M358 1707h7M435 1761h7M418 1730h7M558 1800h7M403 1830h7M451 1731h7M574 1635h7M437 1619h7M420 1860h7M510 1975h7M687 1756h7M560 1764h7M399 1808h7M473 1868h7M328 1678h7M381 1596h7M435 1636h7M455 1835h7M339 1795h7M505 1724h7M508 1727h7M370 1888h7M449 1776h7M505 1725h7M350 1771h7M451 1608h7M428 1654h7M363 1678h7M511 1928h7M441 1667h7M577 1781h7M383 1642h7M536 1800h7M463 1714h7M394 1632h7M412 1778h7M447 1731h7M678 1734h7M509 1678h7M468 1729h7M468 1884h7M538 1755h7M442 1665h7M525 1760h7M401 1720h7M515 1592h7M521 1721h7M480 1790h7M406 1740h7M367 1604h7M408 1855h7M473 1598h7M488 1728h7M402 1582h7M576 1729h7M403 1622h7M516 1709h7M490 1725h7M451 1778h7M444 1655h7M411 1661h7M479 1880h7M404 1722h7M533 1820h7M549 1583h7M492 1587h7M579 1925h7M644 1954h7M506 1780h7M390 1831h7M444 1888h7M446 1613h7M472 1837h7M493 1804h7M414 1678h7M663 1636h7M546 1726h7M444 1565h7M527 1702h7M400 1899h7M349 1878h7M347 1716h7M408 1951h7M339 1831h7M590 1788h7M482 1880h7M438 1812h7M399 1650h7M557 1794h7M557 1726h7M491 1656h7M582 1694h7M390 1546h7M533 1717h7M475 1695h7M447 1932h7M418 1746h7M648 1842h7M414 1722h7M552 1799h7M436 1691h7M508 1715h7M625 1588h7M520 1681h7M685 1570h7M603 1760h7M633 1659h7M509 1832h7M358 1733h7M469 1709h7M451 1711h7M566 1532h7M424 1786h7M644 1604h7M667 1682h7M439 1809h7M612 1699h7M381 1707h7M409 1767h7M488 1655h7M542 1847h7M474 1871h7M437 1691h7M687 1556h7M491 1705h7M661 1625h7M604 1625h7M664 1685h7M530 1608h7M587 1630h7M559 1606h7M552 1674h7M628 1676h7M616 1819h7M486 1734h7M467 1826h7M587 1552h7M620 1587h7M689 1642h7M580 1595h7M599 1627h7M562 1648h7M673 1613h7M603 1638h7M508 1626h7M508 1675h7M357 1646h7M502 1596h7M397 1759h7M588 1662h7M574 1823h7M594 1584h7M755 1604h7M532 1668h7M472 1799h7M545 1680h7M415 1806h7M544 1764h7M509 1712h7M675 1541h7M592 1607h7M633 1613h7M429 1724h7M580 1616h7M646 1700h7M518 1674h7M521 1692h7M529 1637h7M509 1639h7M700 1586h7M533 1709h7M531 1757h7M398 1745h7M477 1753h7M534 1528h7M552 1591h7M705 1539h7M478 1577h7M440 1760h7M491 1786h7M742 1632h7M586 1551h7M615 1642h7M708 1624h7M591 1609h7M606 1633h7M532 1800h7M419 1709h7M545 1585h7M569 1601h7M595 1605h7M494 1739h7M501 1734h7M484 1754h7M603 1532h7M504 1731h7M512 1753h7M638 1520h7M446 1732h7M728 1577h7M691 1588h7M601 1722h7M530 1822h7M536 1743h7M536 1743h7M520 1804h7M501 1689h7M521 1651h7M553 1594h7M417 1632h7M522 1755h7M476 1751h7M656 1671h7M425 1761h7M639 1578h7M527 1715h7M611 1712h7M537 1846h7M703 1618h7M598 1666h7M597 1755h7M339 1621h7M666 1699h7M663 1537h7M468 1760h7M381 1706h7M675 1496h7M638 1536h7M557 1641h7M635 1585h7M610 1527h7M526 1757h7M514 1637h7M394 1697h7M474 1803h7M424 1679h7M574 1500h7M721 1543h7M478 1769h7M481 1690h7M399 1693h7M395 1752h7M460 1714h7M501 1768h7M387 1700h7M684 1801h7M464 1677h7M344 1721h7" stroke="#e07a68" stroke-width="7" stroke-opacity="0.45" fill="none"/>
<path transform="scale(.1)" d="M687 1531h10M684 1520h10M633 1518h10M649 1539h10M692 1562h10M686 1549h10M686 1530h10M697 1581h10M614 1546h10M678 1520h10M677 1555h10M670 1563h10M667 1536h10M637 1534h10M644 1562h10M627 1520h10M718 1544h10M658 1576h10M598 1576h10M596 1545h10M645 1554h10M725 1514h10M618 1565h10M683 1548h10M666 1551h10M634 1577h10M614 1582h10M659 1552h10M670 1549h10M661 1527h10M665 1574h10M654 1524h10M626 1561h10M642 1542h10M687 1534h10M670 1562h10M676 1534h10M627 1567h10M644 1528h10M711 1545h10M648 1554h10M670 1568h10M631 1552h10M689 1532h10M569 1584h10M645 1535h10M662 1601h10M628 1569h10M623 1582h10M606 1533h10M687 1509h10M685 1517h10M695 1547h10M685 1516h10M611 1574h10M654 1530h10M655 1597h10M677 1563h10M633 1548h10M726 1565h10M683 1561h10M624 1512h10M727 1551h10M664 1538h10M612 1538h10M685 1566h10M639 1552h10M612 1554h10M639 1557h10M653 1569h10M658 1563h10M668 1546h10M679 1511h10M664 1547h10M701 1565h10M657 1547h10M626 1552h10M662 1520h10M674 1540h10M614 1536h10M690 1563h10M619 1536h10M604 1563h10M686 1545h10M676 1586h10M681 1546h10M632 1536h10M709 1549h10M700 1538h10M705 1548h10M660 1552h10M642 1531h10M564 1534h10M706 1543h10M641 1546h10M673 1568h10M616 1532h10M673 1583h10M631 1540h10M669 1553h10M656 1566h10M690 1536h10M669 1566h10M687 1561h10M635 1536h10M629 1560h10M655 1568h10M701 1558h10M643 1550h10M590 1530h10M698 1528h10M656 1538h10M663 1538h10M654 1550h10M655 1547h10M739 1533h10M708 1549h10M676 1534h10M625 1580h10M623 1548h10M691 1522h10M644 1557h10M689 1566h10M613 1508h10M686 1531h10M709 1560h10M634 1513h10M657 1583h10M657 1561h10M649 1546h10M667 1565h10M689 1547h10M636 1537h10M605 1540h10" stroke="#e0892e" stroke-width="10" stroke-opacity="0.55" fill="none"/>
<path transform="scale(.1)" d="M717 1510h10M743 1495h10M739 1487h10M726 1502h10M723 1464h10M739 1525h10M765 1493h10M784 1491h10M766 1498h10M737 1492h10M755 1518h10M751 1475h10M767 1462h10M742 1506h10M773 1512h10M759 1520h10M757 1494h10M792 1499h10M764 1483h10M738 1464h10M732 1471h10M791 1476h10M751 1501h10M759 1517h10M680 1502h10M743 1505h10M753 1468h10M810 1486h10M713 1505h10M761 1498h10M767 1518h10M745 1460h10M791 1501h10M758 1477h10M736 1483h10M726 1501h10M714 1522h10M743 1502h10M722 1474h10M785 1461h10M761 1469h10M728 1459h10M681 1492h10M707 1476h10M702 1496h10M733 1487h10M777 1505h10M686 1482h10M738 1515h10M720 1475h10M748 1508h10M771 1490h10M689 1522h10M721 1514h10M757 1511h10M704 1473h10M795 1535h10M771 1503h10M737 1472h10M782 1533h10M749 1531h10M773 1524h10M822 1540h10M731 1489h10M742 1522h10M698 1494h10M779 1495h10M788 1494h10M727 1490h10M778 1504h10M689 1498h10M708 1486h10M731 1518h10M737 1511h10M798 1505h10M706 1507h10M748 1515h10M713 1555h10M700 1483h10M807 1515h10M785 1487h10M757 1508h10M736 1474h10M722 1512h10M703 1515h10M761 1463h10M710 1516h10M742 1519h10M767 1511h10M727 1502h10M751 1495h10M781 1487h10M708 1501h10M778 1529h10M764 1509h10M778 1491h10M728 1478h10M764 1530h10M724 1468h10M749 1510h10M728 1562h10M761 1503h10M758 1490h10M765 1538h10M718 1502h10M717 1466h10M765 1487h10M725 1508h10M761 1482h10M761 1491h10M776 1516h10M797 1508h10M792 1532h10M723 1530h10M735 1499h10M729 1483h10M724 1486h10M730 1496h10M709 1460h10M702 1471h10M735 1490h10M785 1492h10M778 1561h10M750 1476h10M750 1494h10M721 1499h10M789 1527h10M732 1491h10M796 1513h10M728 1527h10M761 1461h10M757 1533h10M731 1467h10M729 1485h10M695 1471h10M715 1497h10M715 1524h10M733 1466h10M755 1553h10M766 1552h10M708 1516h10M743 1478h10M741 1523h10M693 1516h10M725 1526h10M740 1541h10M776 1493h10M739 1483h10M777 1531h10M837 1472h10M791 1487h10M770 1519h10M726 1528h10M680 1473h10M758 1515h10M716 1516h10M754 1496h10M691 1461h10M726 1482h10M734 1516h10M713 1483h10M772 1463h10M731 1527h10M707 1484h10M797 1510h10M773 1499h10M747 1513h10M757 1463h10M736 1515h10M745 1494h10M717 1487h10M750 1528h10M735 1498h10M773 1530h10M768 1524h10M800 1531h10M693 1480h10M683 1472h10M778 1542h10M773 1465h10M774 1523h10M747 1526h10M769 1479h10M751 1530h10M798 1497h10M766 1505h10M737 1512h10M772 1504h10M765 1499h10M768 1461h10M734 1538h10M803 1482h10M738 1515h10M737 1485h10M731 1509h10M725 1528h10M747 1504h10M752 1484h10M752 1471h10M798 1521h10M765 1489h10" stroke="#d4473a" stroke-width="10" stroke-opacity="0.8" fill="none"/>
<path transform="scale(.1)" d="M793 1591h10M774 1521h10M794 1522h10M810 1582h10M773 1565h10M824 1496h10M783 1659h10M794 1656h10M800 1689h10M767 1579h10M786 1689h10M770 1672h10M751 1605h10M807 1661h10M782 1671h10M798 1508h10M801 1634h10M763 1484h10M752 1553h10M773 1578h10M797 1542h10M800 1649h10M799 1588h10M825 1601h10M771 1579h10M804 1595h10M752 1497h10M810 1535h10M777 1494h10M783 1628h10M836 1528h10M767 1679h10M775 1640h10M825 1587h10M809 1558h10M799 1657h10M785 1685h10M782 1546h10M785 1499h10M766 1504h10M785 1594h10M815 1556h10M813 1629h10M784 1626h10M821 1596h10M803 1662h10M754 1540h10M753 1514h10M771 1630h10M827 1579h10M772 1626h10M777 1528h10M789 1624h10M839 1523h10M769 1516h10M785 1645h10M810 1652h10M770 1502h10M832 1514h10M757 1634h10M783 1670h10M792 1498h10M785 1656h10M791 1517h10M798 1556h10M802 1529h10M757 1634h10M792 1492h10M774 1671h10M780 1594h10M785 1625h10M814 1499h10M818 1646h10M808 1551h10M795 1660h10M780 1516h10M812 1514h10M815 1567h10M783 1611h10M773 1646h10M786 1567h10M811 1550h10M753 1523h10M761 1552h10M810 1538h10M746 1531h10M781 1632h10M817 1560h10M773 1578h10M774 1673h10M784 1603h10M790 1612h10M789 1673h10M772 1678h10M822 1579h10M794 1644h10M799 1599h10M794 1616h10M808 1517h10M803 1658h10M769 1490h10M826 1493h10M752 1530h10M826 1551h10M802 1588h10M815 1604h10M834 1559h10M791 1568h10M791 1613h10M780 1486h10M826 1512h10M762 1617h10M780 1675h10M804 1543h10M803 1554h10M799 1595h10M819 1517h10M779 1624h10M813 1568h10M819 1506h10M798 1517h10M808 1683h10M745 1666h10M790 1614h10M800 1666h10M774 1561h10M831 1525h10M767 1493h10M741 1591h10M824 1506h10M801 1494h10M822 1580h10M770 1533h10M773 1679h10M782 1568h10M834 1576h10M812 1621h10M791 1536h10M825 1572h10M850 1488h10M762 1687h10M757 1515h10M781 1666h10M740 1485h10M759 1654h10M790 1675h10M790 1647h10M812 1552h10M810 1531h10M785 1678h10M819 1524h10M794 1553h10M767 1639h10M791 1683h10M815 1597h10M790 1672h10M807 1664h10M792 1511h10M759 1544h10M780 1581h10M752 1558h10M802 1629h10M774 1569h10M770 1669h10M766 1677h10M814 1548h10M783 1680h10M799 1613h10M760 1614h10M787 1606h10M800 1649h10M799 1642h10M762 1678h10M785 1509h10M811 1605h10M792 1590h10M808 1582h10M789 1509h10M805 1533h10M808 1570h10M845 1577h10M800 1543h10M791 1533h10M772 1599h10M799 1646h10M781 1667h10M778 1682h10M770 1501h10M757 1682h10M787 1590h10M796 1487h10M781 1690h10M791 1681h10M809 1498h10M779 1677h10M825 1529h10M795 1501h10M780 1596h10M809 1520h10M785 1673h10M799 1657h10M787 1579h10M798 1648h10M790 1641h10M816 1607h10M777 1676h10M810 1500h10M802 1584h10M830 1488h10M824 1537h10M813 1576h10M775 1640h10M809 1591h10M815 1518h10M813 1671h10M799 1617h10M789 1620h10M825 1514h10M786 1485h10M846 1501h10M825 1488h10M758 1606h10M804 1656h10M794 1563h10M798 1532h10M806 1576h10M789 1513h10M773 1681h10M790 1674h10M772 1617h10M770 1550h10M813 1507h10M810 1535h10M784 1624h10M770 1608h10M779 1640h10M775 1635h10M768 1574h10M794 1636h10M775 1503h10M789 1674h10M811 1592h10M762 1683h10M765 1580h10M808 1551h10M835 1510h10M764 1670h10M771 1590h10M789 1677h10M752 1597h10M762 1637h10M786 1571h10M793 1673h10M830 1572h10M791 1685h10M785 1610h10M793 1676h10M778 1575h10M773 1608h10M809 1499h10M845 1543h10M819 1496h10M781 1519h10M783 1624h10M801 1580h10M804 1596h10M778 1552h10M819 1517h10M782 1533h10M784 1558h10M783 1504h10M837 1580h10M796 1664h10M794 1533h10M791 1625h10M788 1590h10M826 1580h10M802 1605h10M784 1647h10M756 1499h10M793 1535h10M794 1651h10M824 1495h10M801 1612h10M795 1641h10M780 1683h10M783 1660h10M802 1591h10M789 1651h10M825 1635h10M797 1593h10M806 1594h10M782 1604h10M788 1509h10M793 1689h10M792 1552h10M780 1516h10M783 1605h10M776 1621h10M770 1670h10M745 1587h10M766 1667h10M813 1616h10M789 1501h10M789 1669h10M779 1634h10M784 1644h10M775 1679h10M792 1563h10M788 1579h10M785 1603h10M793 1583h10M810 1542h10M767 1650h10M810 1608h10M775 1642h10M772 1547h10M786 1519h10M825 1549h10M771 1663h10M767 1612h10M813 1574h10M763 1675h10M811 1547h10M790 1557h10M783 1639h10M792 1687h10M770 1631h10M769 1624h10M838 1620h10M781 1677h10M799 1623h10M777 1600h10M787 1529h10M766 1589h10M818 1509h10M812 1494h10M800 1685h10M828 1494h10M820 1573h10M773 1644h10M825 1614h10M802 1596h10M762 1615h10M821 1534h10M791 1581h10M789 1627h10M806 1560h10M806 1560h10M795 1488h10M780 1659h10M768 1566h10M785 1650h10M793 1603h10M756 1544h10M763 1531h10M806 1584h10M771 1688h10M799 1689h10M774 1656h10M752 1485h10M801 1528h10M840 1525h10M767 1648h10M827 1512h10M826 1567h10M812 1671h10M797 1625h10M766 1648h10M824 1535h10M821 1505h10M787 1672h10M805 1517h10M788 1582h10M769 1539h10M780 1493h10M798 1508h10M778 1528h10M785 1604h10M804 1487h10M774 1487h10M782 1689h10M789 1690h10M786 1632h10M790 1620h10M784 1578h10M811 1611h10M777 1611h10M813 1574h10M746 1610h10M787 1503h10M758 1611h10M783 1489h10M791 1576h10M748 1631h10M781 1663h10M795 1587h10M794 1516h10M800 1603h10M829 1581h10M761 1502h10M818 1556h10M786 1558h10M828 1522h10M782 1667h10M797 1570h10M815 1608h10M783 1503h10M805 1607h10M770 1577h10M765 1688h10M796 1495h10M786 1598h10M820 1574h10M807 1586h10M815 1555h10M784 1656h10M775 1677h10M791 1613h10M771 1681h10M774 1669h10M822 1593h10M792 1604h10M772 1609h10M796 1676h10M778 1635h10M801 1634h10M812 1492h10M792 1627h10M791 1650h10M802 1670h10M808 1678h10M793 1672h10M811 1515h10M782 1666h10M744 1490h10M769 1581h10M760 1675h10M777 1511h10M815 1575h10M818 1487h10M767 1649h10M804 1489h10M760 1488h10M748 1516h10M773 1643h10M813 1557h10M797 1507h10M777 1689h10M796 1491h10M788 1523h10M794 1672h10M869 1533h10M799 1632h10M796 1525h10M817 1609h10M763 1560h10M809 1585h10M785 1676h10M758 1574h10M803 1614h10M775 1668h10M771 1643h10M774 1664h10M762 1544h10M788 1635h10M796 1633h10M776 1563h10M794 1617h10" stroke="#6a4c9e" stroke-width="10" stroke-opacity="0.8" fill="none"/>
<path transform="scale(.1)" d="M758 1755h10M795 1633h10M767 1687h10M781 1688h10M761 1679h10M768 1653h10M771 1718h10M777 1767h10M781 1736h10M771 1769h10M785 1746h10M777 1732h10M752 1649h10M778 1700h10M767 1730h10M754 1650h10M778 1660h10M769 1766h10M782 1698h10M751 1658h10M771 1728h10M766 1685h10M773 1610h10M750 1672h10M758 1628h10M781 1763h10M773 1686h10M770 1657h10M779 1637h10M782 1738h10M765 1762h10M785 1601h10M777 1633h10M789 1736h10M778 1710h10M753 1614h10M775 1644h10M763 1742h10M764 1701h10M765 1675h10M771 1727h10M757 1718h10M780 1632h10M790 1625h10M781 1681h10M776 1672h10M788 1658h10M770 1751h10M767 1729h10M748 1727h10M782 1764h10M776 1722h10M772 1670h10M787 1665h10M750 1625h10M767 1604h10M765 1625h10M777 1736h10M762 1743h10M768 1671h10M757 1763h10M762 1616h10M776 1619h10M770 1708h10M777 1740h10M786 1744h10M764 1742h10M764 1648h10M778 1722h10M778 1761h10M761 1628h10M762 1611h10M765 1634h10M777 1675h10M783 1689h10M767 1623h10M769 1630h10M763 1730h10M770 1720h10M779 1635h10M762 1696h10M772 1675h10M777 1655h10M771 1696h10M777 1697h10M755 1712h10M786 1658h10M781 1665h10M750 1760h10M780 1681h10M757 1769h10M760 1739h10M777 1629h10M754 1756h10M764 1770h10M770 1718h10M761 1716h10M780 1660h10M761 1622h10" stroke="#e0892e" stroke-width="10" stroke-opacity="0.65" fill="none"/>
<path transform="scale(.1)" d="M766 1696h10M777 1670h10M778 1699h10M753 1663h10M755 1698h10M779 1668h10M771 1678h10M763 1671h10M777 1720h10M759 1674h10M768 1685h10M774 1735h10M768 1667h10M793 1742h10M765 1673h10M766 1729h10M764 1772h10M768 1729h10M773 1775h10M775 1775h10M775 1763h10M798 1652h10M773 1679h10M779 1792h10M760 1761h10M778 1652h10M784 1664h10M774 1738h10M773 1680h10M773 1767h10M788 1704h10M762 1705h10M784 1790h10M772 1744h10M778 1715h10M779 1669h10M771 1775h10M775 1690h10M759 1785h10M772 1752h10M775 1689h10M765 1671h10M780 1730h10" stroke="#d4473a" stroke-width="10" stroke-opacity="0.5" fill="none"/>
<path transform="scale(.1)" d="M774 1866h10M779 1847h10M779 1801h10M757 1855h10M758 1879h10M777 1808h10M761 1868h10M756 1862h10M772 1830h10M776 1825h10M768 1846h10M772 1868h10M754 1805h10M776 1768h10M750 1766h10M767 1780h10M773 1834h10M778 1823h10M770 1775h10M768 1817h10M775 1828h10M768 1831h10M770 1815h10M759 1837h10M770 1823h10M775 1869h10M783 1869h10M743 1854h10M766 1863h10M764 1870h10M759 1842h10M767 1852h10M760 1765h10M751 1841h10M761 1796h10M750 1776h10M767 1865h10M766 1786h10M778 1798h10M771 1834h10M773 1844h10M760 1875h10M767 1797h10M777 1870h10M767 1843h10M764 1876h10M753 1861h10M790 1813h10M763 1829h10M771 1837h10M775 1813h10M743 1782h10M762 1826h10M760 1844h10M741 1870h10M761 1830h10M776 1793h10M763 1821h10M776 1763h10M766 1872h10M757 1795h10M759 1852h10" stroke="#7cb146" stroke-width="10" stroke-opacity="0.6" fill="none"/>
<path transform="scale(.1)" d="M781 1925h10M779 1925h10M691 1913h10M799 1871h10M774 1935h10M708 1913h10M761 1926h10M774 1926h10M759 1921h10M774 1961h10M768 1942h10M802 1941h10M776 1924h10M775 1929h10M787 1988h10M766 1947h10M739 1909h10M792 1968h10M797 1927h10M739 1952h10M732 1913h10M753 1921h10M786 1899h10M754 1893h10M782 1914h10M774 1953h10M716 1905h10M792 1925h10M777 1940h10M755 1937h10M781 1941h10M783 1940h10M749 1948h10M788 1950h10M766 1934h10M760 1920h10M777 1929h10M761 1899h10M787 1904h10M751 1921h10M703 1923h10M775 1935h10M814 1926h10M757 1913h10M739 1916h10M766 1945h10M781 1932h10M753 1932h10M707 1901h10M764 1895h10M790 1948h10M802 1900h10M730 1948h10M826 1934h10M737 1975h10M744 1941h10M793 1928h10M729 1900h10M755 1936h10M799 1948h10M753 1924h10M820 1912h10M721 1904h10M732 1949h10M782 1933h10M768 1933h10M776 1941h10M822 1962h10M758 1908h10M732 1952h10M753 1945h10M756 1933h10M740 1935h10M731 1962h10M687 1914h10M800 1934h10M774 1936h10M789 1934h10M771 1937h10M757 1938h10M756 1908h10M778 1934h10M808 1936h10M786 1905h10M758 1926h10M736 1946h10M743 1913h10M754 1954h10M708 1945h10M801 1926h10M810 1919h10M751 1952h10M768 1947h10M787 1891h10M746 1922h10M733 1928h10M783 1903h10M744 1941h10M840 1977h10M732 1949h10M713 1960h10M763 1902h10M759 1965h10M716 1938h10M792 1920h10M749 1905h10M784 1915h10M801 1901h10M738 1921h10M746 1935h10M733 1908h10M738 1950h10M774 1957h10M757 1937h10M752 1913h10M769 1934h10M809 1899h10M747 1953h10M808 1946h10M771 1925h10M743 1918h10M773 1933h10M759 1915h10M768 1935h10M753 1929h10M775 1928h10M754 1924h10M796 1966h10M803 1933h10M805 1937h10M766 1893h10M785 1955h10M728 1982h10M758 1945h10M720 1912h10M838 1932h10M730 1926h10M778 1930h10M740 1930h10M767 1899h10M817 1935h10M755 1949h10M749 1953h10M747 1946h10M733 1896h10M728 1932h10M821 1915h10M767 1926h10M781 1910h10M787 1893h10M771 1941h10M777 1944h10M724 1927h10M735 1923h10M741 1937h10M804 1938h10M767 1930h10M728 1943h10M726 1973h10M825 1941h10M747 1923h10M800 1896h10M749 1937h10M809 1938h10M714 1937h10M789 1921h10M728 1930h10M807 1923h10M784 1907h10M801 1903h10M783 1941h10M735 1930h10M743 1927h10M814 1920h10M819 1923h10M756 1954h10M752 1898h10M790 1930h10M787 1928h10M799 1910h10M770 1953h10M745 1931h10M781 1929h10M737 1959h10M802 1919h10M805 1987h10M767 1936h10M743 1943h10M735 1947h10M759 1938h10M768 1931h10M803 1902h10M775 1921h10M712 1943h10M718 1915h10M732 1909h10M783 1929h10M771 1948h10M736 1947h10M761 1920h10M751 1932h10M735 1958h10M755 1936h10M797 1915h10" stroke="#7cb146" stroke-width="10" stroke-opacity="0.85" fill="none"/>
<path transform="scale(.1)" d="M380 1930h8M456 1923h8M422 1907h8M440 1900h8M431 1950h8M381 1913h8M421 1914h8M410 1908h8M459 1924h8M424 1923h8M448 1942h8M481 1949h8M431 1868h8M452 1916h8M449 1949h8M406 1907h8M493 1909h8M410 1922h8M466 1945h8M467 1933h8M395 1918h8M409 1914h8M395 1934h8M366 1930h8M376 1946h8M424 1924h8M427 1917h8M470 1918h8M435 1894h8M443 1950h8M427 1935h8M371 1915h8M439 1897h8M423 1932h8M420 1908h8M374 1935h8M485 1933h8M448 1922h8M426 1912h8M441 1919h8M435 1919h8M439 1897h8M464 1914h8M460 1932h8M384 1926h8M433 1918h8M391 1878h8M412 1896h8M394 1900h8M412 1894h8M433 1895h8M365 1861h8M445 1941h8M483 1942h8M428 1937h8M408 1923h8M444 1918h8M440 1913h8M414 1948h8M427 1919h8M457 1941h8M421 1936h8M417 1919h8M468 1892h8M410 1929h8M472 1941h8M504 1930h8M461 1863h8M410 1923h8M335 1916h8M397 1944h8M414 1942h8M442 1945h8M447 1931h8M438 1918h8M431 1860h8M514 1920h8M405 1924h8M448 1937h8M429 1937h8M398 1895h8M393 1936h8M453 1901h8M405 1930h8M382 1906h8M457 1928h8M445 1919h8M379 1949h8M473 1918h8M367 1898h8M414 1901h8M455 1940h8M354 1878h8M347 1907h8M438 1940h8M430 1936h8M431 1933h8M424 1909h8M459 1924h8M461 1906h8M395 1947h8M405 1946h8M405 1910h8M415 1881h8M442 1938h8M433 1949h8M471 1906h8M474 1901h8M445 1898h8M471 1933h8M428 1893h8M465 1924h8M412 1932h8M424 1941h8M390 1930h8M466 1932h8M419 1910h8M433 1924h8M403 1943h8M466 1944h8M436 1945h8M363 1935h8M511 1907h8M466 1951h8M463 1941h8M495 1929h8M431 1899h8M383 1871h8M443 1917h8M419 1892h8M439 1916h8M449 1915h8M426 1947h8M413 1903h8M462 1897h8M446 1950h8M390 1945h8M455 1912h8M393 1922h8M432 1893h8M429 1882h8M443 1920h8M433 1914h8M417 1930h8M439 1898h8M433 1904h8M430 1938h8M430 1929h8M438 1927h8M444 1938h8M417 1947h8M433 1935h8M420 1932h8M412 1938h8M419 1936h8M393 1944h8M406 1938h8M446 1950h8M418 1935h8M414 1950h8M422 1940h8M452 1944h8M391 1934h8M418 1926h8M420 1943h8M420 1948h8M412 1942h8M421 1951h8M422 1948h8M415 1948h8M435 1950h8M432 1946h8M443 1918h8M413 1920h8M424 1939h8M481 1943h8M417 1926h8M443 1951h8M450 1942h8M408 1948h8M422 1934h8M428 1933h8M446 1940h8M402 1931h8M388 1937h8M432 1941h8M434 1936h8M434 1931h8M433 1943h8M398 1934h8M437 1935h8M452 1936h8M422 1929h8M431 1924h8M414 1932h8M390 1934h8M426 1920h8M426 1925h8M424 1941h8M400 1948h8M416 1940h8M439 1948h8M387 1947h8M410 1944h8M404 1928h8M453 1944h8M391 1927h8M434 1949h8M438 1918h8M457 1930h8M430 1936h8" stroke="#1e1e1e" stroke-width="8" stroke-opacity="0.65" fill="none"/>
<path transform="scale(.1)" d="M402 1899h7M382 1886h7M368 1856h7M457 1842h7M441 1939h7M493 1890h7M365 1865h7M423 1858h7M337 1908h7M416 1844h7M341 1924h7M445 1927h7M503 1935h7M532 1872h7M384 1872h7M525 1896h7M536 1922h7M376 1860h7M407 1861h7M406 1950h7M337 1943h7M472 1950h7M493 1925h7M352 1854h7M425 1902h7M428 1911h7M530 1911h7M409 1892h7M373 1853h7M333 1904h7M522 1893h7M400 1849h7M365 1862h7M535 1869h7M337 1917h7M494 1931h7M395 1936h7M478 1849h7M433 1858h7M485 1895h7M366 1914h7M497 1884h7M444 1889h7M456 1891h7M378 1920h7M439 1852h7M502 1890h7M527 1904h7M390 1940h7M463 1946h7M460 1840h7M345 1892h7M460 1882h7M357 1945h7M421 1878h7M479 1942h7M494 1918h7M432 1932h7M339 1863h7M492 1904h7M455 1905h7M509 1901h7M452 1944h7M425 1944h7M476 1927h7M417 1928h7M398 1909h7M519 1902h7M411 1882h7M437 1920h7M510 1937h7M354 1949h7M416 1944h7M457 1896h7M473 1903h7M506 1896h7M470 1881h7M344 1929h7M444 1934h7M495 1879h7M431 1862h7M506 1890h7M394 1891h7M506 1881h7M442 1904h7M422 1930h7M420 1887h7M562 1930h7M447 1873h7M365 1904h7M557 1905h7M533 1904h7M399 1902h7M407 1843h7M439 1850h7M489 1918h7M556 1936h7M420 1886h7M524 1912h7M443 1923h7M407 1925h7M440 1915h7M562 1920h7M510 1951h7M471 1945h7M447 1894h7M457 1947h7M453 1893h7M434 1924h7M452 1933h7M456 1879h7M433 1857h7M494 1880h7M445 1906h7M524 1920h7M354 1906h7M478 1929h7M438 1930h7M494 1926h7M457 1927h7M439 1935h7M385 1848h7M415 1937h7M439 1911h7M511 1864h7M418 1951h7M385 1906h7M375 1899h7M412 1879h7M505 1881h7M391 1898h7M380 1841h7M439 1882h7M533 1897h7M527 1885h7M452 1936h7M562 1894h7M416 1890h7M431 1867h7M467 1914h7M441 1896h7M351 1902h7M532 1945h7M506 1884h7M553 1899h7M534 1898h7M491 1935h7M471 1931h7M430 1901h7M569 1901h7M544 1891h7M426 1871h7M381 1937h7M549 1950h7M380 1908h7M443 1942h7M446 1929h7M424 1935h7M409 1948h7M426 1904h7" stroke="#333" stroke-width="7" stroke-opacity="0.5" fill="none"/>
<path transform="scale(.1)" d="M1336 719h7M1281 741h7M1289 621h7M1296 719h7M1158 437h7M1043 485h7M1152 463h7M1020 574h7M1071 424h7M1131 770h7M1225 726h7M1306 460h7M1180 710h7M1322 752h7M1376 700h7M1096 722h7M1112 624h7M1335 439h7M1376 462h7M1169 631h7M1137 713h7M1130 629h7M1305 498h7M1255 773h7M1149 623h7M1139 587h7M1373 646h7M1246 531h7M1286 483h7M1239 538h7M1344 584h7M1144 660h7M1200 468h7" stroke="#e07a68" stroke-width="7" stroke-opacity="0.4" fill="none"/>
<path transform="scale(.1)" d="M1071 709h7M1308 663h7M1243 674h7M1280 717h7M1177 640h7M1274 687h7M1236 512h7M1127 532h7M1373 668h7M1192 595h7M1161 686h7M1280 501h7M1369 624h7M1119 722h7M1094 634h7M1085 724h7M1287 595h7M1215 633h7M1351 501h7M1232 702h7M1269 610h7M1100 568h7M1156 552h7M1286 672h7M1156 505h7" stroke="#a9cb8c" stroke-width="7" stroke-opacity="0.5" fill="none"/>
<path transform="scale(.1)" d="M1276 454h8M1329 448h8M1359 466h8M1287 470h8M1348 484h8M1264 419h8M1181 468h8M1304 438h8M1248 408h8M1312 505h8M1212 466h8M1319 451h8M1342 465h8M1294 449h8M1423 448h8M1298 500h8M1245 446h8M1401 479h8M1387 490h8M1380 445h8M1340 449h8M1287 433h8M1329 418h8M1289 510h8M1262 486h8M1323 390h8M1374 448h8M1303 428h8M1197 497h8M1223 480h8M1242 468h8M1400 429h8M1299 420h8M1392 473h8M1228 494h8M1358 463h8M1374 438h8M1295 500h8M1310 442h8M1338 475h8M1277 447h8M1289 479h8M1250 433h8M1348 487h8M1314 423h8M1380 470h8M1345 457h8M1321 503h8M1218 451h8M1351 488h8M1228 400h8M1287 468h8M1359 437h8M1312 453h8M1300 437h8M1355 438h8M1346 446h8M1361 459h8M1274 484h8M1370 545h8M1341 497h8M1306 461h8M1308 449h8M1338 419h8M1335 432h8M1380 471h8M1209 451h8M1238 470h8M1289 476h8" stroke="#e8a070" stroke-width="8" stroke-opacity="0.5" fill="none"/>
<path transform="scale(.1)" d="M1058 366h8M1176 352h8M1111 318h8M1339 344h8M1104 385h8M1117 358h8M1008 393h8M1026 380h8M1247 367h8M1160 324h8M1005 356h8M1402 295h8M1062 288h8M1139 365h8M1360 326h8M1104 299h8M1201 308h8M1371 332h8M1044 345h8M1239 273h8M1265 387h8M1312 327h8M1051 287h8M1201 275h8M1060 290h8M1405 302h8M1193 349h8M1071 273h8M1150 337h8M1174 370h8M1202 319h8M1263 275h8M1342 384h8M1010 371h8M1047 333h8M1079 309h8M1365 358h8M1164 328h8M1108 340h8M1428 342h8M1026 370h8M1227 391h8M1366 325h8M1217 281h8M1424 326h8M1010 391h8M1168 345h8M1427 368h8M1034 274h8M1062 379h8M1102 314h8M1156 368h8M1288 356h8M1181 389h8M1277 371h8M1419 289h8M1144 314h8M1139 350h8M1338 288h8M1370 355h8M1237 366h8M1252 303h8M1109 327h8M1025 347h8M1292 313h8M1200 319h8M1410 369h8M1060 394h8M1137 308h8M1387 321h8M1106 328h8M1274 346h8M1014 362h8M1419 308h8M1216 315h8M1424 288h8M1204 317h8M1308 373h8M1205 278h8M1292 339h8M1021 284h8M1162 359h8M1095 330h8M1434 358h8M1439 334h8M1173 306h8M1424 348h8M1107 295h8M1317 308h8M1166 382h8M1037 321h8M1284 354h8M1174 279h8M1334 331h8M1351 331h8M1413 273h8M1297 356h8M1188 376h8M1445 360h8M1028 316h8M1044 329h8M1331 362h8M1299 288h8M1212 335h8M1313 290h8M1232 374h8M1126 371h8M1437 379h8M1295 359h8M1400 341h8M1140 351h8M1300 358h8M1065 354h8M1327 279h8M1372 380h8M1256 335h8M1353 360h8M1133 323h8M1114 313h8M1057 288h8M1266 357h8M1288 297h8M1248 295h8M1428 334h8M1057 297h8M1258 359h8M1139 279h8M1394 357h8M1193 285h8M1395 348h8M1102 313h8M1403 279h8M1344 295h8M1242 394h8M1055 341h8M1328 308h8M1422 275h8M1248 310h8M1046 296h8M1298 273h8M1153 324h8M1162 385h8M1062 391h8M1145 366h8M1126 301h8M1309 395h8M1253 384h8M1147 283h8M1126 327h8M1024 306h8M1009 320h8M1065 301h8M1130 323h8M1008 356h8M1033 301h8M1020 324h8M1030 324h8M1075 234h8M1119 300h8M1059 278h8M1088 333h8M1135 347h8M1089 280h8M1086 287h8M1035 312h8M1150 321h8M1090 335h8M1012 359h8M1133 300h8M1079 314h8M1019 284h8M1059 308h8M1127 328h8M1035 342h8M1015 303h8M1091 337h8M1008 281h8M1037 314h8M1112 326h8M1097 318h8M1137 290h8M1059 317h8M1045 302h8M1057 349h8M1062 333h8M1113 330h8M1092 346h8M1086 355h8M1037 325h8M1021 331h8M1145 317h8M1035 322h8M1070 274h8M1198 319h8M1138 317h8M1042 330h8M1122 318h8M1084 299h8M1125 331h8M1065 365h8M1067 361h8M1038 331h8M1129 303h8M1099 322h8M1010 330h8M1064 347h8M1036 349h8M1072 276h8M1047 351h8M1075 290h8M1098 326h8M1108 290h8M1017 308h8M1025 334h8M1091 296h8M1045 337h8M1051 284h8M1054 315h8M1057 363h8M1045 326h8M1136 332h8M1061 337h8M1148 306h8M1075 357h8M1039 312h8M1116 279h8M1143 284h8M1036 293h8M1045 315h8M1107 316h8M1088 289h8M1010 295h8M1106 328h8M1109 324h8M1080 329h8M1112 295h8M1077 282h8M1173 295h8M1075 297h8M1028 331h8M1118 325h8M1125 283h8M1102 286h8M1069 319h8M1050 328h8M1161 353h8M1069 360h8M1130 305h8M1020 327h8M1080 363h8M1116 315h8M1050 354h8M1002 262h8M1109 339h8M1073 340h8M1127 329h8M1264 313h8M1024 356h8M1168 329h8M1116 328h8M1097 313h8M1117 268h8M1066 337h8M1098 286h8M1021 307h8M1142 308h8M1170 327h8M1119 302h8M1070 318h8M1168 381h8M1039 345h8M1018 339h8M1033 280h8M1378 339h8M1174 352h8M1058 300h8M1096 335h8M1133 359h8M1333 322h8M1168 337h8M1206 293h8M1204 344h8M1130 303h8M1051 320h8M1333 383h8M1305 295h8M1088 335h8M1055 307h8M1028 323h8M1289 345h8M1330 332h8M1244 306h8M1290 306h8M1230 329h8M1175 309h8M1310 312h8M1215 345h8M1321 274h8M1368 318h8M1162 334h8M1294 317h8M1068 325h8M1113 316h8M1230 345h8M1206 302h8M1065 292h8M1209 359h8M1069 313h8M1097 322h8M1374 398h8M1076 304h8M1377 341h8M1258 350h8M1393 371h8M1130 282h8M1021 352h8M1331 328h8M1312 364h8M1392 382h8M1046 328h8M1111 321h8M1289 329h8M1358 316h8M1330 345h8M1236 349h8M1361 342h8M1284 336h8M1226 313h8M1259 384h8M1313 328h8M1025 306h8M1172 292h8M1108 305h8M1289 365h8M1208 351h8M1188 318h8M1378 321h8M1131 327h8M1342 373h8M1370 365h8M1077 340h8M1248 360h8M1045 326h8M1275 279h8M1112 301h8M1088 338h8M1145 323h8M1393 316h8M1273 345h8M1388 338h8M1324 301h8M1189 295h8M1110 321h8M1297 346h8M1275 330h8M1210 357h8M1214 346h8M1123 302h8M1335 357h8M1356 324h8M1127 317h8M1218 315h8M1089 365h8M1212 347h8M1117 356h8M1060 277h8M1355 348h8M1153 321h8M1063 337h8M1243 305h8M1329 275h8M1025 328h8M1266 339h8M1121 315h8M1313 357h8M1173 301h8M1098 323h8M1137 281h8M1238 330h8M1142 354h8M1249 325h8M1218 269h8M1346 361h8M1341 381h8M1129 354h8M1388 346h8M1293 326h8M1353 351h8M1386 347h8M1254 376h8M1027 357h8M1315 356h8M1030 314h8M1247 350h8M1184 337h8M1279 328h8M1297 357h8M1103 313h8M1340 327h8M1253 313h8M1331 313h8M1399 335h8M1345 335h8M1036 376h8M1090 309h8M1201 321h8M1337 362h8M1280 323h8M1107 327h8M1259 309h8M1366 347h8M1388 297h8M1175 294h8M1218 314h8M1261 340h8M1270 282h8M1175 339h8M1036 316h8M1104 276h8M1088 326h8M1212 319h8M1052 309h8M1286 342h8M1263 333h8M1175 328h8M1240 344h8M1297 312h8M1120 297h8M1213 315h8M1135 303h8M1251 335h8M1027 297h8M1045 313h8M1308 322h8M1023 318h8M1189 326h8M1251 319h8M1034 338h8M1264 337h8M1157 291h8M1312 356h8M1024 336h8M1237 302h8M1234 333h8M1192 282h8M1026 303h8M1361 341h8M1168 309h8M1205 349h8M1091 320h8M1384 311h8M1374 353h8M1077 263h8M1277 339h8M1288 332h8M1165 334h8M1209 355h8M1095 313h8" stroke="#d4473a" stroke-width="8" stroke-opacity="0.5" fill="none"/>
<path transform="scale(.1)" d="M1432 343h10M1494 322h10M1406 334h10M1408 368h10M1455 343h10M1388 332h10M1421 324h10M1429 327h10M1409 326h10M1331 350h10M1457 365h10M1380 322h10M1461 291h10M1411 331h10M1393 330h10M1396 330h10M1391 350h10M1377 363h10M1412 339h10M1436 347h10M1427 370h10M1443 306h10M1398 371h10M1460 346h10M1458 304h10M1448 321h10M1404 334h10M1392 333h10M1438 372h10M1415 301h10M1486 367h10M1395 337h10M1381 346h10M1454 332h10M1430 345h10M1458 313h10M1400 329h10M1438 324h10M1397 359h10M1384 310h10M1403 366h10M1448 320h10M1399 293h10M1434 336h10M1432 344h10M1386 331h10M1404 360h10M1418 340h10M1348 390h10M1373 344h10M1430 325h10M1462 322h10M1452 330h10M1483 308h10M1419 338h10M1403 323h10M1411 345h10M1427 314h10M1424 371h10M1407 366h10M1430 320h10M1443 332h10M1441 346h10M1432 315h10M1415 321h10M1459 322h10M1425 397h10M1478 299h10M1445 359h10M1485 305h10M1454 314h10M1367 348h10M1412 343h10M1467 329h10M1445 334h10M1430 308h10M1505 329h10M1360 386h10M1368 351h10M1434 348h10M1463 322h10M1452 340h10M1423 330h10M1402 346h10M1407 366h10M1448 332h10M1396 360h10M1422 284h10M1450 330h10M1439 314h10M1416 325h10M1439 346h10M1453 353h10M1371 373h10M1393 307h10M1440 347h10M1404 360h10M1400 363h10M1446 308h10M1423 280h10M1413 349h10M1447 311h10M1381 387h10M1467 349h10M1378 352h10M1431 336h10M1434 317h10M1410 345h10M1458 315h10M1422 350h10M1418 320h10M1389 384h10M1399 356h10M1410 328h10M1408 322h10M1407 317h10M1407 318h10M1473 314h10M1464 317h10M1415 380h10M1396 339h10M1430 351h10M1448 335h10M1431 336h10M1410 341h10M1411 360h10M1427 298h10M1393 346h10M1451 303h10M1434 342h10M1432 324h10M1402 327h10M1426 317h10M1390 354h10M1362 369h10M1491 333h10M1459 331h10M1465 332h10M1399 322h10M1352 354h10M1454 325h10M1438 319h10M1394 364h10M1406 325h10M1433 329h10M1468 347h10M1450 301h10M1472 315h10M1437 352h10M1457 316h10M1385 348h10M1454 316h10M1399 316h10M1420 338h10M1434 356h10M1471 319h10M1425 377h10M1448 334h10M1468 323h10M1442 320h10M1450 342h10M1430 318h10M1423 347h10M1396 330h10M1373 306h10M1459 325h10M1475 301h10M1446 339h10M1429 338h10M1417 356h10M1465 328h10M1383 378h10M1387 321h10M1360 325h10M1403 307h10M1390 382h10M1432 368h10M1436 322h10M1378 356h10M1463 337h10M1483 305h10M1461 345h10M1406 308h10M1465 312h10M1369 328h10M1443 295h10M1448 333h10M1425 354h10M1436 334h10M1446 339h10M1457 313h10M1455 330h10M1475 334h10M1430 381h10M1453 293h10M1421 319h10" stroke="#d4473a" stroke-width="10" stroke-opacity="0.85" fill="none"/>
<path transform="scale(.1)" d="M1453 402h10M1480 437h10M1472 426h10M1440 443h10M1451 425h10M1459 412h10M1435 465h10M1485 365h10M1493 383h10M1472 358h10M1458 428h10M1433 432h10M1482 472h10M1450 412h10M1474 459h10M1454 365h10M1480 384h10M1467 398h10M1479 402h10M1467 414h10M1462 417h10M1499 409h10M1492 368h10M1462 398h10M1502 436h10M1481 369h10M1478 429h10M1473 398h10M1486 379h10M1477 391h10M1431 356h10M1435 345h10M1482 422h10M1454 430h10M1478 387h10M1505 422h10M1430 392h10M1507 393h10M1482 401h10M1442 417h10M1481 375h10M1461 424h10M1466 363h10M1449 428h10M1435 390h10M1453 475h10M1451 399h10M1471 411h10M1462 402h10M1494 379h10M1462 361h10M1476 423h10M1443 422h10M1442 413h10M1453 401h10M1438 426h10M1483 418h10M1471 428h10M1430 407h10M1414 429h10M1423 375h10M1461 412h10M1454 405h10M1477 353h10M1502 413h10M1446 363h10M1412 392h10M1488 426h10M1455 363h10M1510 410h10M1444 390h10M1476 414h10M1503 389h10M1489 392h10M1479 377h10M1441 439h10M1428 423h10M1429 413h10M1433 376h10M1429 428h10M1458 424h10M1441 414h10M1440 371h10M1502 391h10M1434 385h10M1487 394h10M1469 395h10M1472 417h10M1438 418h10M1475 447h10M1470 412h10M1457 422h10M1455 427h10M1470 425h10M1438 404h10M1465 414h10M1475 446h10M1472 367h10M1501 438h10M1482 424h10M1462 435h10M1521 406h10M1475 410h10M1411 425h10M1427 378h10M1455 391h10M1480 424h10M1405 386h10M1486 391h10M1433 412h10M1476 405h10M1460 377h10M1463 383h10M1428 433h10M1502 403h10M1451 421h10M1482 374h10M1448 440h10M1469 416h10M1486 392h10M1424 393h10M1501 382h10M1431 419h10M1474 373h10M1438 394h10M1448 432h10M1423 412h10M1455 434h10M1463 371h10M1484 406h10M1461 427h10M1400 447h10M1413 448h10M1481 396h10M1454 384h10M1460 412h10M1493 417h10M1430 358h10M1433 376h10M1425 395h10M1438 392h10M1424 394h10M1480 417h10M1429 407h10M1445 440h10M1468 435h10M1469 358h10M1449 402h10M1471 374h10M1448 428h10M1490 410h10M1487 407h10M1408 405h10M1394 390h10M1422 378h10M1441 438h10M1506 389h10M1510 403h10M1477 381h10M1459 358h10M1492 370h10M1459 340h10M1501 364h10M1439 404h10M1410 389h10M1442 410h10M1473 417h10M1473 412h10M1447 333h10M1486 360h10M1418 415h10M1461 361h10M1465 397h10M1424 400h10M1392 426h10M1463 454h10M1464 392h10M1514 389h10M1464 423h10M1514 405h10M1490 417h10M1434 419h10M1473 423h10M1497 394h10M1488 415h10M1454 401h10M1465 415h10M1509 388h10M1504 413h10M1453 415h10M1488 410h10M1479 395h10M1494 438h10M1452 398h10M1467 406h10M1461 454h10M1503 381h10M1480 376h10M1430 387h10M1461 402h10M1460 378h10M1449 355h10M1436 430h10M1470 393h10M1420 424h10M1473 441h10M1430 386h10M1507 407h10M1457 451h10M1445 396h10M1460 393h10M1468 435h10M1439 407h10M1482 385h10M1448 399h10M1487 382h10M1407 451h10M1473 407h10M1458 406h10M1460 398h10M1462 408h10M1447 370h10M1493 380h10M1450 420h10M1458 373h10M1441 400h10M1455 397h10M1413 422h10M1414 362h10M1483 365h10M1433 435h10M1413 403h10M1446 387h10M1450 380h10M1468 419h10M1471 390h10M1490 399h10M1505 417h10M1486 362h10M1452 344h10M1414 402h10M1417 351h10M1454 346h10M1462 442h10M1464 406h10M1466 439h10M1472 385h10M1427 375h10M1456 369h10M1466 402h10M1460 415h10M1471 419h10M1453 376h10M1483 352h10M1446 392h10M1424 386h10M1465 428h10M1422 445h10" stroke="#6a4c9e" stroke-width="10" stroke-opacity="0.85" fill="none"/>
<path transform="scale(.1)" d="M1404 444h10M1451 441h10M1425 436h10M1402 452h10M1452 448h10M1462 447h10M1411 469h10M1415 482h10M1435 444h10M1458 445h10M1462 452h10M1438 449h10M1432 457h10M1454 435h10M1450 472h10M1429 447h10M1447 437h10M1420 445h10M1422 443h10M1406 460h10M1454 438h10M1456 411h10M1472 426h10M1459 405h10M1431 479h10M1430 452h10M1428 445h10M1438 433h10M1425 428h10M1452 438h10M1437 457h10M1455 434h10M1442 451h10M1429 408h10M1445 468h10M1414 431h10M1453 456h10M1444 430h10M1498 437h10M1419 470h10M1449 449h10M1452 435h10M1426 449h10M1479 463h10M1442 439h10M1419 447h10M1472 418h10M1437 461h10M1455 477h10M1441 444h10M1409 470h10M1450 410h10M1480 447h10M1406 436h10M1438 446h10M1464 449h10M1439 471h10M1421 413h10M1419 443h10M1406 469h10M1435 430h10M1430 432h10M1464 451h10M1415 448h10M1420 428h10M1434 460h10M1441 467h10M1434 431h10M1463 441h10M1413 449h10M1460 437h10M1466 446h10M1423 440h10M1448 452h10M1464 456h10M1485 449h10M1431 438h10M1451 454h10M1425 449h10M1445 457h10M1420 456h10M1442 462h10M1423 437h10M1430 479h10M1439 435h10M1473 451h10M1425 439h10M1475 433h10M1412 438h10M1441 428h10M1437 440h10M1448 453h10M1433 460h10M1460 468h10M1431 445h10M1431 434h10M1456 469h10M1468 462h10M1409 438h10M1452 445h10M1398 456h10M1476 418h10M1422 455h10M1439 397h10M1427 441h10M1410 451h10M1455 466h10M1441 444h10M1439 431h10M1447 459h10" stroke="#a05aa6" stroke-width="10" stroke-opacity="0.85" fill="none"/>
<path transform="scale(.1)" d="M1497 489h10M1441 494h10M1469 458h10M1478 492h10M1439 509h10M1454 536h10M1464 533h10M1408 487h10M1425 491h10M1464 554h10M1480 470h10M1435 505h10M1441 508h10M1474 517h10M1425 511h10M1421 506h10M1488 510h10M1467 460h10M1463 484h10M1430 520h10M1418 540h10M1434 539h10M1486 519h10M1458 514h10M1428 482h10M1462 509h10M1440 514h10M1473 517h10M1455 501h10M1417 516h10M1483 506h10M1431 465h10M1443 543h10M1478 520h10M1447 494h10M1487 484h10M1457 482h10M1476 533h10M1422 513h10M1474 497h10M1450 510h10M1434 492h10M1424 534h10M1448 508h10M1441 523h10M1424 459h10M1425 498h10M1404 447h10M1444 506h10M1435 488h10M1419 504h10M1414 523h10M1456 461h10M1434 475h10M1453 532h10M1416 517h10M1457 513h10M1441 485h10M1441 485h10M1417 466h10M1465 486h10M1405 452h10M1464 474h10M1415 547h10M1485 506h10M1450 522h10M1457 501h10M1442 495h10M1454 519h10M1411 459h10M1427 490h10M1441 487h10M1431 532h10M1441 516h10M1403 524h10M1456 486h10M1431 507h10M1460 496h10M1437 546h10M1463 509h10M1435 467h10M1438 524h10M1414 481h10M1447 581h10M1470 503h10M1433 515h10M1444 470h10M1445 508h10M1439 487h10M1431 499h10M1453 509h10M1466 503h10M1481 552h10M1471 535h10M1439 448h10M1438 532h10M1442 470h10M1404 507h10M1443 483h10M1427 493h10M1425 522h10M1403 531h10M1431 532h10M1409 489h10M1445 505h10M1432 474h10M1459 538h10M1451 511h10M1470 495h10M1422 544h10M1442 552h10M1447 489h10M1423 556h10M1405 507h10M1455 493h10M1422 462h10M1439 575h10M1432 514h10M1439 529h10M1442 534h10M1449 488h10M1452 543h10M1443 478h10M1449 529h10M1426 497h10M1432 521h10M1448 496h10M1435 536h10M1446 527h10M1444 544h10M1441 506h10M1438 509h10M1433 460h10M1476 539h10M1455 455h10M1457 550h10M1440 499h10M1425 541h10M1443 411h10M1455 512h10M1475 539h10M1424 457h10M1485 494h10M1455 490h10M1427 522h10M1475 482h10M1485 546h10M1429 514h10M1430 477h10M1483 524h10M1442 560h10M1438 488h10M1428 495h10M1411 538h10M1476 505h10M1463 486h10M1422 514h10M1411 560h10M1454 497h10M1412 508h10M1437 499h10M1458 529h10M1449 518h10M1430 525h10M1436 548h10M1449 519h10M1399 568h10M1463 486h10M1422 498h10M1425 537h10M1457 564h10M1443 477h10M1394 497h10M1422 523h10M1450 487h10M1411 461h10M1408 567h10M1459 570h10M1456 516h10M1450 547h10M1414 522h10M1444 473h10M1450 462h10M1470 535h10M1445 488h10M1435 484h10M1461 543h10M1433 483h10M1443 454h10M1492 491h10M1472 512h10M1425 547h10M1460 516h10M1469 516h10M1457 490h10" stroke="#e0892e" stroke-width="10" stroke-opacity="0.9" fill="none"/>
<path transform="scale(.1)" d="M1432 639h10M1366 663h10M1417 582h10M1446 726h10M1445 700h10M1435 698h10M1442 682h10M1435 700h10M1426 667h10M1421 666h10M1450 650h10M1414 597h10M1408 684h10M1436 724h10M1432 582h10M1413 703h10M1447 621h10M1460 632h10M1411 587h10M1447 650h10M1412 646h10M1421 655h10M1438 596h10M1453 698h10M1440 605h10M1441 595h10M1453 624h10M1438 661h10M1421 691h10M1455 677h10M1441 730h10M1459 680h10M1432 738h10M1424 615h10M1475 653h10M1404 699h10M1425 705h10M1488 671h10M1428 587h10M1418 600h10M1421 625h10M1456 656h10M1436 735h10M1458 605h10M1435 595h10M1421 583h10M1419 633h10M1416 600h10M1440 571h10M1448 684h10M1450 704h10M1426 633h10M1458 718h10M1444 742h10M1455 713h10M1420 646h10M1429 606h10M1463 743h10M1468 584h10M1452 690h10M1428 613h10M1477 582h10M1440 646h10M1414 628h10M1456 719h10M1415 655h10M1480 641h10M1462 661h10M1472 704h10M1407 651h10M1418 732h10M1442 720h10M1453 698h10M1461 594h10M1422 634h10M1449 697h10M1446 592h10M1404 721h10M1431 592h10M1449 595h10M1410 590h10M1449 741h10M1457 686h10M1472 651h10M1437 637h10M1435 620h10M1447 754h10M1438 752h10M1421 620h10M1432 653h10M1431 581h10M1416 689h10M1434 714h10M1425 735h10M1468 650h10M1471 574h10M1455 647h10M1444 597h10M1445 619h10M1425 603h10M1426 689h10M1445 738h10M1416 729h10M1468 755h10M1424 710h10M1441 667h10M1433 730h10M1464 662h10M1449 595h10M1453 684h10M1431 751h10M1435 656h10M1438 689h10M1405 673h10M1440 633h10M1414 646h10M1421 577h10M1416 607h10M1467 571h10M1449 695h10M1437 738h10M1421 700h10M1431 720h10M1424 633h10M1437 681h10M1411 723h10M1439 657h10M1424 683h10M1441 582h10M1470 571h10M1456 610h10M1473 635h10M1420 642h10M1424 718h10M1415 594h10M1404 696h10M1441 705h10M1426 679h10M1439 696h10M1438 724h10M1452 725h10M1442 742h10M1419 744h10M1451 607h10M1389 629h10M1433 733h10M1435 728h10M1416 570h10M1429 641h10M1423 630h10M1434 572h10M1439 663h10M1428 576h10M1452 740h10M1463 620h10M1449 691h10M1413 601h10M1457 572h10M1439 660h10M1423 572h10M1448 611h10M1430 674h10M1453 673h10M1427 626h10M1439 594h10M1436 571h10M1422 701h10M1406 593h10M1439 750h10M1434 646h10M1423 682h10M1456 630h10M1442 733h10M1428 594h10M1433 591h10M1429 654h10M1455 729h10M1448 684h10M1477 620h10M1404 699h10M1423 602h10M1433 619h10M1449 690h10M1450 620h10M1415 667h10M1460 622h10M1441 731h10M1429 701h10M1446 665h10M1465 610h10M1460 581h10M1431 639h10M1436 732h10M1417 666h10M1443 722h10M1452 741h10M1447 590h10M1455 593h10M1437 730h10M1411 644h10M1438 628h10M1442 578h10M1440 640h10M1428 615h10M1417 666h10M1485 648h10M1447 589h10M1445 752h10M1441 701h10M1449 692h10M1431 681h10M1406 648h10M1445 617h10M1404 576h10M1436 608h10M1429 719h10M1415 626h10M1469 635h10M1453 671h10M1423 612h10M1442 697h10M1417 594h10M1447 690h10M1433 643h10M1426 671h10M1418 593h10M1461 652h10M1451 608h10M1408 706h10M1422 628h10M1424 746h10M1450 725h10M1407 681h10M1447 599h10M1444 684h10M1435 746h10M1471 707h10M1449 644h10M1467 730h10M1436 631h10M1434 652h10M1427 698h10M1404 598h10M1423 616h10M1431 653h10M1406 737h10M1446 588h10M1421 575h10M1457 681h10M1416 673h10M1426 570h10M1488 573h10M1428 754h10M1450 654h10M1411 630h10M1458 676h10M1491 614h10M1468 571h10M1421 629h10M1466 602h10M1426 600h10M1438 744h10M1468 630h10M1408 656h10M1428 593h10M1425 703h10M1427 634h10M1448 710h10M1468 640h10M1418 740h10M1467 689h10M1467 652h10M1404 741h10M1434 731h10M1438 693h10M1421 736h10M1426 585h10M1434 738h10M1404 700h10M1389 659h10M1444 651h10M1453 748h10M1450 648h10M1453 726h10M1444 637h10M1407 570h10M1445 651h10M1438 642h10M1448 662h10M1446 655h10M1431 745h10M1408 638h10M1439 651h10M1432 584h10M1417 636h10M1435 612h10M1478 644h10M1438 708h10M1423 667h10M1457 615h10M1422 614h10M1439 644h10M1447 661h10M1454 729h10M1453 628h10M1428 723h10M1432 751h10M1429 680h10M1429 648h10M1455 612h10M1438 719h10M1404 731h10M1433 656h10M1444 741h10M1444 720h10M1454 654h10M1443 606h10M1429 748h10M1438 742h10M1411 701h10M1452 587h10M1403 640h10M1435 700h10M1405 612h10M1423 598h10M1431 706h10M1434 684h10M1435 610h10M1464 685h10M1445 690h10M1432 602h10M1419 585h10M1435 689h10M1406 626h10M1415 615h10M1429 722h10M1468 736h10M1444 666h10M1434 631h10M1428 646h10M1428 735h10M1419 723h10M1440 727h10M1423 750h10M1443 706h10M1459 605h10M1471 597h10M1419 587h10M1431 594h10M1428 705h10M1462 654h10M1422 629h10M1433 741h10M1417 594h10M1417 663h10M1423 680h10M1434 715h10M1425 624h10M1440 683h10M1481 639h10M1461 661h10M1472 719h10M1419 741h10M1458 607h10M1425 748h10M1446 654h10M1441 629h10M1455 714h10M1447 723h10M1442 709h10M1469 592h10M1429 592h10M1463 639h10M1425 636h10M1451 638h10M1436 717h10M1424 740h10M1436 581h10M1416 694h10M1451 647h10M1436 606h10M1450 749h10M1417 739h10M1417 707h10M1440 725h10M1473 632h10M1494 650h10M1421 672h10M1434 650h10M1442 579h10M1441 720h10M1452 712h10M1456 600h10M1417 747h10M1432 639h10M1435 585h10M1447 645h10M1468 654h10M1447 692h10M1446 614h10M1439 635h10M1466 716h10M1431 617h10M1440 698h10M1447 633h10M1429 679h10M1405 687h10M1457 581h10M1400 686h10M1446 747h10M1448 715h10M1434 583h10M1402 607h10M1443 736h10M1447 579h10M1433 652h10M1441 700h10M1407 618h10M1465 602h10M1455 689h10M1406 712h10M1460 599h10M1455 727h10M1455 670h10M1452 615h10M1434 584h10M1418 717h10M1425 681h10M1453 612h10M1454 589h10M1408 610h10M1427 722h10M1461 723h10M1434 703h10M1405 706h10M1444 653h10M1453 635h10M1424 753h10M1451 675h10M1436 634h10M1439 599h10M1430 618h10M1431 732h10" stroke="#7cb146" stroke-width="10" stroke-opacity="0.9" fill="none"/>
<path transform="scale(.1)" d="M1209 1084h7M1097 1107h7M1079 1322h7M1145 1295h7M1324 1355h7M1093 1118h7M1212 1044h7M1277 1306h7M1128 1258h7M1100 1317h7M1314 1072h7M1156 1094h7M1221 1347h7M1060 1365h7M1322 1265h7M1229 1317h7M1074 1216h7M1102 1190h7M1073 1081h7M1081 1354h7M1225 1249h7M1295 1361h7M1150 1174h7M1267 1093h7M1313 1246h7M1220 1252h7M1160 1342h7M1179 1194h7M1197 1172h7M1265 1192h7M1111 1075h7M1120 1197h7M1161 1276h7M1221 1212h7M1049 1372h7M1059 1369h7M1330 1129h7M1155 1283h7M1088 1365h7M1321 1078h7M1264 1176h7M1186 1103h7M1070 1096h7M1176 1180h7M1150 1179h7M1142 1272h7M1255 1345h7M1270 1075h7M1056 1046h7M1237 1048h7M1113 1222h7M1262 1375h7" stroke="#e07a68" stroke-width="7" stroke-opacity="0.4" fill="none"/>
<path transform="scale(.1)" d="M1233 1344h7M1182 1150h7M1184 1349h7M1113 1188h7M1343 1110h7M1163 1172h7M1197 1341h7M1192 1285h7M1062 1251h7M1048 1242h7M1136 1367h7M1220 1186h7M1204 1206h7M1114 1149h7M1171 1310h7M1298 1230h7M1246 1178h7M1045 1135h7M1109 1213h7M1115 1320h7M1263 1192h7M1298 1171h7M1109 1366h7M1337 1187h7M1184 1196h7M1075 1214h7M1187 1127h7M1130 1351h7M1041 1220h7M1160 1179h7M1261 1178h7M1218 1174h7M1105 1358h7M1167 1154h7M1310 1116h7M1075 1224h7M1127 1139h7M1134 1204h7M1333 1300h7M1336 1324h7M1122 1206h7M1044 1145h7M1320 1180h7M1244 1104h7M1263 1168h7M1047 1321h7M1335 1324h7M1153 1379h7M1047 1301h7M1115 1100h7M1047 1267h7M1331 1226h7M1057 1152h7M1298 1120h7M1166 1303h7M1175 1338h7M1188 1364h7M1150 1144h7M1314 1320h7M1182 1194h7M1346 1369h7M1070 1228h7M1068 1187h7M1079 1223h7M1326 1380h7M1050 1104h7M1199 1192h7" stroke="#a9cb8c" stroke-width="7" stroke-opacity="0.5" fill="none"/>
<path transform="scale(.1)" d="M1247 975h8M1061 1029h8M1131 992h8M1163 880h8M1425 1026h8M1258 979h8M1345 905h8M1037 958h8M1036 911h8M1424 892h8M1160 967h8M1018 1018h8M1255 882h8M1160 963h8M1431 885h8M1277 1016h8M1413 982h8M1315 1026h8M1078 1019h8M1409 997h8M1359 886h8M1078 945h8M1117 968h8M1273 996h8M1448 1005h8M1408 948h8M1295 971h8M1025 983h8M1451 953h8M1040 963h8M1093 1018h8M1077 1004h8M1213 938h8M1018 1027h8M1425 948h8M1451 1029h8M1359 997h8M1021 920h8M1294 971h8M1090 983h8M1352 1008h8M1320 953h8M1332 895h8M1083 888h8M1440 931h8M1123 1030h8M1441 886h8M1276 899h8M1028 977h8M1117 897h8M1281 914h8M1314 1002h8M1268 931h8M1077 893h8M1258 887h8M1286 954h8M1299 886h8M1346 1016h8M1425 881h8M1316 1027h8M1074 928h8M1111 901h8M1357 946h8M1144 979h8M1069 1011h8M1347 1011h8M1263 876h8M1219 960h8M1258 944h8M1411 1022h8M1182 938h8M1361 902h8M1229 908h8M1083 898h8M1090 905h8M1254 986h8M1430 911h8M1125 881h8M1141 1008h8M1162 967h8M1396 990h8M1087 969h8M1290 984h8M1326 984h8M1306 1021h8M1234 957h8M1255 902h8M1208 924h8M1130 954h8M1068 945h8M1258 1027h8M1393 883h8M1249 886h8M1024 1013h8M1193 1026h8M1133 996h8M1014 879h8M1274 924h8M1345 907h8M1423 977h8M1053 978h8M1324 909h8M1316 880h8M1345 1007h8M1014 948h8M1201 929h8M1457 872h8M1440 982h8M1152 970h8M1301 911h8M1076 999h8M1336 1010h8M1020 944h8M1099 934h8M1201 1022h8M1080 904h8M1376 1017h8M1045 1028h8M1006 922h8M1365 976h8M1108 1023h8M1149 1027h8M1161 1017h8M1340 986h8M1074 964h8M1071 890h8M1128 1012h8M1405 889h8M1241 930h8M1053 879h8M1258 895h8M1390 918h8M1363 937h8M1037 893h8M1140 1025h8M1093 914h8M1112 1014h8M1200 925h8M1144 993h8M1453 879h8M1267 1009h8M1321 890h8M1154 972h8M1420 935h8M1379 924h8M1217 967h8M1190 935h8M1189 911h8M1009 919h8M1435 993h8M1181 1022h8M1266 882h8M1108 911h8M1354 905h8M1125 1006h8M1338 892h8M1204 1001h8M1438 905h8M1329 1006h8M1326 997h8M1048 887h8M1359 922h8M1106 905h8M1149 989h8M1151 920h8M1056 928h8M1108 953h8M1346 1025h8M1259 883h8M1243 883h8M1298 896h8M1029 979h8M1107 1001h8M1430 963h8M1240 906h8M1154 900h8M1016 904h8M1423 878h8M1205 1019h8M1412 876h8M1018 892h8M1337 983h8M1014 911h8M1114 937h8M1108 981h8M1386 956h8M1168 955h8M1294 981h8M1238 979h8M1251 961h8M1418 873h8M1389 940h8M1209 1008h8M1386 894h8M1222 1024h8M1442 951h8M1147 1021h8M1280 917h8M1115 909h8M1233 888h8M1088 942h8M1136 925h8M1172 939h8M1069 880h8M1077 931h8M1094 916h8M1206 944h8M1120 931h8M1143 931h8M1151 911h8M1172 947h8M1040 953h8M1152 910h8M1118 912h8M1123 975h8M1130 910h8M1107 953h8M1161 975h8M1095 910h8M1067 978h8M1111 916h8M1240 917h8M1133 893h8M1036 928h8M1083 871h8M1120 932h8M1130 942h8M1113 942h8M1099 935h8M1145 940h8M1033 932h8M1284 896h8M1232 897h8M1041 925h8M1057 977h8M1129 908h8M1196 955h8M1128 909h8M1128 965h8M1038 915h8M1124 960h8M1077 910h8M1164 909h8M1177 957h8M1057 948h8M1101 946h8M1120 904h8M1024 934h8M1176 948h8M1148 940h8M1151 920h8M1191 889h8M1115 938h8M1114 906h8M1111 928h8M1073 928h8M1252 928h8M1191 904h8M1063 904h8M1206 960h8M1099 921h8M1176 924h8M1097 937h8M1085 1002h8M1249 976h8M1055 936h8M1193 899h8M1112 920h8M1102 925h8M1054 915h8M1075 942h8M1013 917h8M1059 916h8M1114 913h8M1116 897h8M1042 947h8M1030 894h8M1174 896h8M1240 986h8M1103 907h8M1154 886h8M1139 900h8M1182 959h8M1078 901h8M1194 879h8M1154 946h8M1116 922h8M1099 941h8M1093 942h8M1144 986h8M1225 907h8M1118 936h8M1078 931h8M1103 884h8M1098 885h8M1059 906h8M1109 905h8M1157 891h8M1085 872h8M1095 887h8M1142 857h8M1030 914h8M1238 914h8M1019 930h8M1085 887h8M1007 984h8M1073 958h8M1085 914h8M1141 961h8M1103 921h8M1124 895h8M1025 910h8M1201 890h8M1077 931h8M1224 883h8M1057 983h8M1159 900h8M1055 955h8M1201 887h8M1134 923h8M1135 940h8M1142 942h8M1119 930h8M1030 913h8M1137 905h8M1206 881h8M1213 927h8M1017 907h8M1080 888h8M1165 955h8M1102 940h8M1027 899h8M1224 930h8M1284 908h8M1038 945h8M1074 868h8M1152 958h8M1189 916h8M1145 940h8M1061 895h8M1242 900h8M1022 898h8M1165 931h8M1108 961h8M1088 874h8M1176 946h8M1097 905h8M1123 913h8M1117 927h8M1123 957h8M1153 948h8M1155 955h8M1065 915h8M1078 899h8M1144 862h8M1183 918h8M1191 917h8M1277 961h8M1096 988h8M1099 952h8M1162 967h8M1046 877h8M1118 961h8M1223 973h8M1026 923h8M1131 895h8M1114 970h8M1123 974h8M1065 916h8M1106 925h8M1107 923h8M1004 913h8M1031 962h8M1018 864h8M1055 905h8M1178 937h8M1063 928h8M1121 934h8M1113 904h8M1125 952h8M1041 946h8M1263 920h8M1049 922h8M1111 935h8M1010 909h8M1110 969h8M1090 973h8M1162 893h8M1123 951h8M1074 930h8M1014 904h8M1082 948h8M1106 908h8M1031 899h8M1072 946h8M1133 923h8M1062 969h8M1164 925h8M1106 886h8M1059 985h8M1126 944h8M1107 953h8M1098 927h8M1167 889h8M1031 952h8M1133 951h8M1096 1009h8M1037 917h8M1047 903h8M1093 934h8M1034 940h8M1138 900h8M1097 932h8M1152 950h8M1164 901h8M1124 951h8M1215 901h8M1202 884h8M1049 924h8M1130 942h8M1070 936h8M1053 966h8M1291 898h8M1080 959h8M1100 892h8M1152 899h8M1172 846h8M1191 878h8M1113 925h8M1178 899h8M1130 904h8M1065 1007h8M1084 904h8M1172 947h8M1223 900h8M1113 955h8M1149 955h8M1051 932h8M1264 882h8M1181 916h8M1107 930h8M1109 908h8M1049 928h8M1040 869h8M1179 980h8M1174 911h8M1158 904h8M1102 912h8M1235 928h8M1134 906h8M1110 947h8M1169 940h8M1049 944h8M1132 884h8M1255 916h8M1248 983h8M1443 951h8M1185 942h8M1451 975h8M1328 931h8M1375 930h8M1318 929h8M1379 933h8M1208 996h8M1055 937h8M1221 935h8M1050 894h8M1223 908h8M1264 919h8M1154 883h8M1303 952h8M1040 916h8M1438 1023h8M1161 975h8M1199 1012h8M1027 879h8M1413 929h8M1362 908h8M1030 888h8M1376 970h8M1326 911h8M1206 882h8M1031 987h8M1292 941h8M1230 928h8M1310 934h8M1212 911h8M1422 990h8M1229 938h8M1252 913h8M1247 900h8M1151 885h8M1342 937h8M1369 965h8M1301 924h8M1153 959h8M1091 971h8M1089 909h8M1071 926h8M1057 854h8M1100 906h8M1243 943h8M1453 976h8M1399 913h8M1381 929h8M1323 913h8M1311 925h8M1082 924h8M1056 867h8M1069 880h8M1037 944h8M1144 940h8M1258 926h8M1383 936h8M1409 978h8M1368 976h8M1135 926h8M1269 870h8M1378 976h8M1079 928h8M1059 886h8M1407 1006h8M1265 971h8M1091 898h8M1236 963h8M1220 939h8M1103 883h8M1071 947h8M1157 928h8M1221 957h8M1229 860h8M1131 902h8M1264 936h8M1032 926h8M1251 926h8M1270 961h8M1152 954h8M1056 925h8M1219 953h8M1190 961h8M1365 927h8M1299 901h8M1446 974h8M1206 991h8M1132 927h8M1385 956h8M1133 901h8M1169 910h8M1094 879h8M1223 883h8M1304 989h8M1232 911h8M1041 906h8M1447 967h8M1088 925h8M1261 883h8M1167 924h8M1299 932h8M1160 916h8M1108 891h8M1107 884h8M1110 875h8M1322 957h8M1378 946h8M1199 983h8M1398 994h8M1281 870h8M1424 926h8M1079 889h8M1222 933h8M1213 934h8M1163 964h8M1309 930h8M1344 957h8M1181 984h8M1096 883h8M1167 896h8M1110 947h8M1397 975h8M1401 944h8M1292 965h8M1139 926h8M1401 989h8M1281 929h8M1164 968h8M1151 892h8M1036 926h8M1125 882h8M1364 949h8M1447 919h8M1215 974h8M1430 954h8M1268 944h8M1446 936h8M1447 923h8M1130 854h8M1075 954h8M1407 965h8M1202 879h8M1058 932h8M1330 1029h8M1297 962h8M1322 900h8M1289 923h8M1294 892h8M1316 938h8M1057 983h8M1304 992h8M1031 914h8M1087 906h8M1129 937h8M1252 975h8M1345 939h8M1237 918h8M1141 946h8M1068 941h8M1388 921h8M1055 894h8M1131 891h8M1343 942h8M1131 942h8M1251 969h8M1070 883h8M1257 983h8M1280 948h8M1185 910h8M1437 933h8M1046 920h8M1078 915h8M1296 971h8M1350 970h8M1034 895h8M1079 877h8M1115 864h8M1397 927h8M1340 940h8M1135 872h8M1105 897h8M1169 949h8M1041 930h8M1173 936h8M1191 928h8M1310 969h8M1059 911h8M1368 977h8M1033 855h8M1040 963h8M1169 881h8M1193 861h8M1167 887h8M1243 971h8M1088 942h8M1092 898h8M1269 912h8M1337 900h8M1302 971h8M1140 938h8M1354 976h8M1320 916h8M1058 897h8M1227 932h8M1302 931h8M1311 982h8M1456 944h8M1354 933h8M1345 952h8M1319 956h8M1110 944h8M1253 892h8M1178 926h8M1085 873h8M1333 953h8M1250 917h8M1318 920h8M1156 978h8M1178 932h8M1037 859h8M1147 879h8M1331 974h8M1247 938h8M1319 926h8M1347 983h8M1293 943h8M1403 980h8M1059 899h8M1342 960h8M1174 918h8M1052 953h8M1235 980h8M1029 933h8M1202 1012h8M1455 949h8M1045 964h8M1433 1005h8M1329 984h8M1275 966h8M1229 955h8M1442 969h8M1442 970h8M1412 979h8M1343 950h8M1176 961h8M1222 950h8M1169 938h8M1399 939h8M1023 926h8M1156 914h8M1291 919h8M1078 932h8M1033 954h8M1407 996h8M1261 942h8M1393 905h8M1427 1001h8M1262 932h8M1107 910h8M1353 939h8M1053 931h8M1327 989h8M1262 950h8M1357 995h8M1214 971h8M1110 876h8M1435 989h8M1062 934h8M1125 894h8M1233 971h8M1449 981h8M1237 896h8M1202 946h8M1036 922h8M1378 882h8M1126 933h8M1254 972h8M1313 910h8M1065 894h8M1094 942h8M1334 961h8M1244 902h8M1439 994h8M1311 906h8M1131 896h8M1237 936h8M1238 965h8M1072 915h8M1419 975h8M1364 944h8M1062 881h8M1319 1009h8M1423 991h8M1355 917h8" stroke="#d4473a" stroke-width="8" stroke-opacity="0.6" fill="none"/>
<path transform="scale(.1)" d="M1395 949h10M1281 992h10M1372 958h10M1435 940h10M1363 981h10M1448 944h10M1289 990h10M1395 983h10M1459 980h10M1327 977h10M1371 1050h10M1408 973h10M1273 966h10M1424 943h10M1317 1013h10M1374 1010h10M1418 983h10M1342 975h10M1322 999h10M1392 935h10M1345 964h10M1394 980h10M1435 964h10M1342 1002h10M1330 1013h10M1431 956h10M1389 978h10M1270 963h10M1415 975h10M1436 992h10M1287 1021h10M1355 974h10M1360 1041h10M1414 951h10M1388 971h10M1291 989h10M1382 958h10M1349 975h10M1387 993h10M1427 991h10M1450 964h10M1342 1011h10M1312 990h10M1367 997h10M1340 993h10M1412 966h10M1375 984h10M1414 993h10M1411 949h10M1357 954h10M1440 961h10M1329 969h10M1432 1015h10M1284 987h10M1416 946h10M1362 960h10M1458 984h10M1376 991h10M1345 1019h10M1299 1000h10M1410 996h10M1371 984h10M1459 949h10M1298 977h10M1461 962h10M1455 991h10M1422 973h10M1321 1003h10M1375 998h10M1406 979h10M1434 942h10M1388 952h10M1282 984h10M1394 930h10M1338 1026h10M1344 1017h10M1361 967h10M1436 991h10M1407 931h10M1373 1019h10M1381 955h10M1445 938h10M1397 968h10M1287 1011h10M1366 993h10M1354 993h10M1343 933h10M1434 961h10M1456 992h10M1297 1003h10M1429 944h10M1317 970h10M1344 957h10M1306 974h10M1320 1031h10M1364 971h10M1320 1016h10M1459 972h10M1358 986h10M1422 961h10M1379 975h10M1336 990h10M1294 1015h10M1425 943h10M1459 949h10M1437 959h10M1323 1007h10M1357 949h10M1452 946h10M1398 936h10M1378 974h10M1413 982h10M1431 980h10M1298 1007h10M1453 978h10M1283 998h10M1343 984h10M1436 1010h10M1283 977h10M1332 1011h10M1371 962h10M1364 965h10M1401 922h10M1426 952h10M1301 1012h10M1399 986h10M1374 941h10M1348 989h10M1318 978h10M1325 982h10M1312 1053h10M1278 985h10M1400 994h10M1324 997h10M1354 1032h10M1332 983h10M1435 960h10M1339 984h10M1291 993h10M1307 1000h10M1418 959h10M1364 1009h10M1394 960h10M1424 954h10M1417 963h10M1307 991h10M1398 945h10M1425 946h10M1405 957h10M1299 995h10M1336 1058h10M1395 1004h10M1435 996h10M1393 1017h10M1441 996h10M1314 971h10M1383 1002h10M1344 981h10M1363 1012h10M1296 992h10M1342 973h10M1389 1020h10M1456 962h10M1405 965h10M1289 1004h10M1436 920h10M1441 978h10M1448 945h10M1435 926h10M1451 960h10M1398 977h10M1342 991h10M1433 965h10M1370 1011h10M1430 928h10M1301 940h10M1345 975h10M1313 976h10M1286 1002h10M1307 986h10M1412 943h10M1332 1006h10M1358 961h10M1317 1025h10M1450 920h10M1376 917h10M1342 975h10M1280 993h10M1453 949h10M1407 956h10M1337 959h10M1304 984h10M1460 964h10M1390 986h10M1289 1024h10M1429 991h10M1422 987h10M1444 971h10M1413 996h10M1424 982h10M1305 951h10M1348 982h10M1409 943h10M1318 937h10M1345 942h10M1326 952h10M1278 982h10M1441 977h10M1414 926h10M1317 1028h10M1390 999h10M1374 950h10M1397 1001h10M1286 998h10M1428 996h10M1352 988h10M1309 970h10M1400 959h10M1458 949h10M1357 986h10M1319 1019h10M1372 1021h10M1378 972h10" stroke="#d4473a" stroke-width="10" stroke-opacity="0.75" fill="none"/>
<path transform="scale(.1)" d="M1435 1143h10M1297 1142h10M1468 1190h10M1250 1207h10M1462 1111h10M1451 1092h10M1452 1091h10M1411 1134h10M1363 1047h10M1268 1158h10M1374 1096h10M1428 1143h10M1324 1145h10M1376 1078h10M1395 1119h10M1408 1179h10M1395 1081h10M1334 1176h10M1375 1151h10M1382 1064h10M1423 1082h10M1440 1048h10M1396 1118h10M1385 1116h10M1355 1146h10M1304 1046h10M1388 1066h10M1289 1154h10M1422 1123h10M1437 1137h10M1512 1173h10M1292 1057h10M1397 1071h10M1472 1074h10M1324 1117h10M1416 1171h10M1371 1191h10M1337 1076h10M1380 1116h10M1469 1183h10M1459 1042h10M1405 1094h10M1435 1133h10M1335 1127h10M1500 1111h10M1432 1242h10M1516 1137h10M1376 1087h10M1402 1156h10M1304 1158h10M1378 1110h10M1396 1172h10M1391 1181h10M1372 1124h10M1480 1178h10M1482 1147h10M1361 1126h10M1432 1090h10M1290 1158h10M1396 1095h10M1331 1121h10M1374 1160h10M1411 1176h10M1317 1090h10M1334 1187h10M1294 1084h10M1469 1090h10M1422 1171h10M1473 1102h10M1465 1117h10M1371 1078h10M1370 1187h10M1372 1129h10M1325 1134h10M1366 1118h10M1367 1112h10M1363 1079h10M1376 1123h10M1387 1142h10M1407 1153h10M1507 1073h10M1477 1088h10M1319 1191h10M1477 1146h10M1489 1203h10M1399 1176h10M1383 1202h10M1492 1176h10M1279 1175h10M1424 1165h10M1412 1142h10M1299 1174h10M1364 1132h10M1434 1162h10M1418 1119h10M1347 1110h10M1332 1152h10M1429 1098h10M1409 1069h10M1308 1096h10M1421 1080h10M1375 1185h10M1465 1192h10M1310 1202h10M1271 1118h10M1407 1172h10M1309 1138h10M1437 1170h10M1377 1178h10M1412 1172h10M1382 1109h10M1397 1182h10M1500 1139h10M1301 1185h10M1490 1069h10M1398 1228h10M1361 1164h10M1463 1232h10M1418 1150h10M1336 1180h10M1454 1113h10M1432 1015h10M1335 1060h10M1294 1235h10M1430 1158h10M1405 1162h10M1442 1163h10M1513 1153h10M1423 1131h10M1279 1087h10M1486 1176h10M1425 1053h10M1339 1190h10M1378 1165h10M1341 1149h10M1290 1142h10M1305 1121h10M1244 1095h10M1349 1208h10M1493 1110h10M1293 1176h10M1365 1106h10M1408 1163h10M1462 1096h10M1427 1050h10M1444 1029h10M1451 1066h10M1394 1209h10M1337 1085h10M1406 1087h10M1325 1142h10M1330 1140h10M1252 1087h10M1404 1089h10M1331 1071h10M1449 1155h10M1365 1137h10M1455 1147h10M1398 1160h10M1422 1115h10M1285 1123h10M1470 1174h10M1456 1109h10M1414 1123h10M1499 1065h10M1362 1120h10M1415 1095h10M1337 1168h10M1495 1143h10M1393 1136h10M1414 1194h10M1330 1166h10M1494 1132h10M1392 1183h10M1351 1053h10M1355 1166h10M1474 1152h10M1390 1114h10M1476 1082h10M1406 1172h10M1297 1165h10M1420 1186h10M1390 1157h10M1371 1140h10M1385 1137h10M1479 1151h10M1418 1056h10M1438 1144h10M1382 1183h10M1364 1151h10M1452 1179h10M1262 1176h10M1344 1070h10M1396 1119h10M1431 1165h10M1367 1128h10M1305 1088h10M1423 1174h10M1424 1115h10M1423 1171h10M1484 1118h10M1439 1121h10M1397 1115h10M1371 1165h10M1470 1065h10M1386 1101h10M1366 1152h10M1404 1148h10M1429 1092h10M1371 1192h10M1443 1195h10M1314 1207h10M1365 1144h10M1309 1213h10M1303 1171h10M1470 1160h10M1520 1066h10M1345 1116h10M1351 1115h10M1366 1178h10M1368 1164h10M1508 1124h10M1340 1118h10M1414 1061h10M1341 1163h10M1464 1047h10M1280 1200h10M1363 1072h10M1363 1145h10M1398 1092h10M1368 1085h10M1346 1111h10M1432 1178h10M1427 1102h10M1417 1129h10M1356 1110h10M1425 1114h10M1454 1187h10M1431 1245h10M1511 1093h10" stroke="#e0892e" stroke-width="10" stroke-opacity="0.7" fill="none"/>
<path transform="scale(.1)" d="M1495 991h10M1423 968h10M1394 1046h10M1426 1020h10M1481 1101h10M1469 995h10M1455 1039h10M1429 1008h10M1457 1054h10M1441 1015h10M1446 947h10M1403 912h10M1470 1035h10M1441 944h10M1485 999h10M1412 1055h10M1428 1026h10M1483 1019h10M1425 1020h10M1487 1017h10M1430 1015h10M1405 1000h10M1435 974h10M1489 991h10M1444 1035h10M1384 1012h10M1450 986h10M1427 963h10M1506 1029h10M1441 1046h10M1422 1077h10M1464 1020h10M1437 980h10M1482 961h10M1496 1045h10M1518 949h10M1412 912h10M1513 996h10M1466 995h10M1450 980h10M1398 982h10M1471 1021h10M1493 1016h10M1450 1085h10M1462 963h10M1482 947h10M1490 1014h10M1409 1023h10M1466 1078h10M1386 990h10M1487 1025h10M1466 1011h10M1448 1071h10M1497 1038h10M1366 1057h10M1449 984h10M1402 1049h10M1440 1012h10M1468 1093h10M1476 998h10M1456 1040h10M1424 1059h10M1447 1122h10M1486 987h10M1442 1042h10M1403 997h10M1447 1074h10M1463 1017h10M1497 1000h10M1438 970h10M1416 1007h10M1454 1018h10M1449 961h10M1432 1037h10M1469 992h10M1466 1037h10M1456 1072h10M1461 986h10M1456 1090h10M1393 973h10M1505 958h10M1444 1060h10M1449 1131h10M1422 1110h10M1483 985h10M1453 965h10M1451 1005h10M1415 1008h10M1407 1010h10M1473 1006h10M1354 992h10M1424 1086h10M1393 1009h10M1430 959h10M1500 995h10M1428 964h10M1471 995h10M1411 1040h10M1415 979h10M1344 1074h10M1457 1009h10M1474 980h10M1414 1064h10M1442 995h10M1434 988h10M1478 994h10M1489 1031h10M1468 1035h10M1447 993h10M1373 990h10M1431 1001h10M1457 1036h10M1490 1049h10M1502 1033h10M1421 1055h10M1427 1003h10M1453 990h10M1460 1064h10M1437 1006h10M1482 1044h10M1465 996h10M1499 958h10M1407 913h10M1424 1040h10M1477 1086h10M1439 1061h10M1468 1097h10M1464 1075h10M1513 1008h10M1420 1047h10M1439 946h10M1466 996h10M1479 1015h10M1515 980h10M1471 969h10M1497 1036h10M1454 1051h10M1416 960h10M1375 1026h10M1439 1012h10M1425 1023h10M1482 1033h10M1486 1009h10M1483 1067h10M1477 1030h10M1389 1116h10M1417 1032h10M1514 1000h10M1431 971h10M1499 955h10M1435 1053h10M1479 1027h10M1436 994h10M1477 990h10M1485 1064h10M1401 994h10M1410 1008h10M1429 1007h10M1459 979h10M1427 979h10M1483 1011h10M1410 1043h10M1456 946h10M1502 970h10M1444 991h10M1474 941h10M1465 984h10M1496 930h10M1489 972h10M1435 989h10M1413 983h10M1383 1007h10M1486 1102h10M1487 1039h10M1444 1011h10M1453 998h10M1511 1032h10M1468 1040h10M1455 1031h10M1403 1063h10M1446 1002h10M1510 1011h10M1483 1042h10M1381 982h10M1510 1014h10M1428 996h10M1393 981h10M1456 972h10M1459 1016h10M1379 1036h10M1387 1068h10M1444 967h10M1486 1077h10M1454 978h10M1502 987h10M1508 971h10M1517 1025h10M1401 1014h10M1427 1048h10M1472 1111h10M1518 1054h10M1406 914h10M1409 1013h10M1475 1043h10M1387 1036h10M1395 1081h10M1470 1015h10M1492 1046h10M1435 1076h10M1515 949h10M1371 962h10M1403 1035h10M1476 1065h10M1423 1092h10M1371 1037h10M1466 1034h10M1422 945h10M1451 1075h10M1484 1053h10M1497 894h10M1464 986h10M1418 1031h10M1438 1041h10M1435 975h10M1488 1014h10M1388 999h10M1438 1012h10M1438 1002h10M1476 975h10M1420 1029h10M1471 939h10M1469 986h10M1477 1028h10M1454 1072h10M1383 1033h10M1490 1077h10M1458 1056h10M1448 989h10M1396 1023h10M1428 1022h10M1441 1069h10M1498 1060h10M1413 1050h10M1490 1025h10M1474 1019h10M1483 1019h10M1418 1029h10M1417 1007h10M1400 989h10M1410 982h10M1427 1063h10M1395 1029h10M1459 1010h10M1403 992h10M1368 960h10M1466 1051h10M1500 987h10M1368 959h10M1498 1073h10M1430 1063h10M1478 1009h10M1484 985h10M1415 1004h10M1426 979h10M1497 1080h10M1434 1023h10M1460 1125h10M1432 1071h10M1469 944h10M1420 1088h10M1392 1088h10M1436 993h10M1406 1038h10M1382 1026h10M1442 1043h10M1423 1037h10M1428 978h10M1490 985h10M1449 1053h10M1402 1080h10M1412 1096h10M1479 1025h10M1459 1015h10M1490 1060h10M1399 1027h10M1505 1048h10M1435 1029h10M1428 1104h10M1452 1032h10M1421 946h10M1505 1031h10M1416 994h10M1433 990h10M1434 1037h10M1390 955h10M1479 1011h10M1513 1008h10M1500 1032h10M1481 964h10M1442 1000h10M1489 983h10M1455 964h10M1424 1015h10M1431 1069h10" stroke="#6a4c9e" stroke-width="10" stroke-opacity="0.75" fill="none"/>
<path transform="scale(.1)" d="M1416 1087h10M1378 1047h10M1455 1097h10M1428 1098h10M1430 1052h10M1366 1115h10M1440 1078h10M1490 1100h10M1380 1105h10M1416 1065h10M1387 1051h10M1460 1130h10M1462 1074h10M1444 1116h10M1392 1104h10M1400 1073h10M1376 1086h10M1498 1056h10M1368 1043h10M1428 1096h10M1422 1078h10M1389 1121h10M1437 1084h10M1417 1107h10M1354 1084h10M1403 1104h10M1422 1098h10M1389 1068h10M1415 1121h10M1366 1068h10M1405 1041h10M1407 1089h10M1383 1106h10M1443 1077h10M1401 1064h10M1454 1088h10M1417 1094h10M1402 1073h10M1430 1104h10M1496 1069h10M1434 1113h10M1405 1084h10M1404 1055h10M1366 1068h10M1403 1021h10M1397 1073h10M1407 1086h10M1430 1077h10M1432 1080h10M1360 1075h10M1438 1058h10M1380 1073h10M1349 1075h10M1467 1082h10M1418 1058h10M1460 1066h10M1393 1067h10M1376 1089h10M1391 1118h10M1443 1081h10M1457 1122h10M1348 1026h10M1415 1074h10M1448 1076h10M1476 1061h10M1462 1098h10M1381 1082h10M1442 1083h10M1338 1024h10M1488 1065h10M1428 1081h10M1376 1079h10M1411 1089h10M1392 1063h10M1403 1073h10M1461 1074h10M1464 1103h10M1420 1043h10M1390 1056h10M1446 1054h10M1407 1041h10M1473 1060h10M1425 1053h10M1380 1081h10M1390 1098h10M1382 1049h10M1445 1092h10M1457 1088h10M1407 1074h10M1423 1093h10M1412 1076h10M1371 1091h10M1429 1067h10M1386 1076h10M1423 1072h10M1428 1070h10M1400 1116h10M1395 1054h10M1429 1077h10M1362 1084h10M1384 1100h10M1434 1061h10M1336 1064h10M1399 1106h10M1429 1073h10M1342 1114h10M1399 1075h10M1421 1059h10M1426 1082h10M1443 1084h10M1324 1042h10M1508 1110h10M1401 1125h10M1396 1095h10M1441 1090h10M1390 1075h10M1437 1073h10M1429 1123h10M1451 1080h10M1393 1105h10M1417 1051h10M1384 1076h10M1440 1038h10M1456 1096h10M1440 1101h10M1396 1095h10M1394 1118h10M1402 1062h10M1372 1032h10M1444 1144h10M1453 1113h10M1427 1101h10M1429 1070h10M1454 1108h10M1404 1098h10M1432 1062h10M1385 1143h10M1432 1099h10M1381 1068h10M1445 1122h10M1421 1057h10M1395 1099h10M1431 1091h10M1369 1072h10" stroke="#a05aa6" stroke-width="10" stroke-opacity="0.7" fill="none"/>
<path transform="scale(.1)" d="M1435 1173h10M1464 1172h10M1475 1185h10M1411 1142h10M1482 1117h10M1447 1123h10M1440 1177h10M1432 1162h10M1440 1136h10M1454 1181h10M1479 1150h10M1507 1154h10M1452 1203h10M1484 1184h10M1456 1178h10M1522 1147h10M1450 1105h10M1445 1169h10M1474 1168h10M1456 1171h10M1475 1146h10M1446 1194h10M1500 1119h10M1462 1187h10M1493 1147h10M1419 1167h10M1458 1148h10M1452 1150h10M1484 1191h10M1446 1203h10M1414 1167h10M1477 1128h10M1516 1190h10M1384 1183h10M1496 1155h10M1446 1195h10M1458 1140h10M1417 1136h10M1494 1123h10M1468 1161h10M1443 1179h10M1386 1198h10M1515 1112h10M1359 1160h10M1492 1134h10M1465 1174h10M1476 1143h10M1355 1150h10M1460 1194h10M1398 1184h10M1462 1154h10M1419 1132h10M1429 1163h10M1413 1174h10M1429 1145h10M1470 1166h10M1470 1137h10M1418 1172h10M1466 1161h10M1405 1167h10M1427 1137h10M1401 1178h10M1451 1166h10M1434 1181h10M1427 1145h10M1481 1168h10M1473 1132h10M1413 1186h10M1468 1159h10M1457 1148h10M1464 1121h10M1483 1174h10M1481 1162h10M1458 1163h10M1469 1161h10M1504 1112h10M1480 1153h10M1470 1158h10M1451 1115h10M1399 1168h10M1424 1171h10M1468 1143h10M1509 1182h10M1461 1185h10M1465 1170h10M1436 1175h10M1436 1158h10M1491 1152h10M1473 1178h10M1412 1171h10M1461 1196h10M1456 1146h10M1495 1174h10M1392 1151h10M1459 1147h10M1477 1172h10M1495 1176h10M1483 1142h10M1420 1132h10M1481 1182h10M1453 1164h10M1425 1175h10M1466 1174h10M1439 1154h10M1486 1159h10M1501 1196h10M1482 1157h10M1485 1163h10M1423 1208h10M1480 1185h10M1498 1158h10M1452 1145h10M1464 1181h10M1445 1122h10M1448 1186h10M1442 1155h10M1451 1157h10M1458 1152h10M1460 1145h10M1454 1164h10M1517 1144h10M1487 1123h10M1412 1183h10M1439 1176h10M1481 1205h10M1436 1132h10M1408 1175h10M1484 1175h10M1479 1177h10M1443 1164h10M1517 1181h10M1459 1160h10M1441 1150h10M1459 1161h10M1486 1160h10M1471 1163h10M1449 1171h10M1450 1106h10M1408 1199h10M1453 1150h10M1421 1167h10M1441 1152h10M1468 1169h10M1511 1142h10M1505 1126h10M1434 1181h10M1489 1148h10M1462 1174h10M1494 1215h10M1516 1170h10M1436 1131h10" stroke="#e0892e" stroke-width="10" stroke-opacity="0.8" fill="none"/>
<path transform="scale(.1)" d="M1398 1242h10M1397 1257h10M1419 1290h10M1469 1219h10M1426 1243h10M1514 1245h10M1474 1298h10M1427 1283h10M1405 1330h10M1444 1383h10M1471 1282h10M1427 1124h10M1484 1282h10M1442 1234h10M1457 1321h10M1404 1292h10M1421 1291h10M1405 1222h10M1446 1349h10M1481 1280h10M1489 1319h10M1491 1321h10M1459 1328h10M1333 1260h10M1483 1204h10M1506 1319h10M1404 1261h10M1383 1343h10M1479 1097h10M1443 1360h10M1433 1254h10M1446 1323h10M1405 1236h10M1325 1271h10M1418 1363h10M1502 1317h10M1420 1411h10M1428 1298h10M1517 1265h10M1422 1317h10M1471 1217h10M1444 1365h10M1483 1330h10M1372 1211h10M1426 1239h10M1453 1256h10M1403 1385h10M1427 1271h10M1427 1325h10M1467 1274h10M1322 1255h10M1427 1232h10M1463 1267h10M1513 1234h10M1412 1264h10M1430 1280h10M1480 1336h10M1459 1300h10M1446 1365h10M1436 1242h10M1467 1336h10M1502 1276h10M1447 1237h10M1426 1333h10M1500 1360h10M1455 1276h10M1441 1371h10M1340 1351h10M1433 1373h10M1462 1295h10M1485 1329h10M1442 1209h10M1401 1327h10M1419 1341h10M1467 1312h10M1486 1281h10M1434 1260h10M1517 1313h10M1423 1319h10M1454 1303h10M1447 1259h10M1424 1115h10M1460 1271h10M1489 1264h10M1398 1225h10M1476 1387h10M1388 1332h10M1486 1285h10M1417 1318h10M1397 1295h10M1488 1246h10M1419 1246h10M1395 1203h10M1361 1194h10M1439 1300h10M1457 1323h10M1395 1308h10M1403 1265h10M1425 1246h10M1513 1286h10M1452 1287h10M1440 1304h10M1422 1319h10M1460 1299h10M1302 1267h10M1439 1374h10M1455 1311h10M1489 1317h10M1426 1219h10M1499 1312h10M1398 1321h10M1435 1358h10M1432 1289h10M1448 1243h10M1436 1294h10M1425 1255h10M1429 1301h10M1494 1335h10M1405 1263h10M1516 1234h10M1449 1271h10M1455 1280h10M1398 1300h10M1446 1347h10M1386 1229h10M1472 1323h10M1490 1323h10M1480 1216h10M1470 1252h10M1485 1314h10M1518 1360h10M1467 1287h10M1436 1277h10M1401 1301h10M1441 1319h10M1393 1248h10M1438 1333h10M1435 1328h10M1438 1288h10M1484 1247h10M1393 1237h10M1387 1293h10M1481 1322h10M1436 1348h10M1491 1224h10M1444 1189h10M1483 1318h10M1429 1313h10M1449 1371h10M1462 1328h10M1440 1173h10M1427 1351h10M1491 1185h10M1460 1263h10M1422 1267h10M1394 1310h10M1431 1339h10M1420 1339h10M1430 1282h10M1494 1353h10M1435 1347h10M1493 1213h10M1444 1375h10M1460 1181h10M1383 1167h10M1426 1254h10M1482 1394h10M1433 1297h10M1486 1298h10M1471 1285h10M1474 1337h10M1433 1212h10M1451 1212h10M1432 1291h10M1480 1354h10M1471 1351h10M1407 1254h10M1444 1284h10M1441 1244h10M1497 1287h10M1429 1291h10M1452 1307h10M1483 1198h10M1420 1206h10M1461 1314h10M1333 1229h10M1488 1308h10M1434 1282h10M1337 1363h10M1367 1235h10M1489 1367h10M1502 1313h10M1441 1358h10M1493 1350h10M1411 1321h10M1319 1350h10M1383 1278h10M1452 1228h10M1451 1373h10M1434 1334h10M1401 1295h10M1449 1284h10M1426 1350h10M1427 1240h10M1461 1216h10M1475 1255h10M1444 1296h10M1437 1288h10M1505 1255h10M1414 1339h10M1500 1247h10M1482 1203h10M1422 1271h10M1455 1329h10M1442 1331h10M1503 1259h10M1387 1280h10M1414 1293h10M1431 1326h10M1425 1394h10M1499 1222h10M1438 1369h10M1405 1258h10M1455 1210h10M1478 1213h10M1464 1275h10M1445 1336h10M1424 1369h10M1434 1221h10M1454 1371h10M1356 1310h10M1484 1363h10M1480 1376h10M1422 1275h10M1419 1185h10M1404 1286h10M1521 1241h10M1475 1241h10M1421 1239h10M1455 1362h10M1435 1292h10M1474 1316h10M1371 1330h10M1459 1300h10M1497 1315h10M1446 1330h10M1356 1262h10M1462 1312h10M1374 1294h10M1500 1256h10M1318 1353h10M1482 1258h10M1408 1293h10M1425 1242h10M1503 1258h10M1407 1300h10M1413 1346h10M1407 1223h10M1432 1305h10M1416 1327h10M1452 1259h10M1414 1242h10M1482 1267h10M1407 1313h10M1412 1384h10M1432 1367h10M1410 1254h10M1453 1315h10M1356 1209h10M1479 1319h10M1438 1300h10M1482 1345h10M1415 1235h10M1436 1346h10M1414 1319h10M1447 1298h10M1457 1273h10M1438 1265h10M1451 1323h10M1481 1238h10M1478 1207h10M1503 1330h10M1424 1310h10M1397 1277h10M1455 1311h10M1401 1383h10M1421 1242h10M1463 1313h10M1364 1255h10M1351 1250h10M1379 1302h10M1481 1270h10M1427 1318h10M1504 1337h10M1511 1245h10M1371 1352h10M1466 1341h10M1517 1310h10M1445 1262h10M1402 1292h10M1305 1270h10M1416 1321h10M1485 1228h10M1489 1247h10M1480 1316h10M1375 1297h10M1419 1276h10M1409 1382h10M1483 1222h10M1472 1303h10M1480 1356h10M1495 1294h10M1341 1183h10M1328 1190h10M1515 1253h10M1445 1169h10M1436 1264h10M1413 1316h10M1428 1184h10M1482 1244h10M1432 1222h10M1453 1247h10M1446 1268h10M1410 1395h10M1427 1260h10M1485 1297h10M1420 1331h10M1412 1357h10M1421 1317h10M1390 1353h10M1423 1266h10M1503 1305h10M1465 1326h10M1435 1272h10M1440 1199h10M1374 1373h10M1437 1287h10M1467 1366h10M1430 1235h10M1443 1223h10M1394 1318h10M1424 1301h10M1422 1230h10M1390 1378h10M1446 1282h10M1445 1389h10M1420 1359h10M1369 1326h10M1368 1316h10M1442 1334h10M1445 1247h10M1427 1379h10M1486 1368h10M1400 1180h10M1417 1236h10M1465 1251h10M1422 1297h10M1437 1292h10M1459 1226h10M1445 1293h10M1433 1361h10M1396 1313h10M1459 1283h10M1486 1289h10M1387 1310h10M1430 1251h10M1471 1336h10M1404 1264h10M1398 1314h10M1480 1306h10M1430 1242h10M1417 1212h10M1402 1368h10M1375 1294h10M1442 1221h10M1368 1324h10M1464 1273h10M1519 1251h10M1449 1351h10M1403 1219h10M1429 1318h10M1444 1353h10M1488 1261h10M1451 1314h10M1458 1369h10M1490 1280h10M1419 1250h10M1456 1300h10M1498 1397h10M1498 1231h10M1450 1316h10M1395 1254h10M1429 1251h10M1422 1328h10M1494 1295h10M1460 1285h10M1457 1322h10M1473 1262h10M1390 1236h10M1426 1299h10M1471 1394h10M1516 1274h10M1415 1369h10M1481 1294h10M1453 1187h10M1444 1214h10M1512 1237h10M1443 1229h10M1444 1260h10M1445 1213h10M1433 1242h10M1464 1311h10M1418 1369h10M1425 1252h10M1366 1235h10M1432 1211h10M1505 1234h10M1390 1297h10M1421 1285h10M1467 1283h10M1521 1209h10M1395 1283h10M1441 1315h10M1519 1297h10M1417 1234h10M1445 1340h10M1344 1310h10M1408 1231h10M1511 1238h10M1473 1301h10M1450 1309h10M1472 1236h10M1386 1284h10M1453 1213h10M1388 1270h10M1446 1261h10M1479 1391h10M1419 1166h10M1470 1322h10M1371 1372h10M1457 1341h10M1490 1238h10M1376 1280h10M1430 1311h10M1361 1232h10M1472 1277h10M1449 1320h10M1462 1300h10M1404 1377h10M1444 1201h10M1459 1233h10M1395 1300h10M1454 1280h10M1471 1287h10M1455 1353h10M1491 1333h10M1505 1243h10M1440 1273h10M1480 1373h10M1463 1235h10M1416 1283h10M1373 1340h10M1401 1256h10M1415 1317h10M1436 1292h10M1402 1291h10M1489 1311h10M1494 1272h10M1417 1295h10M1400 1333h10M1504 1282h10M1458 1171h10M1373 1275h10M1425 1306h10M1472 1296h10M1374 1227h10M1440 1278h10M1490 1241h10M1484 1365h10M1382 1217h10M1514 1268h10M1503 1386h10M1487 1347h10M1418 1303h10M1515 1251h10M1405 1340h10M1464 1249h10M1475 1231h10M1455 1299h10M1521 1221h10M1378 1242h10M1374 1247h10M1451 1262h10M1457 1302h10M1490 1292h10M1357 1355h10M1459 1286h10M1395 1304h10M1419 1208h10M1487 1294h10M1457 1287h10M1517 1198h10M1481 1249h10M1505 1268h10M1468 1369h10M1424 1294h10M1441 1352h10M1457 1353h10M1444 1305h10M1311 1325h10M1419 1340h10M1453 1303h10M1409 1223h10M1479 1224h10M1490 1322h10M1470 1260h10M1410 1211h10M1454 1257h10M1510 1307h10M1464 1287h10M1395 1276h10M1454 1238h10M1459 1193h10M1459 1283h10M1456 1261h10M1434 1265h10M1386 1399h10M1442 1175h10M1504 1272h10M1421 1257h10M1439 1252h10M1504 1295h10M1436 1248h10M1491 1205h10M1376 1292h10M1387 1341h10M1460 1224h10M1421 1337h10M1423 1174h10M1423 1264h10M1419 1321h10M1408 1289h10M1447 1324h10M1470 1237h10M1423 1263h10M1380 1263h10M1447 1299h10M1442 1351h10M1386 1267h10M1468 1303h10M1419 1300h10M1473 1320h10M1458 1240h10M1479 1290h10M1515 1255h10M1483 1351h10M1373 1318h10M1423 1354h10M1396 1403h10M1519 1326h10M1402 1299h10M1430 1263h10M1447 1223h10M1392 1287h10M1509 1289h10M1466 1159h10M1500 1326h10M1388 1231h10M1489 1246h10M1428 1306h10M1406 1233h10M1472 1258h10M1415 1287h10M1389 1285h10M1453 1348h10M1431 1168h10M1478 1213h10M1402 1244h10M1404 1270h10M1478 1312h10M1384 1325h10M1402 1344h10M1447 1317h10M1478 1325h10M1437 1260h10M1459 1190h10M1447 1206h10M1354 1281h10M1430 1370h10M1428 1270h10M1347 1259h10M1360 1262h10M1405 1251h10M1415 1259h10M1430 1302h10M1454 1216h10M1410 1279h10M1447 1362h10M1431 1396h10M1475 1301h10M1423 1225h10M1378 1332h10M1311 1295h10M1452 1329h10M1467 1312h10M1360 1224h10M1378 1376h10M1340 1226h10M1394 1371h10M1373 1203h10M1321 1214h10M1372 1375h10M1377 1375h10M1397 1297h10M1371 1340h10M1302 1220h10M1452 1273h10M1322 1353h10M1362 1308h10M1330 1239h10M1323 1328h10M1450 1225h10M1387 1376h10M1440 1330h10M1337 1258h10M1459 1230h10M1453 1269h10M1383 1201h10M1364 1223h10M1319 1352h10M1514 1361h10M1368 1374h10M1503 1249h10M1467 1222h10M1394 1296h10M1367 1282h10M1385 1325h10M1403 1317h10M1378 1355h10M1325 1267h10M1435 1367h10M1334 1208h10M1331 1272h10M1428 1352h10M1367 1290h10M1309 1332h10M1446 1352h10M1309 1229h10M1484 1236h10M1480 1205h10M1322 1312h10M1480 1239h10M1492 1286h10M1333 1220h10M1326 1332h10" stroke="#7cb146" stroke-width="10" stroke-opacity="0.75" fill="none"/>
<path transform="scale(.1)" d="M1200 1791h7M1295 1953h7M1263 1871h7M1225 1733h7M1073 1716h7M1302 1966h7M1289 1697h7M1316 1876h7M1307 1960h7M1340 1808h7M1149 1968h7M1246 1881h7M1295 1821h7M1182 1943h7M1250 1969h7M1320 1685h7M1239 1818h7M1308 1675h7M1241 1679h7M1333 1888h7M1218 1717h7M1144 1755h7M1251 1702h7M1101 1802h7M1069 1871h7M1206 1699h7M1226 1713h7M1207 1737h7M1157 1909h7M1342 1661h7M1336 1938h7M1182 1831h7M1116 1706h7M1345 1935h7M1120 1856h7M1237 1761h7M1185 1660h7M1185 1804h7M1183 1811h7M1063 1776h7M1184 1675h7" stroke="#e07a68" stroke-width="7" stroke-opacity="0.4" fill="none"/>
<path transform="scale(.1)" d="M1134 1915h7M1046 1828h7M1241 1829h7M1301 1753h7M1364 1876h7M1070 1778h7M1300 1887h7M1136 1955h7M1202 1955h7M1098 1794h7M1311 1877h7M1267 1793h7M1290 1724h7M1297 1736h7M1273 1945h7M1142 1946h7M1328 1721h7M1376 1855h7M1315 1856h7M1267 1865h7M1253 1859h7M1284 1745h7M1300 1917h7M1346 1828h7M1126 1893h7M1166 1953h7M1362 1825h7M1372 1917h7M1176 1860h7M1134 1907h7M1200 1926h7M1127 1709h7M1103 1902h7M1217 1803h7M1294 1911h7M1273 1738h7M1135 1704h7M1117 1941h7M1236 1719h7M1276 1857h7M1339 1771h7M1203 1953h7M1261 1809h7M1149 1820h7M1226 1955h7" stroke="#a9cb8c" stroke-width="7" stroke-opacity="0.5" fill="none"/>
<path transform="scale(.1)" d="M1203 1630h7M1125 1664h7M1179 1707h7M1289 1762h7M1031 1658h7M1298 1591h7M1223 1688h7M1160 1626h7M1267 1573h7M1175 1618h7M1270 1621h7M1388 1675h7M1317 1626h7M1339 1648h7M1192 1669h7M1234 1618h7M1289 1706h7M1103 1712h7M1235 1664h7M1124 1628h7M1095 1620h7M1238 1654h7M1190 1739h7M1267 1745h7M1140 1703h7M1199 1611h7M1266 1597h7M1226 1704h7M1437 1774h7M1233 1642h7M1162 1682h7M1309 1690h7M1210 1658h7M1186 1647h7M1271 1625h7M1209 1633h7M1199 1632h7M1107 1697h7M1183 1664h7M1289 1665h7M1379 1653h7M1235 1673h7M1182 1634h7M1196 1596h7M1148 1641h7M1044 1703h7M1187 1599h7M1279 1730h7M1146 1689h7M1241 1683h7M1191 1620h7M1167 1691h7M1296 1693h7M1097 1695h7M1203 1657h7M1184 1673h7M1205 1750h7M1035 1592h7M1251 1665h7M1170 1702h7M1390 1669h7M1199 1673h7M1219 1674h7M1296 1679h7M1382 1642h7M1227 1593h7M1214 1663h7M1266 1597h7M1235 1741h7M1295 1648h7M1155 1669h7M1295 1657h7M1231 1691h7M1336 1721h7M1138 1737h7M1154 1696h7M1221 1692h7M1371 1668h7M1189 1595h7M1182 1693h7M1230 1602h7M1333 1592h7M1130 1748h7M1155 1590h7M1277 1619h7M1201 1675h7M1464 1654h7M1278 1674h7M1105 1606h7M1200 1608h7M1302 1663h7M1277 1645h7M1231 1648h7M1155 1621h7M1207 1653h7M1136 1664h7M1220 1685h7M1007 1662h7M1084 1621h7M1252 1659h7M1083 1599h7M1380 1645h7M1282 1709h7M1201 1746h7M1174 1667h7M1171 1681h7M1235 1653h7M1246 1700h7M1293 1683h7M1128 1659h7M1068 1645h7M1135 1596h7M1290 1704h7M1294 1651h7M1320 1643h7M1193 1686h7M1334 1600h7M1351 1686h7M1285 1673h7M1052 1727h7M1204 1605h7M1079 1629h7M1310 1721h7M1167 1724h7M1153 1692h7M1140 1705h7M1135 1661h7M1270 1622h7M1163 1700h7M1255 1692h7M1209 1649h7M1146 1713h7M1232 1757h7M1349 1680h7M1277 1661h7M1351 1668h7M1155 1663h7M1238 1564h7M1154 1690h7M1286 1605h7M1286 1650h7M1325 1683h7M1224 1615h7M1392 1687h7M1254 1672h7M1196 1684h7M1268 1700h7M1323 1629h7" stroke="#e07a68" stroke-width="7" stroke-opacity="0.45" fill="none"/>
<path transform="scale(.1)" d="M1039 1597h8M1317 1495h8M1275 1472h8M1343 1581h8M1282 1514h8M1172 1598h8M1045 1503h8M1342 1557h8M1150 1494h8M1381 1610h8M1291 1616h8M1351 1627h8M1187 1493h8M1341 1481h8M1158 1594h8M1084 1477h8M1069 1495h8M1187 1525h8M1421 1544h8M1203 1594h8M1206 1568h8M1245 1558h8M1208 1593h8M1376 1487h8M1206 1557h8M1224 1529h8M1313 1539h8M1308 1524h8M1238 1506h8M1085 1480h8M1316 1545h8M1076 1594h8M1074 1579h8M1102 1534h8M1330 1500h8M1453 1544h8M1106 1627h8M1106 1604h8M1275 1535h8M1029 1479h8M1092 1555h8M1268 1565h8M1426 1587h8M1023 1494h8M1235 1472h8M1322 1610h8M1152 1600h8M1068 1542h8M1349 1616h8M1172 1504h8M1375 1621h8M1149 1539h8M1162 1588h8M1095 1604h8M1184 1525h8M1041 1608h8M1184 1505h8M1430 1542h8M1165 1476h8M1251 1530h8M1443 1623h8M1076 1483h8M1077 1556h8M1180 1562h8M1196 1566h8M1292 1541h8M1449 1575h8M1113 1574h8M1398 1521h8M1233 1522h8M1371 1580h8M1186 1548h8M1163 1517h8M1287 1565h8M1120 1606h8M1027 1498h8M1046 1554h8M1127 1533h8M1088 1487h8M1010 1472h8M1098 1567h8M1050 1499h8M1266 1630h8M1075 1515h8M1443 1549h8M1382 1585h8M1110 1566h8M1174 1540h8M1346 1587h8M1118 1628h8M1027 1504h8M1453 1529h8M1139 1507h8M1320 1606h8M1024 1605h8M1305 1487h8M1348 1499h8M1383 1550h8M1171 1612h8M1437 1481h8M1260 1629h8M1376 1572h8M1020 1483h8M1098 1517h8M1150 1577h8M1263 1498h8M1111 1555h8M1085 1516h8M1061 1500h8M1179 1569h8M1270 1531h8M1457 1618h8M1126 1622h8M1146 1501h8M1446 1520h8M1431 1567h8M1342 1499h8M1198 1488h8M1255 1523h8M1429 1573h8M1296 1616h8M1232 1592h8M1015 1560h8M1336 1622h8M1205 1505h8M1144 1475h8M1094 1512h8M1367 1478h8M1297 1577h8M1276 1625h8M1379 1568h8M1222 1578h8M1185 1617h8M1386 1574h8M1108 1541h8M1127 1510h8M1440 1568h8M1078 1539h8M1097 1527h8M1101 1540h8M1153 1512h8M1147 1569h8M1056 1514h8M1132 1560h8M1013 1540h8M1071 1481h8M1090 1589h8M1059 1587h8M1218 1474h8M1093 1546h8M1093 1491h8M1046 1546h8M1088 1477h8M1063 1562h8M1020 1524h8M1103 1489h8M1162 1556h8M1105 1563h8M1037 1513h8M1080 1496h8M1031 1523h8M1148 1545h8M1116 1512h8M1152 1541h8M1088 1490h8M1151 1472h8M1052 1553h8M1135 1525h8M1062 1535h8M1140 1469h8M1014 1540h8M1162 1561h8M1194 1569h8M1054 1493h8M1039 1486h8M1181 1511h8M1072 1569h8M1091 1553h8M1055 1505h8M1080 1545h8M1047 1508h8M1168 1535h8M1084 1553h8M1155 1554h8M1084 1535h8M1028 1522h8M1175 1524h8M1197 1536h8M1073 1515h8M1051 1478h8M1096 1535h8M1069 1465h8M1036 1504h8M1142 1552h8M1174 1559h8M1070 1534h8M1099 1505h8M1063 1503h8M1066 1515h8M1090 1506h8M1169 1504h8M1140 1550h8M1018 1494h8M1151 1523h8M1117 1522h8M1048 1533h8M1134 1488h8M1095 1552h8M1076 1528h8M1017 1558h8M1100 1524h8M1152 1502h8M1115 1485h8M1155 1498h8M1132 1534h8M1095 1547h8M1041 1505h8M1127 1490h8M1127 1496h8M1115 1547h8M1136 1513h8M1153 1558h8M1113 1526h8M1073 1547h8M1121 1503h8M1093 1493h8M1096 1498h8M1199 1512h8M1126 1546h8M1036 1493h8M1025 1514h8M1114 1562h8M1019 1508h8M1074 1582h8M1030 1477h8M1078 1564h8M1068 1528h8M1121 1562h8M1093 1498h8M1191 1498h8M1062 1527h8M1135 1491h8M1033 1474h8M1144 1521h8M1119 1526h8M1090 1506h8M1111 1507h8M1117 1575h8M1015 1540h8M1051 1529h8M1037 1546h8M1081 1524h8M1111 1524h8M1124 1589h8M1166 1553h8M1057 1477h8M1111 1538h8M1044 1536h8M1021 1510h8M1058 1531h8M1073 1472h8M1062 1535h8M1050 1508h8M1077 1473h8M1109 1492h8M1166 1528h8M999 1524h8M1082 1506h8M1036 1521h8M1078 1540h8M1188 1554h8M1076 1569h8M1001 1510h8M1106 1590h8M1186 1505h8M1054 1563h8M1090 1518h8M1099 1580h8M1018 1509h8M1145 1494h8M1135 1513h8M1071 1541h8M1155 1513h8M1039 1501h8M1136 1588h8M1242 1481h8M1195 1567h8M1072 1552h8M1086 1533h8M1072 1515h8M1105 1576h8M1109 1516h8M1075 1493h8M1116 1476h8M1101 1459h8M1178 1517h8M1063 1522h8M1354 1550h8M1347 1513h8M1201 1507h8M1339 1503h8M1378 1599h8M1062 1533h8M1412 1526h8M1053 1487h8M1070 1527h8M1175 1575h8M1357 1572h8M1179 1546h8M1368 1573h8M1160 1571h8M1278 1534h8M1169 1580h8M1109 1526h8M1028 1484h8M1150 1537h8M1347 1554h8M1122 1530h8M1090 1481h8M1025 1519h8M1317 1574h8M1343 1549h8M1309 1563h8M1123 1533h8M1171 1498h8M1082 1530h8M1276 1516h8M1055 1521h8M1155 1517h8M1035 1509h8M1022 1514h8M1078 1521h8M1061 1510h8M1078 1567h8M1286 1529h8M1047 1537h8M1344 1586h8M1216 1523h8M1091 1505h8M1124 1527h8M1022 1509h8M1217 1532h8M1336 1563h8M1359 1540h8M1329 1525h8M1065 1543h8M1330 1533h8M1284 1555h8M1310 1566h8M1325 1513h8M1349 1499h8M1312 1580h8M1398 1542h8M1082 1477h8M1095 1547h8M1260 1522h8M1393 1564h8M1317 1556h8M1341 1531h8M1131 1528h8M1207 1503h8M1145 1523h8M1051 1514h8M1253 1513h8M1418 1580h8M1250 1581h8M1138 1563h8M1171 1515h8M1392 1563h8M1151 1567h8M1344 1570h8M1136 1489h8M1053 1493h8M1378 1561h8M1029 1507h8M1199 1512h8M1295 1554h8M1339 1496h8M1124 1540h8M1175 1497h8M1201 1522h8M1129 1510h8M1354 1538h8M1217 1565h8M1231 1550h8M1163 1497h8M1070 1567h8M1200 1532h8M1235 1567h8M1072 1509h8M1394 1529h8M1022 1523h8M1216 1486h8M1364 1588h8M1182 1499h8M1269 1584h8M1074 1504h8M1183 1537h8M1238 1513h8M1232 1519h8M1032 1533h8M1412 1540h8M1185 1493h8M1226 1574h8M1194 1524h8M1267 1538h8M1119 1535h8M1372 1528h8M1175 1546h8M1231 1561h8M1313 1574h8M1182 1533h8M1218 1530h8M1384 1540h8M1289 1492h8M1251 1514h8M1306 1552h8M1283 1536h8M1135 1504h8M1233 1526h8M1227 1551h8M1189 1510h8M1161 1524h8M1219 1504h8M1108 1525h8M1109 1468h8M1405 1552h8M1182 1494h8M1096 1501h8M1233 1529h8M1345 1528h8M1060 1544h8M1238 1515h8M1372 1544h8M1300 1566h8M1262 1537h8M1183 1543h8M1130 1535h8M1100 1533h8M1262 1538h8M1070 1535h8M1054 1517h8M1310 1549h8M1045 1561h8M1218 1488h8M1180 1540h8M1225 1536h8M1271 1503h8M1329 1603h8M1189 1594h8M1234 1517h8M1089 1538h8M1286 1572h8M1402 1511h8M1287 1574h8M1030 1506h8M1100 1547h8M1229 1518h8M1081 1525h8M1371 1557h8M1080 1508h8M1144 1595h8M1106 1558h8M1303 1551h8M1058 1493h8M1392 1575h8M1239 1551h8M1036 1500h8M1201 1511h8M1167 1557h8M1212 1543h8M1240 1557h8M1131 1538h8M1348 1540h8M1289 1615h8M1198 1568h8M1244 1567h8M1273 1582h8M1041 1492h8M1076 1536h8M1062 1531h8M1031 1507h8M1414 1543h8M1226 1563h8M1301 1547h8M1266 1588h8M1193 1468h8M1144 1558h8M1157 1530h8M1406 1608h8M1332 1518h8M1092 1556h8M1269 1537h8M1247 1542h8M1232 1537h8M1394 1571h8M1096 1524h8M1325 1541h8M1084 1526h8M1248 1510h8M1387 1560h8M1141 1490h8" stroke="#d4473a" stroke-width="8" stroke-opacity="0.5" fill="none"/>
<path transform="scale(.1)" d="M1418 1563h10M1405 1563h10M1417 1568h10M1404 1586h10M1402 1550h10M1422 1564h10M1455 1540h10M1445 1553h10M1426 1578h10M1482 1584h10M1452 1582h10M1452 1569h10M1464 1606h10M1388 1572h10M1426 1557h10M1432 1553h10M1397 1575h10M1435 1561h10M1412 1568h10M1421 1576h10M1415 1577h10M1408 1519h10M1460 1598h10M1419 1543h10M1406 1578h10M1471 1532h10M1461 1568h10M1449 1549h10M1496 1571h10M1385 1582h10M1410 1606h10M1410 1578h10M1308 1541h10M1389 1558h10M1476 1530h10M1432 1556h10M1383 1573h10M1399 1540h10M1387 1543h10M1434 1571h10M1477 1491h10M1500 1549h10M1405 1568h10M1378 1566h10M1470 1544h10M1403 1579h10M1473 1578h10M1470 1564h10M1372 1571h10M1422 1534h10M1477 1543h10M1454 1520h10M1450 1538h10M1449 1564h10M1407 1526h10M1399 1580h10M1479 1536h10M1470 1586h10M1464 1558h10M1417 1541h10M1402 1551h10M1420 1555h10M1405 1602h10M1410 1559h10M1445 1543h10M1380 1555h10M1413 1552h10M1425 1542h10M1418 1535h10M1472 1564h10M1347 1561h10M1370 1559h10M1442 1548h10M1423 1545h10M1496 1547h10M1497 1529h10M1479 1568h10M1389 1568h10M1378 1548h10M1455 1562h10M1381 1555h10M1487 1507h10M1437 1592h10M1447 1529h10M1381 1586h10M1455 1543h10M1366 1583h10M1416 1549h10M1481 1522h10M1418 1586h10M1436 1600h10M1427 1537h10M1382 1592h10M1437 1575h10M1445 1532h10M1369 1586h10M1380 1572h10M1465 1579h10M1420 1587h10M1409 1533h10M1473 1531h10M1404 1536h10M1332 1561h10M1418 1580h10M1426 1567h10M1422 1575h10M1396 1571h10M1342 1590h10M1433 1535h10M1461 1577h10M1489 1551h10M1433 1558h10M1440 1547h10M1449 1550h10M1429 1570h10M1465 1547h10M1507 1581h10M1370 1574h10M1441 1546h10M1380 1585h10M1384 1554h10M1481 1560h10M1420 1549h10M1413 1557h10M1441 1528h10M1381 1555h10M1422 1580h10M1467 1568h10M1410 1551h10M1418 1527h10M1355 1575h10M1385 1575h10M1355 1594h10M1388 1621h10M1472 1568h10M1468 1529h10M1379 1561h10M1424 1557h10M1336 1613h10M1371 1569h10M1402 1605h10M1382 1552h10M1377 1570h10M1445 1533h10M1431 1543h10M1426 1577h10M1353 1558h10M1428 1544h10M1414 1611h10M1471 1501h10M1444 1542h10M1441 1537h10M1420 1578h10M1454 1562h10M1357 1621h10M1392 1568h10M1431 1546h10M1398 1577h10M1408 1536h10M1500 1562h10M1412 1566h10M1439 1519h10M1403 1523h10M1437 1520h10M1397 1597h10M1421 1574h10M1419 1553h10M1410 1599h10M1444 1571h10M1383 1599h10M1369 1590h10M1448 1563h10M1427 1563h10M1472 1532h10M1469 1545h10M1416 1536h10" stroke="#d4473a" stroke-width="10" stroke-opacity="0.85" fill="none"/>
<path transform="scale(.1)" d="M1248 1661h10M1269 1730h10M1284 1731h10M1317 1690h10M1367 1705h10M1358 1701h10M1273 1613h10M1311 1708h10M1397 1713h10M1283 1666h10M1271 1706h10M1256 1671h10M1336 1716h10M1332 1709h10M1312 1705h10M1379 1679h10M1290 1625h10M1279 1641h10M1323 1709h10M1264 1688h10M1252 1650h10M1325 1692h10M1295 1706h10M1381 1650h10M1248 1760h10M1305 1681h10M1258 1741h10M1388 1716h10M1261 1709h10M1424 1685h10M1282 1687h10M1336 1687h10M1267 1781h10M1358 1660h10M1288 1737h10M1323 1735h10M1443 1665h10M1337 1653h10M1314 1671h10M1470 1639h10M1378 1664h10M1289 1692h10M1327 1702h10M1313 1707h10M1322 1717h10M1250 1674h10M1383 1671h10M1348 1679h10M1286 1709h10M1326 1696h10M1318 1691h10M1304 1693h10M1267 1699h10M1344 1803h10M1244 1680h10M1302 1738h10M1333 1648h10M1389 1663h10M1311 1649h10M1345 1680h10M1338 1686h10M1314 1675h10M1305 1689h10M1278 1705h10M1371 1699h10M1366 1703h10M1316 1638h10M1280 1662h10M1354 1674h10M1342 1700h10M1260 1681h10M1281 1668h10M1331 1673h10M1306 1711h10M1305 1661h10M1348 1719h10M1347 1708h10M1381 1699h10M1263 1704h10M1313 1684h10M1374 1716h10M1407 1762h10M1226 1691h10M1281 1717h10M1286 1680h10M1327 1679h10M1382 1731h10M1277 1689h10M1431 1667h10M1263 1730h10M1318 1675h10M1215 1710h10M1387 1676h10M1369 1717h10M1345 1657h10M1345 1655h10M1321 1678h10M1259 1787h10M1332 1700h10M1353 1671h10M1319 1730h10M1381 1648h10M1288 1726h10M1291 1698h10M1415 1662h10M1367 1713h10M1277 1684h10M1362 1662h10M1317 1704h10M1400 1680h10M1368 1736h10M1294 1679h10M1296 1659h10M1295 1708h10M1392 1701h10M1291 1708h10M1322 1656h10M1234 1683h10M1335 1758h10M1413 1698h10M1322 1659h10M1402 1675h10M1221 1706h10M1271 1711h10M1341 1689h10M1376 1684h10M1371 1669h10M1288 1677h10M1430 1646h10M1300 1715h10M1360 1653h10M1380 1674h10M1287 1670h10M1356 1679h10M1198 1679h10M1283 1698h10M1308 1760h10M1273 1664h10M1320 1699h10M1304 1676h10M1292 1721h10M1303 1734h10M1363 1682h10M1365 1671h10M1352 1662h10M1219 1690h10M1330 1719h10M1360 1679h10M1223 1644h10M1315 1671h10M1326 1727h10M1353 1658h10M1389 1668h10M1310 1697h10M1311 1712h10M1271 1696h10M1384 1695h10M1259 1660h10M1338 1621h10M1357 1682h10" stroke="#e0892e" stroke-width="10" stroke-opacity="0.55" fill="none"/>
<path transform="scale(.1)" d="M1454 1591h10M1463 1618h10M1445 1690h10M1468 1600h10M1458 1618h10M1446 1606h10M1442 1630h10M1499 1625h10M1443 1613h10M1485 1618h10M1424 1639h10M1454 1609h10M1436 1624h10M1426 1638h10M1463 1615h10M1453 1602h10M1439 1642h10M1475 1614h10M1366 1598h10M1488 1613h10M1467 1596h10M1435 1622h10M1496 1562h10M1513 1644h10M1419 1618h10M1444 1608h10M1477 1683h10M1453 1717h10M1459 1599h10M1409 1647h10M1469 1616h10M1457 1566h10M1464 1607h10M1463 1608h10M1408 1594h10M1482 1584h10M1466 1641h10M1444 1611h10M1468 1596h10M1448 1565h10M1436 1576h10M1429 1654h10M1490 1630h10M1413 1605h10M1437 1671h10M1478 1625h10M1492 1655h10M1444 1645h10M1470 1567h10M1488 1564h10M1417 1613h10M1459 1558h10M1428 1649h10M1506 1619h10M1429 1641h10M1484 1606h10M1443 1601h10M1397 1571h10M1472 1619h10M1385 1592h10M1513 1655h10M1460 1637h10M1457 1602h10M1417 1651h10M1488 1621h10M1453 1624h10M1459 1630h10M1432 1603h10M1499 1593h10M1430 1588h10M1483 1645h10M1463 1667h10M1485 1597h10M1477 1567h10M1434 1638h10M1465 1632h10M1420 1660h10M1443 1597h10M1446 1605h10M1415 1582h10M1478 1605h10M1444 1640h10M1475 1635h10M1387 1595h10M1471 1630h10M1464 1644h10M1387 1591h10M1484 1650h10M1441 1595h10M1436 1584h10M1493 1584h10M1417 1604h10M1450 1635h10M1461 1617h10M1485 1637h10M1491 1520h10M1442 1611h10M1422 1578h10M1421 1549h10M1463 1586h10M1467 1630h10M1442 1634h10M1385 1610h10M1456 1573h10M1490 1641h10M1445 1629h10M1491 1648h10M1480 1583h10M1472 1569h10M1514 1669h10M1454 1660h10M1463 1588h10M1462 1601h10M1498 1581h10M1469 1613h10M1415 1616h10M1422 1579h10M1429 1610h10M1519 1624h10M1408 1587h10M1413 1506h10M1487 1605h10M1462 1665h10M1422 1578h10M1457 1588h10M1428 1616h10M1465 1631h10M1510 1566h10M1455 1637h10M1465 1618h10M1488 1562h10M1464 1582h10M1474 1659h10M1484 1576h10M1439 1619h10M1499 1604h10M1461 1625h10M1444 1620h10M1511 1577h10M1410 1571h10M1454 1624h10M1484 1545h10M1497 1656h10M1475 1575h10M1494 1593h10M1431 1666h10M1450 1624h10M1443 1566h10M1511 1582h10M1420 1540h10M1478 1599h10M1498 1602h10M1459 1612h10M1400 1574h10M1422 1645h10M1519 1636h10M1452 1560h10M1474 1566h10M1407 1658h10M1496 1586h10M1456 1632h10M1485 1622h10M1478 1612h10M1425 1627h10M1433 1628h10M1436 1626h10M1467 1636h10M1459 1624h10M1424 1584h10M1479 1605h10M1472 1623h10M1341 1611h10M1471 1598h10M1509 1615h10M1452 1608h10M1510 1591h10M1471 1626h10M1476 1629h10M1481 1638h10M1458 1614h10M1496 1594h10M1443 1619h10M1487 1591h10M1416 1629h10M1462 1627h10M1506 1571h10M1443 1617h10M1429 1674h10M1464 1518h10M1392 1582h10M1448 1595h10M1462 1609h10M1440 1620h10M1460 1609h10M1467 1577h10M1416 1615h10M1460 1652h10M1477 1664h10M1494 1673h10M1456 1598h10M1458 1616h10M1405 1602h10M1458 1646h10M1493 1622h10M1442 1597h10M1483 1571h10M1474 1619h10M1422 1573h10M1468 1631h10M1492 1574h10M1456 1560h10M1433 1673h10M1476 1625h10M1447 1615h10M1453 1698h10M1489 1648h10M1509 1632h10M1481 1613h10M1458 1557h10M1454 1682h10M1492 1612h10M1433 1625h10M1442 1587h10M1411 1634h10M1480 1672h10M1488 1640h10M1461 1639h10M1449 1644h10M1488 1583h10M1470 1621h10M1458 1632h10M1462 1622h10M1510 1603h10M1476 1589h10M1433 1608h10M1455 1609h10M1410 1629h10M1445 1555h10M1480 1633h10M1511 1602h10M1515 1585h10M1454 1607h10M1437 1677h10M1500 1677h10M1439 1613h10M1475 1596h10M1451 1612h10M1468 1525h10M1443 1636h10M1479 1591h10M1457 1653h10M1459 1617h10M1436 1582h10M1497 1618h10M1417 1597h10M1481 1582h10M1430 1578h10M1433 1561h10M1477 1597h10M1459 1518h10M1454 1558h10M1449 1639h10M1455 1565h10" stroke="#6a4c9e" stroke-width="10" stroke-opacity="0.85" fill="none"/>
<path transform="scale(.1)" d="M1465 1657h10M1408 1689h10M1452 1687h10M1390 1656h10M1472 1668h10M1439 1660h10M1492 1682h10M1484 1667h10M1461 1679h10M1447 1680h10M1428 1667h10M1450 1697h10M1450 1681h10M1395 1686h10M1463 1654h10M1431 1699h10M1425 1661h10M1438 1695h10M1469 1667h10M1430 1656h10M1431 1662h10M1460 1662h10M1458 1659h10M1404 1675h10M1437 1660h10M1442 1673h10M1462 1645h10M1454 1661h10M1462 1681h10M1477 1690h10M1479 1671h10M1454 1665h10M1482 1662h10M1411 1676h10M1430 1674h10M1436 1658h10M1427 1694h10M1425 1706h10M1419 1662h10M1473 1665h10M1425 1681h10M1421 1680h10M1413 1645h10M1408 1685h10M1449 1685h10M1483 1673h10M1485 1677h10M1485 1670h10M1458 1664h10M1434 1710h10M1455 1677h10M1462 1722h10M1374 1687h10M1442 1674h10M1463 1639h10M1412 1673h10M1433 1676h10M1395 1660h10M1433 1640h10M1407 1681h10M1437 1694h10M1492 1690h10M1429 1660h10M1419 1656h10M1446 1675h10M1368 1664h10M1505 1705h10M1465 1720h10M1464 1713h10M1463 1637h10M1450 1694h10M1426 1657h10M1457 1676h10M1440 1667h10M1380 1675h10M1477 1658h10M1392 1706h10M1473 1700h10M1450 1699h10M1466 1685h10M1442 1657h10M1446 1662h10M1466 1665h10M1458 1688h10M1432 1685h10M1434 1662h10M1432 1639h10M1436 1678h10M1427 1702h10M1431 1690h10M1417 1669h10M1432 1697h10M1427 1659h10M1450 1661h10M1427 1677h10M1398 1682h10M1391 1651h10M1469 1687h10M1442 1650h10M1458 1650h10M1408 1641h10M1450 1710h10M1445 1672h10M1403 1678h10M1429 1706h10M1427 1647h10M1490 1663h10M1486 1713h10M1453 1679h10M1463 1662h10M1428 1666h10M1442 1683h10M1439 1676h10M1419 1668h10M1412 1663h10M1461 1682h10M1458 1661h10M1486 1668h10M1454 1652h10M1385 1670h10M1473 1688h10M1442 1668h10M1433 1659h10" stroke="#a05aa6" stroke-width="10" stroke-opacity="0.85" fill="none"/>
<path transform="scale(.1)" d="M1403 1711h10M1440 1736h10M1448 1708h10M1436 1757h10M1423 1735h10M1443 1755h10M1453 1722h10M1414 1739h10M1470 1758h10M1466 1711h10M1436 1728h10M1482 1722h10M1409 1761h10M1436 1767h10M1479 1698h10M1471 1720h10M1434 1749h10M1452 1740h10M1480 1739h10M1472 1726h10M1500 1732h10M1450 1734h10M1433 1753h10M1434 1722h10M1407 1748h10M1426 1703h10M1420 1730h10M1487 1746h10M1460 1713h10M1449 1701h10M1515 1734h10M1455 1715h10M1444 1740h10M1490 1731h10M1451 1734h10M1451 1729h10M1420 1722h10M1467 1763h10M1424 1712h10M1412 1682h10M1427 1755h10M1460 1749h10M1433 1708h10M1445 1737h10M1412 1727h10M1426 1722h10M1486 1732h10M1441 1740h10M1423 1753h10M1437 1758h10M1443 1744h10M1464 1741h10M1396 1723h10M1425 1739h10M1456 1710h10M1453 1754h10M1421 1717h10M1421 1734h10M1470 1748h10M1440 1680h10M1423 1725h10M1447 1723h10M1445 1716h10M1448 1718h10M1480 1754h10M1430 1773h10M1411 1739h10M1480 1764h10M1440 1766h10M1458 1787h10M1464 1698h10M1487 1741h10M1469 1755h10M1456 1715h10M1459 1733h10M1441 1753h10M1445 1756h10M1473 1735h10M1449 1764h10M1456 1694h10M1444 1706h10M1463 1749h10M1458 1719h10M1435 1733h10M1464 1728h10M1512 1750h10M1457 1706h10M1401 1713h10M1427 1736h10M1501 1744h10M1408 1771h10M1437 1732h10M1434 1705h10M1413 1722h10M1463 1739h10M1458 1778h10M1424 1747h10M1453 1709h10M1460 1747h10M1435 1743h10M1428 1748h10M1448 1709h10M1453 1724h10M1394 1749h10M1430 1761h10M1409 1712h10M1447 1731h10M1437 1747h10M1438 1714h10M1468 1746h10M1475 1717h10M1426 1737h10M1469 1736h10M1465 1757h10M1491 1728h10M1436 1729h10M1464 1768h10M1460 1775h10M1470 1727h10M1456 1757h10M1479 1768h10M1464 1745h10M1425 1749h10M1431 1728h10M1411 1731h10M1412 1746h10M1445 1761h10M1435 1732h10M1468 1700h10M1450 1736h10M1469 1747h10M1437 1740h10M1457 1759h10M1477 1766h10M1465 1705h10M1429 1744h10M1472 1711h10M1419 1752h10M1484 1699h10M1442 1729h10M1484 1745h10M1457 1749h10M1448 1761h10M1508 1731h10M1472 1775h10M1428 1745h10M1503 1739h10M1453 1681h10M1427 1726h10M1460 1738h10M1448 1752h10M1448 1724h10M1471 1728h10M1435 1778h10M1419 1754h10M1426 1748h10M1396 1773h10M1384 1699h10M1413 1743h10M1433 1741h10M1451 1755h10M1409 1727h10M1427 1766h10M1443 1734h10M1460 1756h10" stroke="#e0892e" stroke-width="10" stroke-opacity="0.9" fill="none"/>
<path transform="scale(.1)" d="M1441 1967h10M1479 1831h10M1449 1885h10M1418 1944h10M1435 1965h10M1412 1940h10M1400 1855h10M1394 1829h10M1444 1887h10M1445 1841h10M1462 1843h10M1439 1931h10M1463 1912h10M1450 1941h10M1410 1931h10M1463 1834h10M1437 1929h10M1488 1832h10M1422 1911h10M1438 1853h10M1413 1838h10M1423 1786h10M1427 1841h10M1440 1876h10M1420 1849h10M1467 1901h10M1451 1818h10M1474 1840h10M1454 1878h10M1451 1833h10M1462 1860h10M1438 1909h10M1430 1946h10M1459 1819h10M1440 1955h10M1454 1934h10M1451 1884h10M1419 1855h10M1415 1883h10M1483 1911h10M1459 1832h10M1438 1785h10M1459 1866h10M1456 1894h10M1415 1881h10M1433 1782h10M1452 1893h10M1430 1787h10M1447 1886h10M1454 1913h10M1430 1832h10M1427 1955h10M1408 1817h10M1441 1790h10M1454 1824h10M1475 1806h10M1409 1786h10M1466 1782h10M1461 1930h10M1393 1824h10M1456 1830h10M1423 1872h10M1409 1818h10M1480 1820h10M1433 1875h10M1456 1899h10M1414 1931h10M1411 1824h10M1426 1837h10M1442 1952h10M1459 1969h10M1473 1826h10M1420 1840h10M1456 1790h10M1491 1936h10M1430 1947h10M1462 1798h10M1430 1825h10M1460 1841h10M1440 1937h10M1468 1814h10M1423 1828h10M1437 1930h10M1434 1795h10M1426 1890h10M1450 1858h10M1454 1855h10M1439 1891h10M1419 1797h10M1452 1913h10M1462 1825h10M1428 1907h10M1436 1963h10M1414 1884h10M1444 1832h10M1436 1862h10M1432 1963h10M1453 1863h10M1445 1847h10M1443 1809h10M1436 1820h10M1418 1792h10M1410 1781h10M1450 1832h10M1458 1808h10M1418 1907h10M1449 1959h10M1443 1933h10M1432 1857h10M1413 1880h10M1457 1877h10M1440 1944h10M1468 1916h10M1438 1898h10M1442 1832h10M1446 1905h10M1473 1930h10M1455 1781h10M1459 1885h10M1401 1806h10M1428 1954h10M1438 1874h10M1477 1838h10M1433 1937h10M1462 1911h10M1437 1847h10M1427 1923h10M1431 1857h10M1404 1804h10M1470 1792h10M1416 1858h10M1424 1786h10M1439 1870h10M1407 1788h10M1386 1897h10M1441 1962h10M1444 1827h10M1417 1858h10M1440 1925h10M1422 1824h10M1440 1797h10M1436 1944h10M1447 1875h10M1426 1802h10M1457 1915h10M1396 1921h10M1441 1815h10M1425 1862h10M1436 1838h10M1416 1927h10M1432 1951h10M1423 1797h10M1461 1962h10M1424 1853h10M1456 1827h10M1430 1951h10M1443 1858h10M1458 1955h10M1452 1938h10M1452 1873h10M1461 1940h10M1454 1794h10M1419 1791h10M1441 1922h10M1434 1785h10M1456 1885h10M1435 1967h10M1417 1912h10M1423 1835h10M1466 1944h10M1460 1797h10M1429 1855h10M1427 1839h10M1415 1870h10M1436 1892h10M1414 1888h10M1448 1938h10M1458 1806h10M1410 1784h10M1486 1947h10M1429 1821h10M1433 1808h10M1455 1806h10M1427 1940h10M1415 1892h10M1448 1784h10M1410 1811h10M1466 1800h10M1451 1924h10M1435 1913h10M1439 1830h10M1467 1894h10M1454 1889h10M1457 1826h10M1380 1892h10M1463 1820h10M1414 1817h10M1430 1866h10M1433 1870h10M1455 1948h10M1445 1947h10M1458 1851h10M1478 1959h10M1479 1820h10M1398 1873h10M1423 1845h10M1447 1871h10M1453 1787h10M1447 1967h10M1452 1884h10M1430 1921h10M1465 1818h10M1450 1851h10M1423 1902h10M1433 1905h10M1473 1790h10M1457 1917h10M1465 1802h10M1422 1906h10M1402 1857h10M1456 1843h10M1415 1966h10M1420 1917h10M1429 1875h10M1477 1969h10M1448 1922h10M1421 1860h10M1402 1927h10M1465 1815h10M1466 1866h10M1454 1853h10M1450 1927h10M1459 1865h10M1424 1880h10M1452 1864h10M1429 1828h10M1462 1921h10M1450 1969h10M1407 1952h10M1490 1874h10M1407 1789h10M1486 1872h10M1449 1789h10M1451 1817h10M1438 1838h10M1449 1939h10M1430 1953h10M1487 1851h10M1422 1823h10M1422 1793h10M1417 1813h10M1413 1927h10M1465 1897h10M1450 1939h10M1446 1788h10M1416 1862h10M1433 1930h10M1407 1956h10M1425 1962h10M1446 1871h10M1466 1868h10M1492 1948h10M1452 1816h10M1457 1817h10M1444 1967h10M1430 1940h10M1404 1800h10M1430 1789h10M1432 1906h10M1444 1925h10M1412 1793h10M1429 1970h10M1437 1856h10M1448 1803h10M1439 1896h10M1442 1923h10M1426 1938h10M1447 1785h10M1417 1940h10M1450 1830h10M1440 1817h10M1450 1866h10M1462 1808h10M1418 1873h10M1417 1893h10M1464 1952h10M1457 1782h10M1446 1888h10M1442 1909h10M1421 1902h10M1447 1962h10M1420 1863h10M1435 1847h10M1437 1858h10M1403 1893h10M1403 1882h10M1436 1894h10M1480 1851h10M1426 1803h10M1423 1849h10M1434 1922h10M1429 1931h10M1473 1910h10M1454 1930h10M1389 1890h10M1434 1840h10M1454 1891h10M1461 1803h10M1430 1842h10M1471 1806h10M1406 1788h10M1453 1921h10M1484 1869h10M1477 1902h10M1415 1803h10M1443 1803h10M1466 1837h10M1461 1951h10M1467 1848h10M1427 1811h10M1446 1928h10M1437 1904h10M1417 1888h10M1461 1826h10M1442 1794h10M1471 1783h10M1479 1914h10M1435 1857h10M1445 1910h10M1466 1895h10M1469 1944h10M1460 1863h10M1437 1837h10M1441 1959h10M1432 1824h10M1432 1887h10M1430 1937h10M1446 1823h10M1396 1879h10M1438 1834h10M1439 1955h10M1462 1882h10M1433 1864h10M1436 1782h10M1442 1961h10M1456 1809h10M1413 1915h10M1464 1912h10M1462 1859h10M1437 1885h10M1417 1874h10M1467 1925h10M1444 1864h10M1450 1802h10M1422 1931h10M1445 1829h10M1467 1812h10M1475 1790h10M1448 1806h10M1433 1831h10M1435 1886h10M1459 1807h10M1465 1790h10M1419 1814h10M1435 1793h10M1454 1863h10M1411 1840h10M1396 1927h10M1473 1842h10M1429 1962h10M1469 1949h10M1441 1964h10M1510 1820h10M1414 1876h10M1416 1951h10M1439 1955h10M1450 1961h10M1470 1859h10M1408 1836h10M1457 1820h10M1459 1887h10M1453 1914h10M1431 1875h10M1484 1810h10M1453 1845h10M1433 1867h10M1451 1923h10M1444 1926h10M1469 1864h10M1457 1830h10M1441 1845h10M1433 1801h10M1425 1955h10M1441 1823h10M1461 1824h10M1456 1946h10M1431 1823h10M1468 1960h10M1418 1790h10M1465 1951h10M1431 1879h10M1447 1850h10M1471 1845h10M1424 1814h10M1437 1915h10M1462 1935h10M1422 1796h10M1427 1891h10M1418 1924h10M1453 1858h10M1412 1957h10M1437 1923h10M1421 1904h10M1441 1820h10M1419 1817h10M1452 1969h10M1435 1953h10M1427 1968h10M1449 1807h10M1467 1790h10M1436 1956h10M1458 1832h10M1424 1943h10M1433 1786h10M1439 1817h10M1454 1969h10M1452 1923h10M1435 1894h10M1417 1955h10M1418 1795h10M1429 1802h10M1462 1867h10M1465 1906h10M1443 1919h10M1446 1896h10M1420 1909h10M1432 1878h10M1439 1797h10M1443 1858h10M1479 1790h10M1422 1924h10M1451 1952h10M1420 1794h10M1474 1971h10M1489 1841h10M1435 1890h10M1419 1815h10M1457 1947h10M1433 1828h10M1386 1900h10M1409 1945h10M1471 1848h10M1452 1841h10M1473 1834h10M1508 1825h10M1448 1809h10M1455 1947h10M1430 1908h10M1376 1912h10M1462 1807h10M1424 1952h10M1436 1802h10M1420 1840h10M1452 1855h10M1463 1810h10M1427 1957h10M1428 1816h10M1445 1802h10M1435 1797h10M1406 1900h10M1439 1906h10M1456 1963h10M1399 1965h10M1415 1814h10M1447 1937h10M1464 1956h10M1457 1859h10M1456 1942h10M1480 1808h10M1445 1865h10M1443 1857h10M1429 1944h10M1464 1819h10M1454 1808h10M1435 1910h10M1420 1936h10M1435 1809h10M1451 1965h10M1402 1904h10M1463 1801h10M1433 1874h10M1422 1877h10M1456 1787h10M1432 1865h10M1419 1830h10M1407 1857h10" stroke="#7cb146" stroke-width="10" stroke-opacity="0.9" fill="none"/>
</g>
<rect x="32.6" y="61.5" width="25.0" height="16.7" fill="none" stroke="#8a8a8a" stroke-width="0.6"/>
<text x="42.9" y="77.6" font-size="4.6" text-anchor="middle" fill="#333" textLength="9.8" lengthAdjust="spacingAndGlyphs">LNPC</text>
<rect x="32.6" y="122.3" width="24.7" height="17.1" fill="none" stroke="#8a8a8a" stroke-width="0.6"/>
<text x="42.8" y="138.8" font-size="4.6" text-anchor="middle" fill="#333" textLength="9.8" lengthAdjust="spacingAndGlyphs">LNPC</text>
<rect x="32.6" y="183.5" width="25.6" height="16.7" fill="none" stroke="#8a8a8a" stroke-width="0.6"/>
<text x="43.2" y="199.6" font-size="4.6" text-anchor="middle" fill="#333" textLength="9.8" lengthAdjust="spacingAndGlyphs">LNPC</text>
<path d="M99.8,22.8 L148.4,22.8 L148.4,35.6 L139.2,40.5 L99.8,40.5 Z" fill="none" stroke="#808080" stroke-width="0.65"/>
<line x1="125.4" y1="24.1" x2="125.4" y2="27.8" stroke="#444" stroke-width="0.6"/>
<path d="M99.8,84.0 L148.4,84.0 L148.4,94.0 L133.3,103.3 L99.8,103.3 Z" fill="none" stroke="#808080" stroke-width="0.65"/>
<line x1="126.7" y1="85.3" x2="126.7" y2="89.0" stroke="#444" stroke-width="0.6"/>
<path d="M99.8,145.4 L148.4,145.4 L148.4,154.7 L132.6,163.3 L99.8,163.3 Z" fill="none" stroke="#808080" stroke-width="0.65"/>
<line x1="125.4" y1="146.70000000000002" x2="125.4" y2="150.4" stroke="#444" stroke-width="0.6"/>
<defs>
<radialGradient id="cg" cx="50%" cy="50%" r="50%"><stop offset="0" stop-color="#fafafa"/><stop offset="0.3" stop-color="#e2e2e2"/><stop offset="0.7" stop-color="#c2c2c2"/><stop offset="0.9" stop-color="#9a9a9a"/><stop offset="1" stop-color="#7a7a7a"/></radialGradient>
<radialGradient id="cg2" cx="50%" cy="50%" r="50%"><stop offset="0" stop-color="#ffffff"/><stop offset="0.25" stop-color="#e8e8e8"/><stop offset="0.7" stop-color="#c6c6c6"/><stop offset="0.9" stop-color="#a0a0a0"/><stop offset="1" stop-color="#808080"/></radialGradient>
<radialGradient id="cg3" cx="50%" cy="50%" r="50%"><stop offset="0" stop-color="#ffffff"/><stop offset="0.3" stop-color="#e6e6e6"/><stop offset="0.62" stop-color="#9a9a9a"/><stop offset="0.8" stop-color="#505050"/><stop offset="1" stop-color="#707070"/></radialGradient>
</defs>
<path transform="scale(.1)" d="M1946 437h6M2094 334h6M2029 337h6M2128 558h6M2149 495h6M2072 514h6M1981 553h6M1939 508h6M2096 545h6M2007 737h6M2045 487h6M2053 493h6M2009 508h6M2054 601h6M1990 763h6M1923 507h6M2093 746h6M1964 322h6M2093 493h6M2009 582h6M2058 566h6M2006 656h6M2160 543h6M2004 606h6M2078 446h6M2003 634h6M2032 510h6M2057 537h6M2040 366h6M1970 628h6M2065 542h6M2124 743h6M2084 683h6M1998 610h6M1903 516h6M2143 634h6M2086 369h6M2101 585h6M1903 411h6M1943 713h6M1974 518h6M2020 591h6M2080 564h6M1939 258h6M2053 564h6M2138 531h6M1991 577h6M1916 446h6M1959 566h6M2131 561h6M2062 500h6M2018 321h6M1944 424h6M2107 600h6M2131 680h6M2016 635h6M2127 525h6M1911 551h6M1974 550h6M2003 569h6M1869 728h6M2149 508h6M1967 540h6M2094 578h6M2072 363h6M1950 661h6M2059 403h6M1971 410h6M1958 646h6M2022 642h6M2055 403h6M1987 749h6M1978 444h6M2140 548h6M2039 674h6M1897 578h6M1954 411h6M1974 646h6M2029 372h6M1949 680h6M2124 440h6M1942 527h6M2117 688h6M2124 501h6M1994 406h6M2034 485h6M2060 423h6M1998 459h6M1942 431h6M1957 431h6M2087 549h6M1932 587h6M2064 674h6M2024 521h6M1984 551h6M2080 556h6M2019 592h6M2048 563h6M1964 559h6M1958 462h6M2053 734h6M2122 540h6M2025 631h6M2153 652h6M2025 557h6M2013 514h6M1970 517h6M1864 430h6M2075 455h6M2084 421h6M2010 576h6M1955 474h6M1982 487h6M2043 538h6M2120 613h6M2007 507h6M1924 402h6M1980 607h6M2050 614h6M2117 525h6M1989 500h6M2133 527h6M1980 580h6M2133 530h6M2019 640h6M2120 627h6M1978 566h6M2070 375h6M2138 549h6M2012 748h6M2052 474h6M2035 592h6M2106 535h6M1969 476h6M1973 443h6M2038 495h6M2044 464h6M1969 523h6M2011 646h6M1966 559h6M2037 420h6M2099 556h6M1869 595h6M2117 467h6M1946 592h6M2011 417h6M1865 563h6M1980 599h6M2072 492h6M1997 702h6M2011 450h6M2008 693h6M2078 513h6M1940 555h6M1968 541h6M2101 638h6M2051 509h6M2059 705h6M2071 412h6M2166 563h6M2032 513h6M2071 487h6M1920 364h6M2030 493h6M1993 734h6M2105 640h6M1999 567h6M2023 521h6M2101 595h6M2065 554h6M1923 472h6M2071 507h6M1977 573h6M1965 479h6M2112 507h6M2156 588h6M2106 643h6M1864 533h6M1935 498h6M2032 654h6M2036 690h6M1997 535h6M2048 626h6M2036 484h6M2013 412h6M2142 608h6M2075 565h6M1991 503h6M2106 468h6M1977 684h6M2166 567h6M2083 557h6M2156 500h6M2047 584h6M2157 517h6M2059 495h6M1987 481h6M2047 621h6M1984 485h6M2007 572h6M2096 426h6M2069 450h6M2098 453h6M1953 475h6M2035 450h6M2057 553h6M2047 564h6M2110 474h6M2040 537h6M1875 575h6M1978 475h6M2004 549h6M2067 584h6M1984 603h6M2074 505h6M2038 613h6M2075 603h6M2049 643h6M1912 696h6M1994 415h6M1850 578h6M2128 630h6M2009 670h6M2034 487h6M2045 559h6M2044 576h6M1865 681h6M1995 599h6M1976 555h6M2026 398h6M2071 597h6M1951 351h6M1988 464h6M2049 538h6M2169 598h6M2020 555h6M1809 459h6M1966 530h6M2066 559h6M2115 478h6M2064 528h6M2041 569h6M2017 559h6M2037 632h6M2031 567h6M2081 637h6M1959 604h6M2100 579h6M2118 611h6M2135 482h6M2075 491h6M2139 552h6M1936 550h6M1960 628h6M2013 343h6M2009 632h6M2066 483h6M2092 592h6M2157 621h6M2069 469h6M2063 567h6M2041 578h6M1945 591h6M2041 572h6M2032 513h6M2060 610h6M2014 569h6M1979 577h6M2041 425h6M2133 460h6M2046 423h6M1902 599h6M1929 354h6M2023 401h6M2024 704h6M2009 572h6M2085 562h6M2031 675h6M2034 572h6M2049 426h6M2065 545h6M2091 602h6M2164 371h6M1996 498h6M1972 577h6M2034 552h6M1911 455h6M2035 500h6M1992 530h6M2018 445h6M2172 480h6M2091 593h6M2117 489h6M1961 579h6M2061 330h6M1833 492h6M2009 516h6M2073 454h6M2143 564h6M1876 561h6M1996 579h6M2031 599h6M1971 508h6M2040 473h6M2004 595h6M2105 439h6M2004 569h6M2086 449h6M2087 553h6M2144 623h6M2083 505h6M2061 464h6M1975 376h6M1937 427h6M2032 549h6M1934 531h6M2072 622h6M2032 559h6M2010 622h6M1917 561h6M1857 692h6M2113 353h6M1998 415h6M1901 503h6M1970 632h6M1998 441h6M2033 575h6M2104 584h6M1922 466h6M2025 465h6M2098 509h6M2033 506h6M2043 406h6M1982 381h6M2032 417h6M2065 645h6M2087 500h6M2139 522h6M2035 544h6M2001 576h6M1942 382h6M2133 474h6M2011 568h6M2002 434h6M2023 455h6M2082 499h6M2018 607h6M1917 407h6M2096 651h6M2046 476h6M2135 585h6M2119 378h6M2029 447h6M1952 590h6M2096 497h6M2019 660h6M2090 528h6M2079 548h6M1939 493h6M2061 594h6M1944 467h6M1993 405h6M2125 579h6M2142 345h6M1975 699h6M1928 377h6M2056 678h6M2089 454h6M2082 575h6M2060 573h6M2104 642h6M2147 633h6M2027 375h6M2082 406h6M1894 375h6M2070 565h6M2090 564h6M1978 611h6M1984 406h6M2110 586h6M1965 516h6M2120 622h6M1954 637h6M1835 547h6M2069 528h6M2048 396h6M2029 583h6M1966 551h6M2026 339h6M1991 590h6M1916 541h6M2065 426h6M2019 618h6M2096 451h6M2119 569h6M2049 673h6M2097 572h6M2115 598h6M2139 529h6M1899 677h6M2103 586h6M2043 532h6M2048 455h6M2100 547h6M1964 563h6M2014 537h6M2082 779h6M1955 576h6M2096 577h6M2157 502h6M2014 539h6M1931 638h6M1942 588h6M2134 465h6M2026 522h6M2176 563h6M1901 635h6M2121 362h6M1824 772h6M2047 350h6M2123 666h6M1851 653h6M2096 538h6M1984 574h6M1975 554h6M2019 500h6M2083 627h6M2110 579h6M2173 427h6M2045 556h6M2136 338h6M2005 512h6M2055 742h6M2059 531h6M2074 627h6M2026 690h6M1944 651h6M2096 629h6M2163 518h6M2073 563h6M1992 472h6M1978 615h6M1859 425h6M2046 657h6M2032 653h6M2035 492h6M1916 557h6M1957 592h6M1931 438h6M2128 577h6M2117 561h6M2031 555h6M2014 634h6M1938 371h6M1972 620h6M1997 334h6M2025 591h6M2069 525h6M1916 587h6M1962 524h6M2100 505h6M1897 486h6M2088 604h6M1937 544h6M2063 635h6M2072 554h6M2016 582h6M2101 526h6M2017 695h6M2037 470h6M2094 429h6M1954 622h6M2042 610h6M2101 472h6M2080 506h6M2057 562h6M2033 425h6M2064 542h6M2082 446h6M2056 521h6M2006 516h6M2020 418h6M1997 499h6M2077 526h6M2152 594h6M2065 558h6M1928 572h6M2140 450h6M2144 595h6M2063 502h6M2042 470h6M2039 545h6M2045 432h6M2113 482h6M2071 592h6M2024 757h6M2050 577h6M2020 569h6M1941 597h6M2011 495h6M2100 620h6M2007 450h6M1882 452h6M2079 596h6M1941 544h6M2122 473h6M1996 460h6M2073 373h6M2030 581h6M2036 625h6M2088 495h6M1961 446h6M2078 528h6M2049 459h6M2130 617h6M2099 441h6M1955 625h6M2030 471h6M1980 584h6M2064 559h6M2023 449h6M2060 516h6M2024 594h6M2173 485h6M2116 475h6M2106 597h6M2043 561h6M1979 510h6M2115 608h6M2004 549h6M2045 496h6M2007 531h6M2140 531h6M1981 567h6M1836 464h6M1991 567h6M1862 521h6M1956 626h6M2102 501h6M2077 438h6M2057 563h6M2123 502h6M1873 610h6M1956 492h6M2012 685h6M2036 641h6M2046 418h6M2076 585h6M1996 403h6M2072 581h6M2114 592h6M1925 419h6M2104 659h6M2123 613h6M2039 624h6M2161 587h6M2138 646h6M1985 643h6M1981 460h6M2166 396h6M1715 722h6M1731 634h6M1693 695h6M1736 655h6M1692 563h6M1720 657h6M1744 639h6M1747 578h6M1670 724h6M1708 603h6M1716 578h6M1710 566h6M1725 620h6M1719 660h6M1733 544h6M1725 642h6M1687 642h6M1735 692h6M1778 638h6M1724 791h6M1703 604h6M1707 620h6M1719 670h6M1698 583h6M1719 577h6M1696 684h6M1717 593h6M1679 593h6M1677 696h6M1742 681h6M1729 627h6M1725 664h6M1721 627h6M1689 680h6M1731 585h6M1713 658h6M1734 545h6M1679 567h6M1684 587h6M1745 582h6M1782 678h6M1740 657h6M1745 686h6M1743 700h6M1738 686h6M1752 662h6M1705 768h6M1706 687h6M1781 617h6M1712 615h6M1693 704h6M1714 669h6M1671 693h6M1699 530h6M1699 552h6M1766 547h6M1728 590h6M1696 573h6M1755 586h6M1702 676h6M1709 707h6M1699 551h6M1733 741h6M1735 604h6M1754 714h6M1709 690h6M1719 668h6M1739 719h6M1723 665h6M1648 606h6M1733 606h6M1731 647h6M1722 667h6M1758 694h6M1721 580h6M1731 588h6M1756 613h6M1702 650h6M1691 694h6M1730 615h6M1705 784h6M1754 697h6M1728 762h6M1709 643h6M1716 589h6M1695 785h6M1725 601h6M1713 628h6M1708 657h6M1678 539h6M1714 645h6M1686 654h6M1704 674h6M1714 735h6M1761 705h6M1721 718h6M1741 692h6M1743 636h6M1743 697h6M1732 650h6M1709 700h6M1706 589h6M1769 741h6M1698 754h6M1662 701h6M1740 678h6M1715 713h6M1735 586h6M1700 728h6M1742 585h6" stroke="#666" stroke-width="6" stroke-opacity="0.8" fill="none"/>
<path d="M170.00,42.00 C170.57,40.97 170.10,39.67 172.00,38.80 C173.90,37.93 177.45,37.50 181.40,36.80 C185.35,36.10 191.42,35.23 195.70,34.60 C199.98,33.97 203.88,33.17 207.10,33.00 C210.32,32.83 213.35,33.17 215.00,33.60 C216.65,34.03 218.00,34.37 217.00,35.60 C216.00,36.83 212.25,39.60 209.00,41.00 C205.75,42.40 200.10,42.92 197.50,44.00 C194.90,45.08 194.05,45.83 193.40,47.50 C192.75,49.17 193.47,51.58 193.60,54.00 C193.73,56.42 194.23,59.17 194.20,62.00 C194.17,64.83 194.52,68.37 193.40,71.00 C192.28,73.63 189.73,76.63 187.50,77.80 C185.27,78.97 182.28,78.97 180.00,78.00 C177.72,77.03 175.03,74.83 173.80,72.00 C172.57,69.17 172.98,63.67 172.60,61.00 C172.22,58.33 172.10,57.73 171.50,56.00 C170.90,54.27 169.48,52.43 169.00,50.60 C168.52,48.77 168.43,46.43 168.60,45.00 C168.77,43.57 169.43,43.03 170.00,42.00Z" fill="#dadada" stroke="#6a6a6a" stroke-width="0.6"/>
<path transform="scale(.1)" d="M1889 628h5M1876 366h5M1883 739h5M1812 483h5M1743 523h5M1801 628h5M1736 466h5M1744 537h5M1819 612h5M1846 692h5M1857 728h5M1893 439h5M1742 506h5M1785 610h5M1882 607h5M1891 443h5M1999 422h5M1915 590h5M1830 606h5M1795 563h5M1767 528h5M1815 424h5M1740 435h5M1853 587h5M1788 529h5M1781 484h5M1858 459h5M1960 414h5M1771 403h5M1799 665h5M1908 736h5M1897 573h5M1834 538h5M1810 580h5M1815 440h5M1899 601h5M1992 367h5M1886 580h5M1914 447h5M1736 500h5M2132 340h5M1836 647h5M1771 441h5M1787 540h5M1907 375h5M1903 569h5M1918 631h5M1825 642h5M1845 608h5M1772 607h5M2050 413h5M1911 562h5M1885 583h5M1728 543h5M2089 332h5M1876 757h5M1827 685h5M1932 634h5M1912 547h5M1819 550h5M1808 706h5M1778 634h5M1903 464h5M1787 482h5M1729 457h5M1838 425h5M1805 615h5M1904 359h5M1928 434h5M1706 520h5M2131 375h5M1876 560h5M1890 455h5M1813 689h5M1779 511h5M1705 419h5M1928 637h5M1844 374h5M1774 457h5M1911 405h5M1804 657h5M1761 417h5M1746 523h5M1911 692h5M1834 473h5M1741 413h5M1924 486h5M1792 506h5M1753 410h5M1835 506h5M1798 691h5M1911 385h5M1767 620h5M1840 449h5M1810 604h5M1917 544h5M1753 508h5M1840 518h5M2022 410h5M1802 744h5M1802 609h5M1791 465h5M1900 581h5M1998 431h5M1913 511h5M1900 486h5M1929 674h5M1955 357h5M1764 634h5M1958 451h5M1772 574h5M1866 433h5M1840 643h5M1836 676h5M1857 362h5M2100 373h5M1914 677h5M1833 421h5M1791 665h5M1767 605h5M1729 401h5M1786 547h5M2086 348h5M1899 435h5M1843 768h5M1896 405h5M1744 398h5M1901 642h5M1795 597h5M1758 411h5M2124 372h5M1842 718h5M1748 516h5M1739 425h5M1828 383h5M1804 427h5M1927 428h5M1937 429h5M1792 509h5M1846 591h5M1813 632h5M1689 470h5M1752 383h5M1979 365h5M1874 490h5M1858 756h5M1881 700h5M1762 589h5M1782 489h5M1893 510h5M1797 472h5M1919 380h5M1854 580h5M1944 388h5M1936 549h5M1755 521h5M1824 419h5M1808 536h5M1866 614h5M1935 581h5M2004 422h5M1781 761h5M1788 546h5M1889 420h5M1753 688h5M1720 521h5M2024 376h5M1895 416h5M1910 498h5M1897 463h5M2075 368h5M1833 744h5M1897 574h5M1747 702h5M1956 413h5M1823 572h5M1940 443h5M1845 636h5M1849 691h5M1856 712h5M1808 386h5M1871 420h5M1779 453h5M1914 366h5M1762 499h5M1831 376h5M1814 520h5M2111 386h5M1830 663h5M1890 623h5M1922 480h5M1810 493h5M1780 399h5M1882 386h5M1716 413h5M1766 463h5M1911 528h5M1755 545h5M1791 402h5M1744 623h5M1968 381h5M1791 503h5M1876 496h5M2033 358h5M1900 445h5M1776 388h5M1872 360h5M1877 554h5M1744 503h5M1713 423h5M1979 399h5M1905 463h5M1904 608h5M1920 705h5M1919 397h5M1762 494h5M1920 484h5M1892 649h5M1916 502h5M1958 438h5M1988 398h5M1907 546h5M1894 683h5M1751 458h5M1761 418h5M1931 577h5M1923 699h5M1826 663h5M1989 410h5M1931 399h5M1925 593h5M1896 419h5M1882 471h5M1778 688h5M1753 490h5M1877 393h5M1854 584h5M1877 553h5M1862 394h5M1790 425h5M1723 595h5M1869 710h5M1812 432h5M1785 470h5M1890 566h5M1803 569h5M1812 748h5M1700 486h5M1799 498h5M1897 384h5M1854 687h5M1866 365h5M1803 594h5M2125 366h5M1738 451h5M1770 404h5M2061 336h5M1910 366h5M1809 746h5M1801 670h5M1913 420h5M1910 515h5M1733 573h5M1932 650h5M1830 607h5M1755 561h5M1777 693h5M1751 445h5M1687 450h5M1937 414h5M1815 408h5M1862 721h5M1939 467h5M1804 581h5M1922 388h5M1763 723h5M1797 585h5M1758 649h5M1903 400h5M1825 484h5M1872 749h5M1887 594h5M1747 677h5M1815 722h5M1800 690h5M1868 373h5M1785 658h5M1746 519h5M1947 394h5M1861 674h5M1885 500h5M2033 391h5M1831 420h5M1759 732h5M1815 668h5M1898 672h5M1699 491h5M2093 395h5M1721 467h5M1835 678h5M1817 609h5M1724 475h5M1797 695h5M1852 673h5M1935 429h5M2062 353h5M1752 534h5M1788 541h5M1977 398h5M1729 409h5M1760 741h5M1885 585h5M1933 494h5M1786 527h5M2154 344h5M1742 475h5M1862 491h5M1786 605h5M1724 466h5M1726 554h5M1914 401h5M1738 611h5M1889 723h5M1855 664h5M1774 604h5M1897 594h5M1780 692h5M1935 433h5M1832 779h5M2119 361h5M1885 620h5M2130 377h5M1690 448h5M1923 701h5M1750 490h5M2071 336h5M1787 613h5M1933 707h5M1741 610h5M1921 426h5M2108 349h5M1725 565h5M2021 392h5M1714 448h5M1842 420h5M1878 360h5M1758 461h5M1722 401h5M1875 609h5M1830 671h5M1953 407h5M1760 555h5M1903 382h5M1745 478h5M1922 630h5M1861 601h5M1885 739h5M1988 407h5M1755 639h5M1990 379h5" stroke="#777" stroke-width="5" stroke-opacity="0.75" fill="none"/>
<path d="M185.00,42.50 C185.75,41.05 187.50,39.75 190.00,38.80 C192.50,37.85 196.67,37.40 200.00,36.80 C203.33,36.20 207.58,35.43 210.00,35.20 C212.42,34.97 214.00,35.03 214.50,35.40 C215.00,35.77 214.75,36.63 213.00,37.40 C211.25,38.17 207.17,38.98 204.00,40.00 C200.83,41.02 196.50,42.25 194.00,43.50 C191.50,44.75 190.42,46.83 189.00,47.50 C187.58,48.17 186.17,48.33 185.50,47.50 C184.83,46.67 184.25,43.95 185.00,42.50Z" fill="#c4c4c4" stroke="#4a4a4a" stroke-width="0.6"/>
<ellipse cx="179.6" cy="47.8" rx="8.2" ry="6.6" transform="rotate(18,179.6,47.8)" fill="url(#cg)" stroke="#555" stroke-width="0.6" fill-opacity="1"/>
<ellipse cx="183.3" cy="66.5" rx="7.3" ry="10.4" transform="rotate(-5,183.3,66.5)" fill="url(#cg2)" stroke="#555" stroke-width="0.6" fill-opacity="1"/>
<ellipse cx="179.6" cy="47.8" rx="5.90" ry="4.75" transform="rotate(18,179.6,47.8)" fill="none" stroke="#6a6a6a" stroke-width="0.45" stroke-opacity="0.8"/>
<ellipse cx="179.6" cy="47.8" rx="3.69" ry="2.97" transform="rotate(18,179.6,47.8)" fill="none" stroke="#6a6a6a" stroke-width="0.45" stroke-opacity="0.8"/>
<ellipse cx="183.3" cy="66.5" rx="5.26" ry="7.49" transform="rotate(-5,183.3,66.5)" fill="none" stroke="#6a6a6a" stroke-width="0.45" stroke-opacity="0.8"/>
<ellipse cx="183.3" cy="66.5" rx="3.29" ry="4.68" transform="rotate(-5,183.3,66.5)" fill="none" stroke="#6a6a6a" stroke-width="0.45" stroke-opacity="0.8"/>
<ellipse cx="191.2" cy="42.0" rx="4.6" ry="2.4" transform="rotate(-38,191.2,42.0)" fill="url(#cg3)" stroke="#333" stroke-width="0.5" fill-opacity="1"/>
<ellipse cx="208.5" cy="37" rx="3.0" ry="1.2" transform="rotate(-12,208.5,37)" fill="#bbb" stroke="#444" stroke-width="0.4" fill-opacity="1"/>
<line x1="174.60" y1="57.00" x2="191.50" y2="54.00" stroke="#555" stroke-width="0.5"/>
<text x="171.00" y="36.60" font-size="6.2" text-anchor="start" fill="#333" textLength="4.8" lengthAdjust="spacingAndGlyphs">IV</text>
<text x="187.40" y="33.70" font-size="6.2" text-anchor="start" fill="#333" textLength="3.6" lengthAdjust="spacingAndGlyphs">III</text>
<text x="200.60" y="31.40" font-size="6.2" text-anchor="start" fill="#333" textLength="2.4" lengthAdjust="spacingAndGlyphs">II</text>
<text x="166.40" y="67.90" font-size="6.2" text-anchor="start" fill="#333" textLength="3.2" lengthAdjust="spacingAndGlyphs">V</text>
<path transform="scale(.1)" d="M2133 1219h6M2071 1201h6M2050 1342h6M2019 1239h6M2071 1234h6M2046 1138h6M2124 1289h6M2032 1061h6M2054 1248h6M2023 1114h6M1922 1250h6M2031 1320h6M2111 1231h6M2093 1286h6M2093 1267h6M2150 1149h6M2003 1229h6M2074 1104h6M2081 1220h6M2174 1259h6M2144 1243h6M2023 1208h6M2176 1168h6M1936 1157h6M2067 1144h6M2101 1268h6M2127 1286h6M2048 1173h6M2127 1269h6M1961 1279h6M2166 1091h6M2065 1363h6M2037 1203h6M2035 1198h6M2093 1143h6M2088 1150h6M2144 1226h6M2143 1114h6M2079 1351h6M2037 1361h6M2071 1285h6M2097 1220h6M2115 1293h6M2042 1342h6M2045 1222h6M2125 1068h6M2095 1281h6M2135 1305h6M2017 1087h6M2135 1148h6M2107 1266h6M2076 1180h6M2012 1097h6M2114 1228h6M2084 1338h6M2143 1061h6M2073 1231h6M2042 1202h6M2066 1327h6M2015 995h6M2154 1275h6M2064 1171h6M2123 1279h6M2031 1364h6M2167 1188h6M1896 1380h6M2139 1172h6M2009 1245h6M2148 1317h6M2064 1098h6M1967 1098h6M2014 1103h6M2153 1100h6M1935 1292h6M2103 1205h6M2116 1220h6M2143 1112h6M2091 1120h6M2072 1287h6M2101 1257h6M2134 1398h6M1965 1169h6M2144 1210h6M2135 1306h6M2097 1173h6M2070 1379h6M2079 1080h6M2086 1161h6M2123 1108h6M1998 1355h6M2063 1229h6M2075 1192h6M2041 1190h6M2027 1281h6M2053 1071h6M2054 1284h6M2084 1180h6M1996 1131h6M2070 1202h6M2155 1298h6M2099 1068h6M2173 1204h6M1945 1344h6M2082 1273h6M2069 1237h6M2012 1164h6M2111 1360h6M1989 1253h6M2107 1029h6M2069 1174h6M2000 1147h6M2099 1320h6M2033 1208h6M2123 1265h6M1991 1318h6M1997 1208h6M2174 1252h6M2108 1133h6M2059 1189h6M2139 1175h6M2039 1240h6M2018 1290h6M2059 1387h6M1995 1075h6M2151 1234h6M2093 1215h6M2039 1144h6M2118 1282h6M2121 1202h6M1961 1255h6M2090 1235h6M2013 1127h6M2089 1073h6M1955 1144h6M2001 1178h6M2140 1178h6M2111 1218h6M2144 1076h6M2091 1298h6M2130 910h6M2163 1350h6M2105 1247h6M2099 1170h6M2065 899h6M2018 1233h6M2148 1124h6M2172 1203h6M2063 1231h6M2159 1105h6M2139 1349h6M2072 1337h6M2094 1258h6M1987 1255h6M2052 1012h6M2165 1125h6M2080 1410h6M2077 1166h6M2139 1182h6M2057 1212h6M2047 1160h6M2089 1261h6M2085 1133h6M2066 1282h6M2027 1178h6M2014 1201h6M2034 1198h6M1930 1217h6M2095 1331h6M2016 1248h6M2034 1349h6M2111 1194h6M1921 1321h6M2172 1221h6M2032 1316h6M2073 1136h6M2158 1283h6M2146 1210h6M2146 1168h6M2042 1074h6M2089 1061h6M2043 1060h6M2025 1138h6M2043 1146h6M2093 1321h6M2021 1150h6M2120 1268h6M2083 1160h6M2051 1226h6M2017 1266h6M2112 1249h6M1942 1195h6M2136 1178h6M2038 1214h6M2097 1168h6M2066 1287h6M2072 999h6M2030 1256h6M2104 1195h6M2085 1124h6M2119 1174h6M2161 1065h6M2064 1289h6M2064 1188h6M2034 1176h6M2066 1175h6M2062 1140h6M1995 1140h6M2107 1305h6M2060 1056h6M2091 1203h6M2037 1285h6M2133 1134h6M2063 1277h6M2029 1254h6M2164 1240h6M2127 1148h6M1963 1289h6M2079 1150h6M2045 1296h6M2114 1037h6M2094 1162h6M2037 1345h6M1994 1297h6M2158 1129h6M2025 1356h6M2105 1403h6M2104 1079h6M2081 1051h6M2096 984h6M2088 979h6M2074 1175h6M2073 1161h6M2152 1106h6M2091 1319h6M2044 1081h6M1978 1113h6M2039 1252h6M2020 1220h6M2067 1179h6M2073 1266h6M2117 1286h6M1977 1170h6M1992 1383h6M1929 1225h6M2053 1304h6M2136 1385h6M1957 1073h6M1978 1224h6M2115 1252h6M2103 1217h6M2138 1265h6M2122 939h6M1953 1160h6M1992 1303h6M2160 1287h6M2104 1391h6M2077 1246h6M2039 1245h6M2073 1219h6M2041 1252h6M2027 1336h6M2075 1094h6M2036 1260h6M2003 1106h6M2082 1277h6M2066 1137h6M2083 1080h6M2126 1275h6M1964 918h6M2129 1127h6M2119 1164h6M2144 967h6M2042 1069h6M2154 1334h6M2122 1009h6M2077 1131h6M2024 1144h6M2138 1116h6M1999 1314h6M2096 1066h6M2019 1338h6M2054 1198h6M2076 1281h6M2051 1216h6M2087 1074h6M2141 1350h6M2083 1192h6M2073 1096h6M2001 1088h6M2118 1386h6M2049 1046h6M2038 1244h6M2054 1266h6M2032 1079h6M2003 1087h6M2061 1366h6M2105 1072h6M2102 1300h6M2061 1308h6M2057 1122h6M1965 1103h6M2053 1243h6M2103 1227h6M2030 1155h6M2133 1244h6M2049 1186h6M2048 1278h6M1955 1212h6M1995 1122h6M2084 1203h6M2170 1339h6M2018 1226h6M2110 1156h6M1973 1245h6M2074 1180h6M2034 1148h6M2139 1139h6M2115 1160h6M2036 1150h6M2168 1224h6M2027 1211h6M2055 1324h6M1974 1007h6M2060 958h6M2075 1244h6M2145 1394h6M2162 1330h6M2040 1225h6M2101 1160h6M2148 1225h6M2063 1217h6M2017 1245h6M2047 1132h6M1982 1340h6M2093 1140h6M2063 1211h6M2070 1220h6M2040 1140h6M2145 1166h6M2131 1380h6M2021 1309h6M2071 1110h6M2061 1214h6M2072 1260h6M2011 1222h6M2094 1321h6M2115 1150h6M2177 1210h6M2029 1214h6M2046 1023h6M2096 1103h6M2109 1165h6M2124 922h6M2115 1237h6M2040 1072h6M2088 1238h6M2098 1199h6M2078 1101h6M2046 1288h6M2065 1113h6M2088 1244h6M2140 1255h6M2068 1078h6M2139 1135h6M1988 1203h6M2055 1169h6M2017 1184h6M2011 1224h6M1998 1213h6M2067 1279h6M2092 1124h6M2072 1291h6M2125 1229h6M1970 1001h6M2152 1264h6M2126 1204h6M1971 1058h6M1976 1108h6M2074 1244h6M2043 1145h6M2099 1273h6M2149 1302h6M2084 1172h6M2083 1366h6M2122 1407h6M2058 1197h6M2033 1360h6M2082 1278h6M2070 1234h6M2108 1239h6M2127 1152h6M2073 1015h6M2122 1207h6M2041 997h6M2080 1188h6M2132 1057h6M2066 1202h6M2086 1227h6M2004 1171h6M2172 1344h6M2052 1253h6M2040 1176h6M2089 1294h6M2086 1171h6M2083 1280h6M2035 1077h6M2049 1248h6M2063 1197h6M2006 1062h6M2112 1323h6M1938 1328h6M1983 1242h6M2071 1132h6M2015 1250h6M2061 1284h6M2112 1191h6M2135 1216h6M2084 1097h6M2018 1240h6M2151 1248h6M2047 1154h6M2121 1096h6M2015 1085h6M2075 1144h6M2147 1086h6M2086 1039h6M2061 978h6M2069 1312h6M2069 1161h6M2062 1354h6M2134 1226h6M1955 1118h6M2033 1004h6M2089 1302h6M2055 1151h6M2173 1233h6M2159 1282h6M2137 1299h6M2130 1152h6M2139 1158h6M2077 1138h6M2122 1230h6M1994 1110h6M2100 1268h6M2066 1302h6M2021 1367h6M2015 1357h6M2004 1019h6M1944 1064h6M2027 1319h6M2093 1291h6M2010 1393h6M2134 1150h6M2048 1299h6M2019 1171h6M2172 1213h6M2031 1329h6M1932 1281h6M2124 1402h6M2068 1327h6M2124 1241h6M2060 1298h6M2060 1178h6M2054 1349h6M2002 1190h6M2102 1296h6M2103 887h6M2092 1261h6M1954 1382h6M1973 1088h6M2092 1226h6M2116 1115h6M2161 1339h6M2119 1221h6M2075 1039h6M1998 1207h6M2042 1172h6M2030 1344h6M2153 1143h6M2105 1297h6M2025 1157h6M2071 1233h6M2035 1288h6M2103 938h6M2082 1387h6M2071 1139h6M2000 1121h6M2017 1144h6M2079 1306h6M2049 1337h6M2045 1257h6M2002 1399h6M2108 1180h6M2097 1293h6M2122 1221h6M2010 1107h6M2114 1339h6M2020 1082h6M2040 1051h6M2107 1250h6M2070 1102h6M2055 1049h6M2093 1048h6M1965 1327h6M2047 1109h6M2105 1130h6M2035 1342h6M2119 1211h6M2073 1270h6M2040 1119h6M2024 1234h6M2027 1328h6M2117 1326h6M2123 1325h6M2018 1223h6M2037 1401h6M2087 1354h6M2136 1197h6M2000 1300h6M1975 1223h6M2113 1168h6M2012 1218h6M1998 1262h6M2097 1303h6M2082 1338h6M2060 1305h6M2159 1169h6M2069 1266h6M2026 1109h6M2064 1206h6M1995 1099h6M1998 1155h6M2044 1305h6M2073 1407h6M2077 1083h6M2030 1214h6M2097 1215h6M2033 1183h6M2130 948h6M1997 1130h6M1964 1287h6M2133 1237h6M2068 1156h6M2133 1226h6M2041 1013h6M2111 1356h6M2149 1083h6M2035 1123h6M2087 1307h6M2033 1183h6M2067 1141h6M2051 1167h6M2031 1010h6M2128 1147h6M2109 1193h6M2042 1276h6M2064 1244h6M2028 1334h6M2080 1101h6M2160 1143h6M2073 1010h6M2017 1367h6M2031 1230h6M2034 1069h6M2170 1272h6M2095 1212h6M2140 1181h6M2134 1174h6M1996 1265h6M2066 1296h6M2050 1137h6M2129 1235h6M2158 1111h6M2128 1318h6M2050 1180h6M2151 952h6M2022 1058h6M2043 1267h6M2026 1019h6M2077 1157h6M2065 1149h6M2094 1268h6M2096 1084h6M2117 1215h6M2049 1288h6M2140 1069h6M2070 1092h6M2073 1330h6M2151 1334h6M2021 1136h6M2102 1178h6M2060 1182h6M2077 1380h6M1958 1203h6M2089 1322h6M2044 1284h6M2055 1131h6M1995 1333h6M2157 1294h6M2018 1223h6M1659 1202h6M1692 1296h6M1663 1248h6M1678 1315h6M1661 1050h6M1691 1197h6M1659 1212h6M1669 1078h6M1683 1083h6M1672 1381h6M1687 1213h6M1664 1217h6M1659 1115h6M1711 1102h6M1683 1197h6M1654 1044h6M1672 1270h6M1717 1159h6M1650 1297h6M1699 1153h6M1629 1293h6M1644 1106h6M1675 1161h6M1676 1203h6M1666 1087h6M1653 1116h6M1652 1188h6M1700 1105h6M1696 1229h6M1688 1142h6M1674 1203h6M1651 1157h6M1641 1135h6M1645 1234h6M1649 1106h6M1656 1173h6M1666 1328h6M1679 1162h6M1691 1215h6M1708 1106h6M1675 1316h6M1702 1260h6M1714 1280h6M1659 1248h6M1665 1221h6M1661 1234h6M1692 1203h6M1687 1034h6M1660 1166h6M1655 1201h6M1630 1229h6M1678 1296h6M1649 1201h6M1710 1275h6M1681 1137h6M1685 1097h6M1681 1113h6M1726 1283h6M1666 1202h6M1673 1269h6M1696 953h6M1668 1230h6M1713 1377h6M1660 1188h6M1661 1292h6M1653 1092h6M1673 1072h6M1686 1052h6M1663 1152h6M1663 1254h6M1698 1036h6M1661 1036h6M1672 1194h6M1689 1231h6M1693 1259h6M1665 1239h6M1684 1009h6M1647 1196h6M1690 1270h6M1669 971h6M1686 1016h6M1686 1392h6M1682 1219h6M1640 1136h6M1652 1074h6M1665 1081h6M1686 1202h6M1642 1105h6M1649 1251h6M1687 1069h6" stroke="#666" stroke-width="6" stroke-opacity="0.8" fill="none"/>
<path d="M171.50,98.60 C175.07,97.50 182.83,97.83 190.00,97.40 C197.17,96.97 210.25,95.70 214.50,96.00 C218.75,96.30 216.37,98.07 215.50,99.20 C214.63,100.33 210.82,100.80 209.30,102.80 C207.78,104.80 207.08,108.10 206.40,111.20 C205.72,114.30 206.10,118.02 205.20,121.40 C204.30,124.78 202.53,128.80 201.00,131.50 C199.47,134.20 199.27,136.22 196.00,137.60 C192.73,138.98 185.35,140.03 181.40,139.80 C177.45,139.57 174.30,138.33 172.30,136.20 C170.30,134.07 170.03,130.93 169.40,127.00 C168.77,123.07 168.63,116.43 168.50,112.60 C168.37,108.77 168.10,106.33 168.60,104.00 C169.10,101.67 167.93,99.70 171.50,98.60Z" fill="#dcdcdc" stroke="#6a6a6a" stroke-width="0.6"/>
<path transform="scale(.1)" d="M1904 1130h5M1705 1115h5M1895 1249h5M1771 1149h5M1780 1187h5M1919 1314h5M2052 1110h5M1856 1016h5M1975 1067h5M1719 1163h5M1718 1043h5M1914 1279h5M1830 1263h5M1819 1005h5M1998 1290h5M1729 1194h5M1969 1356h5M1910 1294h5M1810 1231h5M1964 1120h5M2137 984h5M1741 1291h5M2055 1166h5M1973 1167h5M1938 1068h5M1714 1317h5M1886 1103h5M2045 1099h5M1822 1065h5M2004 1318h5M1900 1345h5M1865 1192h5M1899 1106h5M2087 1003h5M1716 1263h5M1973 1279h5M1717 1205h5M1901 1224h5M2084 1027h5M1795 1331h5M1775 996h5M1920 1209h5M1995 1229h5M1907 989h5M1841 1163h5M1993 1249h5M1978 1256h5M1708 1045h5M1757 1142h5M1810 1359h5M2044 970h5M1857 1175h5M1962 1293h5M1890 1121h5M1749 1203h5M1988 995h5M1888 1220h5M1833 1391h5M1965 1325h5M1814 1236h5M1706 1223h5M1987 1307h5M2107 1000h5M1966 1349h5M1750 1094h5M1995 1101h5M2043 1131h5M1959 1198h5M1943 1224h5M1773 1015h5M1873 1216h5M1914 1157h5M2050 1094h5M1789 1115h5M1753 1263h5M2098 972h5M1742 1054h5M1805 1228h5M2038 1211h5M1964 1315h5M1942 1240h5M1875 1348h5M1975 1355h5M1712 1103h5M1828 1216h5M1948 1306h5M1840 1254h5M2057 1160h5M1977 1282h5M2019 990h5M1925 1239h5M1710 1041h5M1985 1237h5M1707 1008h5M1830 1086h5M1910 1216h5M1876 1020h5M1952 976h5M1780 1217h5M1845 979h5M1996 1058h5M1739 1074h5M2078 1046h5M1862 1194h5M1929 1379h5M1958 1195h5M1977 986h5M2111 990h5M1798 1291h5M1732 1030h5M1910 1381h5M1877 1330h5M1846 1326h5M1957 990h5M2046 1088h5M2010 1121h5M1962 1256h5M1945 1098h5M1703 1023h5M1971 1020h5M1878 1015h5M1867 1226h5M2010 1145h5M1974 1298h5M2042 976h5M1968 1302h5M1700 1081h5M1696 1187h5M1727 1147h5M1838 1213h5M1817 992h5M1853 1242h5M1933 1240h5M1849 1209h5M1697 1255h5M1972 1096h5M1724 1140h5M1823 1343h5M1711 1179h5M1778 1240h5M1760 1331h5M2007 1253h5M2135 1001h5M1919 1149h5M1822 984h5M1930 1345h5M1958 1104h5M1855 1065h5M1739 1304h5M1921 1178h5M1751 1016h5M1712 1094h5M1938 1180h5M1871 1178h5M1818 1084h5M2002 1167h5M1862 1098h5M1739 1344h5M1848 1023h5M1880 1182h5M2047 1003h5M1891 1191h5M1979 1309h5M1747 1345h5M1958 1304h5M1756 1143h5M1908 1194h5M1778 1113h5M1749 1038h5M1941 1081h5M2024 1110h5M2071 1046h5M1731 1362h5M2011 1301h5M1884 1372h5M1731 1330h5M1733 1251h5M1794 1125h5M1794 998h5M1930 1351h5M1839 1025h5M2078 1062h5M2015 1210h5M2014 1127h5M1858 1137h5M2023 1248h5M1765 1291h5M1894 981h5M1877 1136h5M1715 1196h5M1994 1055h5M2038 1218h5M2000 1261h5M2042 1089h5M1866 1319h5M1969 1070h5M1711 1275h5M1808 1379h5M1935 1278h5M1698 1140h5M1848 1162h5M1965 1153h5M2018 1046h5M2039 1166h5M1961 1230h5M1933 1241h5M1775 1147h5M1871 1132h5M1826 1057h5M1857 1014h5M1805 1099h5M1895 1160h5M1988 1242h5M1901 1138h5M1923 1247h5M1726 1043h5M1978 1348h5M1889 1322h5M1851 1322h5M1758 1243h5M1990 1124h5M2102 1000h5M1745 1208h5M2009 1045h5M1927 1175h5M2039 1130h5M2063 1084h5M1738 1091h5M1822 990h5M2015 1277h5M1722 1112h5M1741 1181h5M1815 1009h5M1719 1163h5M1937 985h5M1938 1081h5M1995 1321h5M1833 1171h5M1944 1204h5M2007 1135h5M1740 1298h5M1738 1112h5M1934 1379h5M1835 1390h5M2043 1172h5M1902 1320h5M1837 1270h5M1731 1343h5M1808 1309h5M1714 1212h5M2029 1193h5M1822 1202h5M1976 1151h5M1803 1030h5M1720 1027h5M1942 1326h5M1830 1131h5M1740 1304h5M1774 1053h5M1827 1344h5M1786 1043h5M1838 1260h5M1977 1303h5M2000 1004h5M2016 1015h5M2088 977h5M1750 1176h5M1857 1011h5M2017 1084h5M1783 1017h5M1710 1040h5M1911 1207h5M2020 1041h5M1787 1241h5M1998 1177h5M1880 1334h5M1725 991h5M2001 1310h5M1825 1392h5M1806 1059h5M1996 1207h5M1709 1104h5M1990 1205h5M1790 1013h5M1807 1155h5M1938 1360h5M1929 1065h5M1765 1357h5M1911 1269h5M1782 1346h5M1928 1369h5M1751 1032h5M1877 1246h5M1790 1032h5M1883 1301h5M1859 1011h5M1932 1224h5M1835 1370h5M2008 1010h5M1848 1026h5M2027 1257h5M1920 1057h5M1922 1045h5M1980 1326h5M1696 1129h5M2016 1179h5M2015 1135h5M1757 1366h5M1840 1157h5M2023 1236h5M1978 1059h5M1834 1011h5M1739 1029h5M1920 1295h5M1845 990h5M1907 1148h5M1924 1070h5M1779 1128h5M1795 1120h5M1834 1058h5M2075 974h5M1897 1349h5M1780 1273h5M1773 1301h5M1979 1253h5M1998 1324h5M1738 1300h5M2046 995h5M1726 1207h5M2055 1104h5M2037 1106h5M2044 1131h5M2020 1290h5M1710 1079h5M1921 1375h5M1767 1014h5M1827 1020h5M1839 995h5M2078 1018h5M1728 1349h5M1693 1108h5M2000 974h5M1941 1093h5M2130 980h5M1930 1044h5M1986 1011h5M1743 1327h5M1953 1146h5M1971 1080h5M1887 1243h5M1846 1264h5M1818 989h5M2026 1147h5M1730 1037h5M1869 1157h5M1996 1301h5M2028 1034h5M1805 1019h5M2093 995h5M2124 999h5M1731 1131h5M1720 1170h5M1756 1251h5M1784 1199h5M1781 1349h5M1890 1274h5M1818 1279h5M1955 1095h5M1735 1204h5M1786 1348h5M1769 1104h5M1855 1349h5M1946 998h5M1953 1227h5M1939 1251h5M1810 1164h5M1788 1344h5M1902 1209h5M1782 1004h5M1981 1342h5M2013 1297h5M1930 1174h5M2095 1021h5M1995 1146h5M1890 1185h5M1831 1347h5M1890 1141h5M1869 1030h5M1981 1239h5M1789 1164h5M2030 1034h5M1749 1125h5M1763 1110h5M1885 1029h5M1870 1206h5M2093 989h5M1698 1079h5M2074 991h5M2028 1087h5M1703 1147h5M1838 1005h5M1984 1116h5M1902 1027h5M1950 1210h5M1886 1297h5M1920 1071h5M2057 1121h5M1911 1131h5M1782 1234h5M1837 1166h5M1711 1302h5M1911 1359h5M1849 1280h5M1947 979h5M1885 1341h5M1985 1237h5M1861 1273h5M1971 1201h5M1825 1070h5M1857 1375h5" stroke="#777" stroke-width="5" stroke-opacity="0.75" fill="none"/>
<path d="M176.50,101.50 C179.13,100.43 185.50,100.82 190.00,100.60 C194.50,100.38 201.53,98.63 203.50,100.20 C205.47,101.77 202.30,106.45 201.80,110.00 C201.30,113.55 201.38,118.08 200.50,121.50 C199.62,124.92 198.08,128.32 196.50,130.50 C194.92,132.68 193.58,133.82 191.00,134.60 C188.42,135.38 183.53,135.88 181.00,135.20 C178.47,134.52 176.93,133.03 175.80,130.50 C174.67,127.97 174.47,123.92 174.20,120.00 C173.93,116.08 173.82,110.08 174.20,107.00 C174.58,103.92 173.87,102.57 176.50,101.50Z" fill="#dedede" stroke="#555" stroke-width="0.6"/>
<ellipse cx="188.8" cy="108.0" rx="8.6" ry="7.2" transform="rotate(10,188.8,108.0)" fill="url(#cg)" stroke="none" stroke-width="0.0" fill-opacity="0.95"/>
<ellipse cx="186.0" cy="127.6" rx="7.6" ry="7.6" transform="rotate(0,186.0,127.6)" fill="url(#cg2)" stroke="none" stroke-width="0.0" fill-opacity="0.75"/>
<ellipse cx="188.8" cy="108.0" rx="7.31" ry="6.12" transform="rotate(10,188.8,108.0)" fill="none" stroke="#6a6a6a" stroke-width="0.45" stroke-opacity="0.8"/>
<ellipse cx="188.8" cy="108.0" rx="4.73" ry="3.96" transform="rotate(10,188.8,108.0)" fill="none" stroke="#6a6a6a" stroke-width="0.45" stroke-opacity="0.8"/>
<ellipse cx="186.0" cy="127.6" rx="6.08" ry="6.08" transform="rotate(0,186.0,127.6)" fill="none" stroke="#888" stroke-width="0.45" stroke-opacity="0.8"/>
<ellipse cx="186.0" cy="127.6" rx="3.80" ry="3.80" transform="rotate(0,186.0,127.6)" fill="none" stroke="#888" stroke-width="0.45" stroke-opacity="0.8"/>
<ellipse cx="189.5" cy="107.2" rx="1.6" ry="1" fill="#fff"/><ellipse cx="185.4" cy="127.8" rx="1.3" ry="1.5" fill="#fff"/>
<path d="M189.3,97.0 L193.4,104.6 L202.6,109.4 M174.6,117.2 L199.2,124.6 M200.8,97.0 L201.2,103" fill="none" stroke="#555" stroke-width="0.55"/>
<text x="175.60" y="94.70" font-size="6.2" text-anchor="start" fill="#333" textLength="4.8" lengthAdjust="spacingAndGlyphs">IV</text>
<text x="192.00" y="93.20" font-size="6.2" text-anchor="start" fill="#333" textLength="3.6" lengthAdjust="spacingAndGlyphs">III</text>
<text x="203.60" y="93.20" font-size="6.2" text-anchor="start" fill="#333" textLength="2.4" lengthAdjust="spacingAndGlyphs">II</text>
<text x="165.00" y="131.80" font-size="6.2" text-anchor="start" fill="#333" textLength="3.2" lengthAdjust="spacingAndGlyphs">V</text>
<path transform="scale(.1)" d="M2017 1835h5M2176 1731h5M2126 1682h5M2081 1784h5M2054 1797h5M2103 1801h5M2106 1921h5M1937 1648h5M1848 1810h5M2040 1851h5M2022 1895h5M1858 1721h5M2094 1692h5M2148 1888h5M2000 1652h5M2101 1838h5M1929 1763h5M2032 1700h5M2034 1697h5M2098 1955h5M1982 1784h5M2100 1908h5M1966 1651h5M2055 1826h5M2091 1894h5M1979 1875h5M2080 1989h5M1982 1740h5M1937 1860h5M1946 1924h5M2029 1843h5M2060 1830h5M2089 1682h5M1977 1756h5M1924 1785h5M2035 1870h5M2118 1883h5M2004 1677h5M2100 1913h5M2140 1889h5M2135 1806h5M1934 1763h5M2031 1941h5M1976 1846h5M1924 1871h5M1961 1958h5M2131 1742h5M2073 1565h5M2108 1678h5M2126 1775h5M2075 1850h5M2107 1816h5M2044 1878h5M2054 1868h5M1943 1760h5M2061 1600h5M1977 1887h5M1946 1893h5M1870 1945h5M1967 1778h5M2127 1725h5M1982 1815h5M1968 1912h5M2138 1666h5M2088 1824h5M2019 1917h5M2075 1771h5M2075 1890h5M2046 1871h5M1946 1923h5M2037 1696h5M1982 1826h5M2080 1999h5M1953 1915h5M2092 1935h5M2116 1962h5M2019 1801h5M2001 1789h5M2108 1850h5M2098 1791h5M2153 1665h5M2143 1863h5M2045 1836h5M2113 1722h5M2092 1832h5M1958 1983h5M2065 1719h5M1976 1897h5M1986 1886h5M1993 1804h5M2044 1776h5M2146 1817h5M1942 1812h5M2056 1880h5M2102 1854h5M2130 1894h5M2036 1792h5M2049 1723h5M2141 1807h5M2027 1840h5M2067 1735h5M2029 1817h5M2021 1771h5M2044 1826h5M1986 1977h5M2021 1842h5M2174 1812h5M2060 1652h5M2107 1678h5M1952 1882h5M2121 1796h5M1985 1850h5M2001 1629h5M1989 1817h5M1919 1880h5M2130 1729h5M1934 1750h5M2053 1697h5M2072 1832h5M2015 1990h5M1875 1659h5M2113 1793h5M2113 1684h5M2108 1657h5M1869 1789h5M2074 1773h5M2167 1760h5M2048 1827h5M1954 1977h5M2167 1849h5M1924 1811h5M1977 1783h5M2025 1885h5M1950 1894h5M2012 1790h5M2032 1870h5M1989 1733h5M1968 1870h5M2154 1987h5M2088 1864h5M1876 1672h5M2147 1864h5M2009 1656h5M2050 1672h5M2156 1755h5M2022 1996h5M2103 1906h5M2054 1846h5M1917 1668h5M2023 1887h5M1987 1677h5M1930 1738h5M2135 1847h5M2117 1789h5M2096 1781h5M2070 1883h5M1879 1837h5M2041 1621h5M1892 1661h5M2084 1750h5M2051 1835h5M2017 1878h5M1974 1801h5M2009 1796h5M2043 1915h5M2086 1678h5M2172 1752h5M2136 1780h5M2053 1893h5M2176 1764h5M1890 1764h5M2047 1789h5M2062 1853h5M1998 1848h5M2019 1709h5M2045 1652h5M2020 1827h5M2009 1849h5M2029 1998h5M2121 1739h5M1978 1670h5M1987 1825h5M2132 1684h5M2037 1780h5M2028 1721h5M2054 1935h5M2007 1945h5M2058 1873h5M1993 1817h5M1992 1870h5M1966 1978h5M1943 1969h5M1906 1789h5M2148 1804h5M2098 1804h5M1981 1663h5M1941 1894h5M1938 1668h5M2137 1856h5M2154 1757h5M1957 1852h5M2025 1857h5M2109 1980h5M2048 1963h5M1996 1992h5M2051 1694h5M1964 1705h5M2059 1936h5M2100 1967h5M2170 1904h5M1886 1888h5M2003 1562h5M2009 1798h5M2031 1704h5M2084 1847h5M1921 1913h5M2118 1780h5M1979 1905h5M2071 1799h5M2060 1818h5M2104 1712h5M2091 1614h5M1908 1708h5M1948 1771h5M2058 1713h5M1965 1864h5M1887 1737h5M2023 1800h5M2142 1873h5M1998 1804h5M2067 1847h5M2024 1898h5M2004 1676h5M2100 1881h5M1911 1828h5M1963 1870h5M2076 1827h5M1998 1618h5M2031 1685h5M2048 1760h5M2049 1783h5M1956 1745h5M1924 1920h5M2053 1675h5M2014 1800h5M2050 1828h5M1980 1873h5M2066 1898h5M2079 1842h5M1838 1812h5M1968 1661h5M2146 1843h5M2114 1846h5M2037 1890h5M2075 1889h5M2100 1888h5M2070 1597h5M2042 1961h5M2027 1916h5M1994 1869h5M1955 1808h5M2004 1770h5M2145 1987h5M2095 1816h5M1963 1792h5M2102 1958h5M2003 1969h5M1951 1724h5M2009 1841h5M2065 1811h5M2094 1911h5M2142 1762h5M2022 1861h5M2052 1974h5M2034 1860h5M2032 1804h5M1874 1805h5M2033 1898h5M2053 1959h5M1984 1764h5M2077 1699h5M2022 1828h5M1960 1848h5M2135 2008h5M2078 1752h5M2087 1999h5M1842 1815h5M2159 1754h5M1984 1935h5M1895 1702h5M2014 1931h5M1939 1967h5M2014 1924h5M2054 1826h5M1996 1912h5M2105 1905h5M2041 1968h5M2059 1905h5M1874 1834h5M2161 1780h5M2034 1742h5M1948 1880h5M2046 1883h5M2160 1832h5M1953 1774h5M1956 1666h5M2033 1977h5M2056 1742h5M2061 1763h5M2041 1907h5M1966 1769h5M1873 1853h5M2122 1950h5M2069 1833h5M2095 1772h5M2064 1534h5M1928 1663h5M2117 1666h5M2090 1745h5M2012 1650h5M2059 1778h5M1908 2005h5M2062 1646h5M1865 1866h5M2004 1868h5M2128 1922h5M2080 1861h5M2034 1799h5M1995 1716h5M1936 1668h5M1950 1974h5M1857 1813h5M2091 1938h5M2160 1789h5M1979 1816h5M2021 1879h5M1946 1893h5M2047 1838h5M1948 1739h5M2007 1850h5M2099 1870h5M2069 1782h5M2068 1846h5M2148 1867h5M1879 1764h5M2076 1749h5M1890 1882h5M1931 1862h5M2061 1824h5M2005 1874h5M1976 1848h5M1984 1789h5M2140 2008h5M2116 1721h5M1977 1918h5M2103 1729h5M2025 1862h5M2145 1821h5M2015 1736h5M2092 1818h5M2109 1880h5M1903 1836h5M2010 1804h5M1979 1751h5M2071 1702h5M1964 1731h5M1979 1875h5M2051 1680h5M2028 1726h5M1887 1851h5M1978 1845h5M1919 1838h5M2007 1766h5M2105 1917h5M2091 1767h5M2083 1747h5M2012 1745h5M2105 1735h5M2061 1792h5M1938 1747h5M2046 1830h5M1943 1893h5M1949 1886h5M2100 1871h5M1965 1707h5M1981 1987h5M2058 1825h5M2036 1830h5M1830 1714h5M2040 1785h5M1876 1775h5M2054 1610h5M2088 1958h5M1997 1807h5M2060 1770h5M1948 1832h5M2027 1868h5M2015 1822h5M2097 1807h5M2090 1939h5M1854 1787h5M2029 1726h5M1955 1561h5M2020 1824h5M2020 1897h5M2078 1748h5M2025 1640h5M1920 1888h5M2103 1692h5M1870 1800h5M2006 1686h5M2144 1647h5M1907 1861h5M1808 1883h5M2042 1815h5M2035 1853h5M1960 1685h5M2131 1898h5M1986 1838h5M1808 1963h5M2047 1869h5M1995 1737h5M2025 1810h5M2014 1653h5M1838 1804h5M2156 1760h5M1967 1741h5M1989 1900h5M2077 1667h5M1954 1948h5M2035 1749h5M2125 2008h5M2080 1873h5M2049 1744h5M1975 1582h5M1939 1795h5M2054 1721h5M1863 1760h5M1966 1862h5M1875 1793h5M2039 1759h5M1863 1836h5M1920 1562h5M2003 1707h5M2069 1928h5M2016 1721h5M2030 1821h5M2057 1781h5M1970 1816h5M2014 1789h5M2120 1923h5M2008 1798h5M1946 1672h5M2010 1697h5M2131 1893h5M1956 1877h5M2069 1833h5M1936 1780h5M1987 1792h5M2041 1857h5M2058 1735h5M2111 1907h5M2117 1858h5M2019 1973h5M2117 1719h5M2052 1759h5M2089 1940h5M1953 1734h5M2080 1686h5M2063 1645h5M1971 1779h5M1956 1681h5M2034 1850h5M1964 1800h5M2148 1618h5M1879 1976h5M2148 1884h5M2061 1805h5M1957 1943h5M2004 1747h5M2109 1841h5M2087 1779h5M1918 1801h5M2027 1885h5M1885 1752h5M2080 1953h5M1918 1792h5M1991 1986h5M2080 1727h5M2035 1945h5M1978 1670h5M1934 1688h5M1944 1803h5M2100 1822h5M1882 1762h5M2139 1749h5M1968 1781h5M2070 1732h5M2017 1714h5M2119 1911h5M2041 1828h5M1940 1744h5M2157 1604h5M1975 1880h5M2047 1927h5M2045 1787h5M2148 1739h5M1951 1788h5M2053 1954h5M2026 1886h5M1899 1798h5M2077 1857h5M1988 1802h5M1971 1757h5M2174 1929h5M2096 1691h5M2111 1783h5M2027 1710h5M1984 1903h5M2068 1763h5M1692 1686h5M1689 1699h5M1669 1776h5M1697 2005h5M1681 1976h5M1680 1731h5M1743 1813h5M1707 1905h5M1673 1734h5M1712 1922h5M1697 1758h5M1749 1892h5M1750 1907h5M1743 1862h5M1691 1833h5M1697 1883h5M1775 1687h5M1766 1811h5M1660 1742h5M1732 1848h5M1751 1892h5M1676 1912h5M1691 1925h5M1703 1851h5M1720 1819h5M1724 1983h5M1733 1921h5M1748 1835h5M1696 1859h5M1706 1681h5M1705 1788h5M1662 1722h5M1714 2000h5M1763 1825h5M1718 1974h5M1723 1755h5M1766 1899h5M1722 1771h5M1709 1941h5M1764 1736h5M1759 1826h5M1694 1833h5M1695 1872h5M1657 1734h5M1749 1653h5M1725 1863h5M1705 1782h5M1726 1875h5M1684 1894h5M1739 1753h5M1738 1822h5M1737 1664h5M1748 1808h5M1752 1908h5M1665 1781h5M1732 1768h5M1671 1808h5M1689 1860h5M1769 1875h5M1717 1841h5M1669 1799h5M1686 1715h5M1685 1856h5M1641 1785h5M1720 1910h5M1735 1873h5M1721 1831h5M1716 1918h5M1697 1800h5M1699 1805h5M1722 1992h5M1766 1723h5M1728 1902h5M1721 1895h5M1722 1775h5M1688 1998h5M1647 1939h5M1708 1927h5M1666 1813h5M1743 1743h5M1726 1913h5M1711 1652h5M1677 1942h5M1662 1988h5M1649 1814h5M1697 1856h5M1685 1903h5M1747 1736h5M1694 1956h5M1735 1867h5M1707 1779h5M1707 1853h5M1689 1982h5M1695 1823h5M1689 1859h5M1718 1838h5M1707 1911h5M1751 1797h5M1735 1694h5M1733 1907h5M1746 1940h5M1653 1885h5M1669 1690h5M1707 1804h5M1715 1904h5M1709 1956h5M1675 1785h5M1710 1973h5M1731 1736h5M1745 1838h5M1756 1923h5M1759 1884h5M1690 1724h5M1684 1827h5M1671 1844h5M1690 1962h5M1713 1853h5M1709 1739h5M1688 1912h5M1696 1902h5M1672 1964h5M1646 1775h5M1704 1782h5M1665 1791h5M1736 1923h5M1719 1826h5M1656 1860h5M1656 1784h5M1691 1827h5M1761 1799h5M1745 1664h5M1656 1763h5M1734 1841h5M1664 1654h5M1711 1791h5M1689 1866h5M1694 1942h5M1661 1893h5M1668 1749h5M1692 1833h5" stroke="#6a6a6a" stroke-width="5" stroke-opacity="0.75" fill="none"/>
<path d="M168.50,163.00 C169.33,161.20 170.58,159.12 172.50,158.20 C174.42,157.28 177.75,157.37 180.00,157.50 C182.25,157.63 184.00,159.00 186.00,159.00 C188.00,159.00 189.67,158.03 192.00,157.50 C194.33,156.97 196.67,156.45 200.00,155.80 C203.33,155.15 209.08,153.82 212.00,153.60 C214.92,153.38 217.17,153.77 217.50,154.50 C217.83,155.23 216.25,156.58 214.00,158.00 C211.75,159.42 207.00,161.25 204.00,163.00 C201.00,164.75 198.42,166.58 196.00,168.50 C193.58,170.42 190.67,172.25 189.50,174.50 C188.33,176.75 188.83,179.25 189.00,182.00 C189.17,184.75 190.67,188.17 190.50,191.00 C190.33,193.83 189.67,197.33 188.00,199.00 C186.33,200.67 182.75,201.17 180.50,201.00 C178.25,200.83 175.75,199.83 174.50,198.00 C173.25,196.17 173.50,192.83 173.00,190.00 C172.50,187.17 172.33,183.42 171.50,181.00 C170.67,178.58 168.67,177.50 168.00,175.50 C167.33,173.50 167.42,171.08 167.50,169.00 C167.58,166.92 167.67,164.80 168.50,163.00Z" fill="#cfcfcf" stroke="#777" stroke-width="0.5"/>
<path transform="scale(.1)" d="M1690 1703h6M1724 1848h6M1790 1953h6M1796 1599h6M1826 1597h6M1910 1703h6M1763 1922h6M1771 1746h6M2046 1616h6M1896 1693h6M1739 1697h6M1863 1736h6M1727 1737h6M1983 1568h6M1819 1746h6M1769 1740h6M1871 1876h6M1735 1867h6M1725 1723h6M1817 1992h6M1860 1737h6M1812 1929h6M1986 1583h6M1969 1610h6M2138 1573h6M1978 1662h6M1691 1743h6M1896 1647h6M1773 1899h6M1927 1626h6M1740 1654h6M1866 1708h6M1740 1786h6M1798 1847h6M1760 1961h6M1766 1857h6M1822 1663h6M1959 1658h6M1864 1609h6M1875 1680h6M1828 1684h6M1805 1743h6M1869 1666h6M1868 1713h6M1792 1590h6M1894 1689h6M1832 1718h6M1757 1956h6M1893 1664h6M1994 1576h6M1779 1811h6M1783 1870h6M1688 1663h6M1861 1647h6M1933 1583h6M1836 1899h6M1739 1810h6M1769 1989h6M1776 1709h6M1690 1750h6M1800 1848h6M1917 1580h6M1747 1623h6M1872 1922h6M1852 1592h6M1893 1611h6M1767 1978h6M1921 1658h6M1714 1800h6M1834 1700h6M1725 1599h6M1897 1885h6M1774 1660h6M1806 1692h6M1684 1756h6M1997 1598h6M1759 1905h6M1964 1668h6M1713 1773h6M1809 1962h6M1787 1899h6M1959 1567h6M1693 1708h6M1806 1866h6M1714 1626h6M1808 1678h6M1785 1737h6M1835 1628h6M1923 1611h6M1794 1641h6M1785 1845h6M1731 1902h6M1920 1697h6M1685 1642h6M1840 1653h6M1713 1722h6M1851 1676h6M1782 1914h6M1854 1976h6M1874 1644h6M1932 1672h6M1990 1606h6M1787 1729h6M1864 1784h6M1748 1874h6M1967 1573h6M1684 1715h6M2038 1563h6M1809 1690h6M1798 1975h6M1847 1807h6M1861 1973h6M1802 1632h6M1823 1707h6M1827 1852h6M1838 1995h6M1794 1734h6M1857 1687h6M1753 1726h6M1765 1828h6M1748 1681h6M1847 1612h6M1802 1865h6M1859 1623h6M1846 1680h6M1753 1896h6M1931 1630h6M1721 1845h6M1920 1633h6M1832 1857h6M1771 1689h6M1989 1599h6M1783 1627h6M1818 1930h6M1852 1831h6M1759 1788h6M1760 1728h6M1917 1605h6M1855 1982h6M1862 1743h6M1758 1690h6M2042 1583h6M1701 1680h6M1726 1590h6M1942 1667h6M1867 1839h6M1798 1790h6M1963 1660h6M1817 1878h6M1990 1569h6M1798 1832h6M1970 1661h6M1773 1819h6M1856 1809h6M1895 1857h6M1863 1627h6M1948 1685h6M1825 1848h6M1882 1743h6M1813 1665h6M1765 1691h6M1808 1801h6M2139 1544h6M1835 1597h6M1895 1660h6M1851 1611h6M1805 2005h6M1842 1915h6M1988 1632h6M2035 1561h6M1820 1806h6M1828 1862h6M1710 1728h6M1738 1734h6M2067 1605h6M1822 1870h6M1805 1655h6M1962 1621h6M1834 1643h6M1857 1757h6M1734 1612h6M1740 1925h6M1851 1872h6M1918 1628h6M2054 1553h6M1750 1975h6M1757 1938h6M1822 1965h6M1804 1709h6M1772 1635h6M1871 1930h6M1752 1733h6M1859 1991h6M1826 1694h6M1757 1827h6M1745 1878h6M1970 1663h6M1767 1833h6M2044 1592h6M1871 1827h6M1885 1804h6M1838 1814h6M1802 1621h6M1774 1747h6M1936 1700h6M2036 1627h6M2019 1621h6M1903 1913h6M1838 1964h6M1767 1691h6M2052 1613h6M1863 1934h6M1992 1621h6M1732 1786h6M1822 1616h6M1774 1868h6M2033 1583h6M1775 1839h6M1822 1967h6M1770 1764h6M1922 1588h6M1739 1898h6M2031 1610h6M1856 1978h6M1785 1709h6M1730 1686h6M1831 1852h6M1842 1787h6M1867 1883h6M1826 1896h6M1859 1667h6M1794 1747h6M1735 1893h6M1887 1808h6M1796 1825h6M1811 1807h6M1865 1635h6M2020 1581h6M1723 1688h6M1881 1723h6M1954 1674h6M1818 1820h6M1810 1831h6M1798 1934h6M1925 1589h6M1750 1790h6M1865 1619h6M1773 1701h6M1840 1660h6M2057 1613h6M1767 1980h6M1779 1927h6M1778 1954h6M1788 1633h6M1799 1836h6M1739 1606h6M1960 1584h6M1816 1653h6M1845 1780h6M1841 1756h6M1764 1836h6M1755 1692h6M1836 1739h6M1768 1640h6M1856 1853h6M1719 1771h6M1762 1729h6M1836 1972h6M1699 1698h6M1848 1682h6M1858 1625h6M1861 1986h6M1856 1783h6M1720 1762h6M1721 1708h6M1864 1874h6M2135 1577h6M1891 1671h6M1778 1863h6M1868 1827h6M1752 1863h6M1863 1991h6M1790 1624h6M1832 1790h6M1691 1664h6M1803 1701h6M1738 1794h6M1782 1728h6M1925 1700h6M1740 1897h6M1875 1832h6M2073 1584h6M1965 1664h6M1746 1656h6M1892 1737h6M1685 1739h6M1859 1826h6M1877 1763h6M1740 1585h6M1763 1709h6M1776 1888h6M1924 1667h6M1886 1742h6M1751 1818h6M2003 1605h6M1815 1897h6M1779 1649h6M2048 1593h6M1760 1658h6M1893 1693h6M2132 1559h6M1889 1804h6M1859 1610h6M1688 1739h6M2092 1580h6M1837 1591h6M1808 1778h6M1868 1667h6M2057 1560h6M1731 1793h6" stroke="#777" stroke-width="6" stroke-opacity="0.8" fill="none"/>
<path d="M188.60,158.60 C189.27,156.37 193.60,156.83 196.00,156.20 C198.40,155.57 200.50,155.07 203.00,154.80 C205.50,154.53 208.80,154.37 211.00,154.60 C213.20,154.83 216.03,155.38 216.20,156.20 C216.37,157.02 213.70,158.33 212.00,159.50 C210.30,160.67 208.50,161.68 206.00,163.20 C203.50,164.72 199.33,167.53 197.00,168.60 C194.67,169.67 193.40,171.27 192.00,169.60 C190.60,167.93 187.93,160.83 188.60,158.60Z" fill="#bdbdbd" stroke="#555" stroke-width="0.55"/>
<ellipse cx="177.4" cy="168.1" rx="7.6" ry="7.3" transform="rotate(0,177.4,168.1)" fill="url(#cg)" stroke="#555" stroke-width="0.6" fill-opacity="1"/>
<ellipse cx="180.9" cy="188.6" rx="6.6" ry="10.8" transform="rotate(0,180.9,188.6)" fill="url(#cg2)" stroke="#555" stroke-width="0.6" fill-opacity="1"/>
<ellipse cx="177.4" cy="168.1" rx="5.47" ry="5.26" transform="rotate(0,177.4,168.1)" fill="none" stroke="#6a6a6a" stroke-width="0.45" stroke-opacity="0.8"/>
<ellipse cx="177.4" cy="168.1" rx="3.42" ry="3.29" transform="rotate(0,177.4,168.1)" fill="none" stroke="#6a6a6a" stroke-width="0.45" stroke-opacity="0.8"/>
<ellipse cx="180.9" cy="188.6" rx="4.75" ry="7.78" transform="rotate(0,180.9,188.6)" fill="none" stroke="#6a6a6a" stroke-width="0.45" stroke-opacity="0.8"/>
<ellipse cx="180.9" cy="188.6" rx="2.97" ry="4.86" transform="rotate(0,180.9,188.6)" fill="none" stroke="#6a6a6a" stroke-width="0.45" stroke-opacity="0.8"/>
<ellipse cx="190.7" cy="164.4" rx="5.6" ry="3.6" transform="rotate(-35,190.7,164.4)" fill="url(#cg3)" stroke="#333" stroke-width="0.55" fill-opacity="1"/>
<line x1="197.20" y1="157.40" x2="197.60" y2="167.80" stroke="#555" stroke-width="0.5"/>
<ellipse cx="205" cy="159.4" rx="6.5" ry="2.2" transform="rotate(-20,205,159.4)" fill="#cdcdcd" stroke="#555" stroke-width="0.45" fill-opacity="1"/>
<text x="171.40" y="159.00" font-size="6.2" text-anchor="start" fill="#333" textLength="4.8" lengthAdjust="spacingAndGlyphs">IV</text>
<text x="187.00" y="155.90" font-size="6.2" text-anchor="start" fill="#333" textLength="3.6" lengthAdjust="spacingAndGlyphs">III</text>
<text x="200.30" y="153.30" font-size="6.2" text-anchor="start" fill="#333" textLength="2.4" lengthAdjust="spacingAndGlyphs">II</text>
<text x="166.80" y="189.90" font-size="6.2" text-anchor="start" fill="#333" textLength="3.2" lengthAdjust="spacingAndGlyphs">V</text>
<text x="8.60" y="16.50" font-size="11.0" text-anchor="start" fill="#1a1a1a" >A</text>
<text transform="translate(12.2,52.8) rotate(-90)" font-size="6.6" text-anchor="middle" fill="#222" textLength="23.8" lengthAdjust="spacingAndGlyphs">wildtype</text>
<text transform="translate(20.1,52.8) rotate(-90)" font-size="6.6" text-anchor="middle" fill="#222" textLength="19.8" lengthAdjust="spacingAndGlyphs">control</text>
<text transform="translate(12.2,111.7) rotate(-90)" font-size="6.6" text-anchor="middle" fill="#222" textLength="18.0" lengthAdjust="spacingAndGlyphs">Flvcr1-</text>
<text transform="translate(20.1,112.0) rotate(-90)" font-size="6.6" text-anchor="middle" fill="#222" textLength="20.0" lengthAdjust="spacingAndGlyphs">deleted</text>
<text transform="translate(12.2,170.4) rotate(-90)" font-size="6.6" text-anchor="middle" fill="#222" textLength="11.5" lengthAdjust="spacingAndGlyphs">EPO</text>
<text transform="translate(20.1,170.5) rotate(-90)" font-size="6.6" text-anchor="middle" fill="#222" textLength="19.7" lengthAdjust="spacingAndGlyphs">control</text>
<line x1="25.70" y1="32.00" x2="25.70" y2="179.60" stroke="#3a3a3a" stroke-width="1.1"/>
<path d="M25.7,28.4 L28.0,34.6 L25.7,33.4 L23.4,34.6 Z" fill="#111"/>
<line x1="95.60" y1="32.00" x2="95.60" y2="181.50" stroke="#3a3a3a" stroke-width="1.1"/>
<path d="M95.6,28.4 L97.89999999999999,34.6 L95.6,33.4 L93.3,34.6 Z" fill="#111"/>
<text transform="translate(28.3,192.3) rotate(-90)" font-size="7.9" text-anchor="middle" fill="#111" stroke="#111" stroke-width="0.18" textLength="15" lengthAdjust="spacingAndGlyphs">CD71</text>
<text transform="translate(98.4,191.4) rotate(-90)" font-size="7.9" text-anchor="middle" fill="#111" stroke="#111" stroke-width="0.18" textLength="15" lengthAdjust="spacingAndGlyphs">CD44</text>
<text x="30.50" y="211.10" font-size="7.9" text-anchor="start" fill="#111" stroke="#111" stroke-width="0.18" textLength="20.4" lengthAdjust="spacingAndGlyphs">Ter119</text>
<line x1="54.00" y1="208.60" x2="83.90" y2="208.60" stroke="#111" stroke-width="1.2"/>
<path d="M88.2,208.6 L83.4,206.4 L84.2,208.6 L83.4,210.79999999999998 Z" fill="#111"/>
<text x="99.60" y="211.10" font-size="7.9" text-anchor="start" fill="#111" stroke="#111" stroke-width="0.18" textLength="20.4" lengthAdjust="spacingAndGlyphs">Ter119</text>
<line x1="122.70" y1="208.60" x2="149.90" y2="208.60" stroke="#111" stroke-width="1.2"/>
<path d="M154.2,208.6 L149.39999999999998,206.4 L150.2,208.6 L149.39999999999998,210.79999999999998 Z" fill="#111"/>
<text x="160.80" y="211.10" font-size="7.9" text-anchor="start" fill="#111" stroke="#111" stroke-width="0.18" textLength="11.8" lengthAdjust="spacingAndGlyphs">FSC</text>
<line x1="176.50" y1="208.60" x2="213.30" y2="208.60" stroke="#111" stroke-width="1.2"/>
<path d="M217.6,208.6 L212.79999999999998,206.4 L213.6,208.6 L212.79999999999998,210.79999999999998 Z" fill="#111"/>
<rect x="32.0" y="22.8" width="58.0" height="58.2" fill="none" stroke="#b4b4b4" stroke-width="0.8"/>
<rect x="32.0" y="84.0" width="58.0" height="58.599999999999994" fill="none" stroke="#b4b4b4" stroke-width="0.8"/>
<rect x="32.0" y="145.4" width="58.0" height="56.599999999999994" fill="none" stroke="#b4b4b4" stroke-width="0.8"/>
<rect x="99.4" y="22.8" width="58.400000000000006" height="58.2" fill="none" stroke="#b4b4b4" stroke-width="0.8"/>
<rect x="99.4" y="84.0" width="58.400000000000006" height="58.599999999999994" fill="none" stroke="#b4b4b4" stroke-width="0.8"/>
<rect x="99.4" y="145.4" width="58.400000000000006" height="56.599999999999994" fill="none" stroke="#b4b4b4" stroke-width="0.8"/>
<rect x="160.3" y="22.8" width="58.39999999999998" height="58.2" fill="none" stroke="#b4b4b4" stroke-width="0.8"/>
<rect x="160.3" y="84.0" width="58.39999999999998" height="58.599999999999994" fill="none" stroke="#b4b4b4" stroke-width="0.8"/>
<rect x="160.3" y="145.4" width="58.39999999999998" height="56.599999999999994" fill="none" stroke="#b4b4b4" stroke-width="0.8"/>
<line x1="32.00" y1="78.20" x2="90.00" y2="78.20" stroke="#bdbdbd" stroke-width="0.6"/>
<line x1="34.00" y1="78.20" x2="34.00" y2="79.40" stroke="#c8c8c8" stroke-width="0.4"/>
<line x1="44.50" y1="78.20" x2="44.50" y2="79.40" stroke="#c8c8c8" stroke-width="0.4"/>
<line x1="55.00" y1="78.20" x2="55.00" y2="79.40" stroke="#c8c8c8" stroke-width="0.4"/>
<line x1="65.50" y1="78.20" x2="65.50" y2="79.40" stroke="#c8c8c8" stroke-width="0.4"/>
<line x1="76.00" y1="78.20" x2="76.00" y2="79.40" stroke="#c8c8c8" stroke-width="0.4"/>
<line x1="86.50" y1="78.20" x2="86.50" y2="79.40" stroke="#c8c8c8" stroke-width="0.4"/>
<line x1="32.00" y1="139.80" x2="90.00" y2="139.80" stroke="#bdbdbd" stroke-width="0.6"/>
<line x1="34.00" y1="139.80" x2="34.00" y2="141.00" stroke="#c8c8c8" stroke-width="0.4"/>
<line x1="44.50" y1="139.80" x2="44.50" y2="141.00" stroke="#c8c8c8" stroke-width="0.4"/>
<line x1="55.00" y1="139.80" x2="55.00" y2="141.00" stroke="#c8c8c8" stroke-width="0.4"/>
<line x1="65.50" y1="139.80" x2="65.50" y2="141.00" stroke="#c8c8c8" stroke-width="0.4"/>
<line x1="76.00" y1="139.80" x2="76.00" y2="141.00" stroke="#c8c8c8" stroke-width="0.4"/>
<line x1="86.50" y1="139.80" x2="86.50" y2="141.00" stroke="#c8c8c8" stroke-width="0.4"/>
<line x1="32.00" y1="199.20" x2="90.00" y2="199.20" stroke="#bdbdbd" stroke-width="0.6"/>
<line x1="34.00" y1="199.20" x2="34.00" y2="200.40" stroke="#c8c8c8" stroke-width="0.4"/>
<line x1="44.50" y1="199.20" x2="44.50" y2="200.40" stroke="#c8c8c8" stroke-width="0.4"/>
<line x1="55.00" y1="199.20" x2="55.00" y2="200.40" stroke="#c8c8c8" stroke-width="0.4"/>
<line x1="65.50" y1="199.20" x2="65.50" y2="200.40" stroke="#c8c8c8" stroke-width="0.4"/>
<line x1="76.00" y1="199.20" x2="76.00" y2="200.40" stroke="#c8c8c8" stroke-width="0.4"/>
<line x1="86.50" y1="199.20" x2="86.50" y2="200.40" stroke="#c8c8c8" stroke-width="0.4"/>
<line x1="89.30" y1="51.00" x2="97.50" y2="51.00" stroke="#777" stroke-width="0.9"/>
<path d="M99.6,51.0 L96.6,49.6 L96.6,52.4 Z" fill="#111"/>
<line x1="89.30" y1="111.80" x2="97.50" y2="111.80" stroke="#777" stroke-width="0.9"/>
<path d="M99.6,111.8 L96.6,110.39999999999999 L96.6,113.2 Z" fill="#111"/>
<line x1="89.30" y1="172.70" x2="97.50" y2="172.70" stroke="#777" stroke-width="0.9"/>
<path d="M99.6,172.7 L96.6,171.29999999999998 L96.6,174.1 Z" fill="#111"/>
<line x1="155.20" y1="40.20" x2="161.50" y2="40.20" stroke="#777" stroke-width="0.9"/>
<path d="M164.1,40.2 L160.9,38.7 L160.9,41.7 Z" fill="#111"/>
<line x1="155.20" y1="98.60" x2="161.50" y2="98.60" stroke="#777" stroke-width="0.9"/>
<path d="M164.1,98.6 L160.9,97.1 L160.9,100.1 Z" fill="#111"/>
<line x1="155.20" y1="162.40" x2="161.50" y2="162.40" stroke="#777" stroke-width="0.9"/>
<path d="M164.1,162.4 L160.9,160.9 L160.9,163.9 Z" fill="#111"/>
<rect x="0" y="1" width="520" height="1" fill="#b4b4b4"/><rect x="1" y="0" width="1" height="420" fill="#b4b4b4"/>
<rect x="0" y="418" width="520" height="1" fill="#9a9a9a"/><rect x="518" y="0" width="1" height="420" fill="#9a9a9a"/>
<rect x="0" y="0" width="520" height="1" fill="#444"/><rect x="0" y="0" width="1" height="420" fill="#444"/>
<rect x="0" y="419" width="520" height="1" fill="#151515"/><rect x="519" y="0" width="1" height="420" fill="#151515"/>
</svg></body></html>
